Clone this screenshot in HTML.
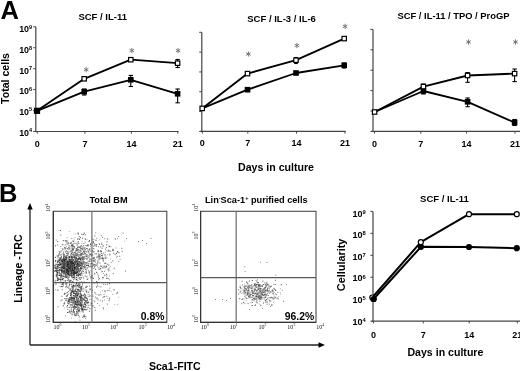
<!DOCTYPE html>
<html><head><meta charset="utf-8"><style>
html,body{margin:0;padding:0;background:#fff;}
svg{display:block;filter:blur(0.3px);}
text{font-family:"Liberation Sans",sans-serif;}
text.sf{font-family:"Liberation Serif",serif;}
</style></head><body>
<svg width="520" height="371" viewBox="0 0 520 371">
<rect width="520" height="371" fill="#fff"/>
<text x="0.4" y="18.8" font-size="25.5" font-weight="bold" text-anchor="start" fill="#000">A</text>
<text x="102.7" y="19.6" font-size="9.5" font-weight="bold" text-anchor="middle" fill="#000">SCF / IL-11</text>
<text x="281.6" y="21.7" font-size="9.5" font-weight="bold" text-anchor="middle" fill="#000">SCF / IL-3 / IL-6</text>
<text x="453.5" y="19.0" font-size="9.4" font-weight="bold" text-anchor="middle" fill="#000">SCF / IL-11 / TPO / ProGP</text>
<line x1="35.8" y1="26.8" x2="35.8" y2="131.5" stroke="#444" stroke-width="1.2"/>
<line x1="34.3" y1="131.5" x2="178.6" y2="131.5" stroke="#444" stroke-width="1.2"/>
<line x1="33.199999999999996" y1="26.8" x2="35.8" y2="26.8" stroke="#444" stroke-width="1.0"/>
<line x1="33.199999999999996" y1="47.74" x2="35.8" y2="47.74" stroke="#444" stroke-width="1.0"/>
<line x1="33.199999999999996" y1="68.68" x2="35.8" y2="68.68" stroke="#444" stroke-width="1.0"/>
<line x1="33.199999999999996" y1="89.62" x2="35.8" y2="89.62" stroke="#444" stroke-width="1.0"/>
<line x1="33.199999999999996" y1="110.56" x2="35.8" y2="110.56" stroke="#444" stroke-width="1.0"/>
<line x1="33.199999999999996" y1="131.5" x2="35.8" y2="131.5" stroke="#444" stroke-width="1.0"/>
<line x1="37.2" y1="131.5" x2="37.2" y2="133.7" stroke="#444" stroke-width="1.0"/>
<text x="37.2" y="146.5" font-size="9.0" font-weight="bold" text-anchor="middle" fill="#000">0</text>
<line x1="84.9" y1="131.5" x2="84.9" y2="133.7" stroke="#444" stroke-width="1.0"/>
<text x="84.9" y="146.5" font-size="9.0" font-weight="bold" text-anchor="middle" fill="#000">7</text>
<line x1="131.4" y1="131.5" x2="131.4" y2="133.7" stroke="#444" stroke-width="1.0"/>
<text x="131.4" y="146.5" font-size="9.0" font-weight="bold" text-anchor="middle" fill="#000">14</text>
<line x1="177.8" y1="131.5" x2="177.8" y2="133.7" stroke="#444" stroke-width="1.0"/>
<text x="177.8" y="146.5" font-size="9.0" font-weight="bold" text-anchor="middle" fill="#000">21</text>
<text x="29.0" y="32.4" font-size="8.9" font-weight="bold" text-anchor="end" fill="#000">10</text>
<text x="29.0" y="29.0" font-size="5.5" font-weight="bold" text-anchor="start" fill="#000">9</text>
<text x="29.0" y="53.02" font-size="8.9" font-weight="bold" text-anchor="end" fill="#000">10</text>
<text x="29.0" y="49.62" font-size="5.5" font-weight="bold" text-anchor="start" fill="#000">8</text>
<text x="29.0" y="73.64" font-size="8.9" font-weight="bold" text-anchor="end" fill="#000">10</text>
<text x="29.0" y="70.24" font-size="5.5" font-weight="bold" text-anchor="start" fill="#000">7</text>
<text x="29.0" y="94.26" font-size="8.9" font-weight="bold" text-anchor="end" fill="#000">10</text>
<text x="29.0" y="90.86" font-size="5.5" font-weight="bold" text-anchor="start" fill="#000">6</text>
<text x="29.0" y="114.88" font-size="8.9" font-weight="bold" text-anchor="end" fill="#000">10</text>
<text x="29.0" y="111.48" font-size="5.5" font-weight="bold" text-anchor="start" fill="#000">5</text>
<text x="29.0" y="135.5" font-size="8.9" font-weight="bold" text-anchor="end" fill="#000">10</text>
<text x="29.0" y="132.1" font-size="5.5" font-weight="bold" text-anchor="start" fill="#000">4</text>
<line x1="201.8" y1="32.3" x2="201.8" y2="131.4" stroke="#444" stroke-width="1.2"/>
<line x1="200.3" y1="131.4" x2="345.6" y2="131.4" stroke="#444" stroke-width="1.2"/>
<line x1="199.20000000000002" y1="32.3" x2="201.8" y2="32.3" stroke="#444" stroke-width="1.0"/>
<line x1="199.20000000000002" y1="52.12" x2="201.8" y2="52.12" stroke="#444" stroke-width="1.0"/>
<line x1="199.20000000000002" y1="71.94" x2="201.8" y2="71.94" stroke="#444" stroke-width="1.0"/>
<line x1="199.20000000000002" y1="91.75999999999999" x2="201.8" y2="91.75999999999999" stroke="#444" stroke-width="1.0"/>
<line x1="199.20000000000002" y1="111.58" x2="201.8" y2="111.58" stroke="#444" stroke-width="1.0"/>
<line x1="199.20000000000002" y1="131.39999999999998" x2="201.8" y2="131.39999999999998" stroke="#444" stroke-width="1.0"/>
<line x1="202.3" y1="131.4" x2="202.3" y2="133.6" stroke="#444" stroke-width="1.0"/>
<text x="202.3" y="145.7" font-size="9.0" font-weight="bold" text-anchor="middle" fill="#000">0</text>
<line x1="247.8" y1="131.4" x2="247.8" y2="133.6" stroke="#444" stroke-width="1.0"/>
<text x="247.8" y="145.7" font-size="9.0" font-weight="bold" text-anchor="middle" fill="#000">7</text>
<line x1="296.5" y1="131.4" x2="296.5" y2="133.6" stroke="#444" stroke-width="1.0"/>
<text x="296.5" y="145.7" font-size="9.0" font-weight="bold" text-anchor="middle" fill="#000">14</text>
<line x1="345.0" y1="131.4" x2="345.0" y2="133.6" stroke="#444" stroke-width="1.0"/>
<text x="345.0" y="145.7" font-size="9.0" font-weight="bold" text-anchor="middle" fill="#000">21</text>
<line x1="373.0" y1="29.4" x2="373.0" y2="131.4" stroke="#444" stroke-width="1.2"/>
<line x1="371.5" y1="131.4" x2="520" y2="131.4" stroke="#444" stroke-width="1.2"/>
<line x1="370.4" y1="29.4" x2="373.0" y2="29.4" stroke="#444" stroke-width="1.0"/>
<line x1="370.4" y1="49.8" x2="373.0" y2="49.8" stroke="#444" stroke-width="1.0"/>
<line x1="370.4" y1="70.19999999999999" x2="373.0" y2="70.19999999999999" stroke="#444" stroke-width="1.0"/>
<line x1="370.4" y1="90.6" x2="373.0" y2="90.6" stroke="#444" stroke-width="1.0"/>
<line x1="370.4" y1="111.0" x2="373.0" y2="111.0" stroke="#444" stroke-width="1.0"/>
<line x1="370.4" y1="131.4" x2="373.0" y2="131.4" stroke="#444" stroke-width="1.0"/>
<line x1="374.5" y1="131.4" x2="374.5" y2="133.6" stroke="#444" stroke-width="1.0"/>
<text x="374.5" y="147.0" font-size="9.0" font-weight="bold" text-anchor="middle" fill="#000">0</text>
<line x1="420.8" y1="131.4" x2="420.8" y2="133.6" stroke="#444" stroke-width="1.0"/>
<text x="420.8" y="147.0" font-size="9.0" font-weight="bold" text-anchor="middle" fill="#000">7</text>
<line x1="466.5" y1="131.4" x2="466.5" y2="133.6" stroke="#444" stroke-width="1.0"/>
<text x="466.5" y="147.0" font-size="9.0" font-weight="bold" text-anchor="middle" fill="#000">14</text>
<line x1="515.0" y1="131.4" x2="515.0" y2="133.6" stroke="#444" stroke-width="1.0"/>
<text x="515.0" y="147.0" font-size="9.0" font-weight="bold" text-anchor="middle" fill="#000">21</text>
<text x="276" y="170.5" font-size="10.6" font-weight="bold" text-anchor="middle" fill="#000">Days in culture</text>
<text transform="translate(9.3,78.5) rotate(-90)" font-size="10.6" font-weight="bold" text-anchor="middle" >Total cells</text>
<polyline points="37.0,110.8 84.2,78.8 130.8,59.7 177.6,63.2" fill="none" stroke="#000" stroke-width="1.85" stroke-linejoin="round"/>
<polyline points="37.0,110.8 84.2,91.7 130.8,79.8 177.6,93.8" fill="none" stroke="#000" stroke-width="1.85" stroke-linejoin="round"/>
<line x1="84.2" y1="89" x2="84.2" y2="95" stroke="#000" stroke-width="1.1"/>
<line x1="82.0" y1="89" x2="86.4" y2="89" stroke="#000" stroke-width="1.1"/>
<line x1="82.0" y1="95" x2="86.4" y2="95" stroke="#000" stroke-width="1.1"/>
<line x1="130.8" y1="75.4" x2="130.8" y2="86.5" stroke="#000" stroke-width="1.1"/>
<line x1="128.60000000000002" y1="75.4" x2="133.0" y2="75.4" stroke="#000" stroke-width="1.1"/>
<line x1="128.60000000000002" y1="86.5" x2="133.0" y2="86.5" stroke="#000" stroke-width="1.1"/>
<line x1="177.6" y1="89" x2="177.6" y2="102.8" stroke="#000" stroke-width="1.1"/>
<line x1="175.4" y1="89" x2="179.79999999999998" y2="89" stroke="#000" stroke-width="1.1"/>
<line x1="175.4" y1="102.8" x2="179.79999999999998" y2="102.8" stroke="#000" stroke-width="1.1"/>
<line x1="177.6" y1="59.5" x2="177.6" y2="67.5" stroke="#000" stroke-width="1.1"/>
<line x1="175.4" y1="59.5" x2="179.79999999999998" y2="59.5" stroke="#000" stroke-width="1.1"/>
<line x1="175.4" y1="67.5" x2="179.79999999999998" y2="67.5" stroke="#000" stroke-width="1.1"/>
<rect x="34.2" y="108.0" width="5.6" height="5.6" fill="#000"/>
<rect x="81.4" y="88.9" width="5.6" height="5.6" fill="#000"/>
<rect x="128.0" y="77.0" width="5.6" height="5.6" fill="#000"/>
<rect x="174.79999999999998" y="91.0" width="5.6" height="5.6" fill="#000"/>
<rect x="82.0" y="76.6" width="4.3999999999999995" height="4.3999999999999995" fill="#fff" stroke="#000" stroke-width="1.2"/>
<rect x="128.6" y="57.50000000000001" width="4.3999999999999995" height="4.3999999999999995" fill="#fff" stroke="#000" stroke-width="1.2"/>
<rect x="175.39999999999998" y="61.00000000000001" width="4.3999999999999995" height="4.3999999999999995" fill="#fff" stroke="#000" stroke-width="1.2"/>
<rect x="33.9" y="107.7" width="6.2" height="6.2" fill="#000"/>
<line x1="86.2" y1="67.1" x2="86.2" y2="72.3" stroke="#777" stroke-width="1.0"/>
<line x1="83.95" y1="68.4" x2="88.45" y2="71.0" stroke="#777" stroke-width="1.0"/>
<line x1="88.45" y1="68.4" x2="83.95" y2="71.0" stroke="#777" stroke-width="1.0"/>
<line x1="131.8" y1="47.9" x2="131.8" y2="53.1" stroke="#777" stroke-width="1.0"/>
<line x1="129.55" y1="49.2" x2="134.05" y2="51.8" stroke="#777" stroke-width="1.0"/>
<line x1="134.05" y1="49.2" x2="129.55" y2="51.8" stroke="#777" stroke-width="1.0"/>
<line x1="178.1" y1="48.0" x2="178.1" y2="53.2" stroke="#777" stroke-width="1.0"/>
<line x1="175.85" y1="49.3" x2="180.35" y2="51.9" stroke="#777" stroke-width="1.0"/>
<line x1="180.35" y1="49.3" x2="175.85" y2="51.9" stroke="#777" stroke-width="1.0"/>
<polyline points="202.2,108.4 247.5,73.6 296.0,60.2 344.2,38.6" fill="none" stroke="#000" stroke-width="1.85" stroke-linejoin="round"/>
<polyline points="202.2,108.4 247.5,89.7 296.0,73.0 344.2,65.3" fill="none" stroke="#000" stroke-width="1.85" stroke-linejoin="round"/>
<line x1="296.0" y1="57.5" x2="296.0" y2="63.5" stroke="#000" stroke-width="1.1"/>
<line x1="294.2" y1="57.5" x2="297.8" y2="57.5" stroke="#000" stroke-width="1.1"/>
<line x1="294.2" y1="63.5" x2="297.8" y2="63.5" stroke="#000" stroke-width="1.1"/>
<line x1="344.2" y1="63" x2="344.2" y2="68" stroke="#000" stroke-width="1.1"/>
<line x1="342.4" y1="63" x2="346.0" y2="63" stroke="#000" stroke-width="1.1"/>
<line x1="342.4" y1="68" x2="346.0" y2="68" stroke="#000" stroke-width="1.1"/>
<rect x="244.7" y="86.9" width="5.6" height="5.6" fill="#000"/>
<rect x="293.2" y="70.2" width="5.6" height="5.6" fill="#000"/>
<rect x="341.4" y="62.5" width="5.6" height="5.6" fill="#000"/>
<rect x="199.99999999999997" y="106.2" width="4.3999999999999995" height="4.3999999999999995" fill="#fff" stroke="#000" stroke-width="1.2"/>
<rect x="245.29999999999998" y="71.39999999999999" width="4.3999999999999995" height="4.3999999999999995" fill="#fff" stroke="#000" stroke-width="1.2"/>
<rect x="293.8" y="58.00000000000001" width="4.3999999999999995" height="4.3999999999999995" fill="#fff" stroke="#000" stroke-width="1.2"/>
<rect x="342.0" y="36.400000000000006" width="4.3999999999999995" height="4.3999999999999995" fill="#fff" stroke="#000" stroke-width="1.2"/>
<line x1="248.4" y1="51.4" x2="248.4" y2="56.6" stroke="#777" stroke-width="1.0"/>
<line x1="246.15" y1="52.7" x2="250.65" y2="55.3" stroke="#777" stroke-width="1.0"/>
<line x1="250.65" y1="52.7" x2="246.15" y2="55.3" stroke="#777" stroke-width="1.0"/>
<line x1="296.9" y1="42.9" x2="296.9" y2="48.1" stroke="#777" stroke-width="1.0"/>
<line x1="294.65" y1="44.2" x2="299.15" y2="46.8" stroke="#777" stroke-width="1.0"/>
<line x1="299.15" y1="44.2" x2="294.65" y2="46.8" stroke="#777" stroke-width="1.0"/>
<line x1="345.1" y1="23.8" x2="345.1" y2="29.0" stroke="#777" stroke-width="1.0"/>
<line x1="342.85" y1="25.1" x2="347.35" y2="27.7" stroke="#777" stroke-width="1.0"/>
<line x1="347.35" y1="25.1" x2="342.85" y2="27.7" stroke="#777" stroke-width="1.0"/>
<polyline points="374.6,112 423.4,86.6 467.6,75.5 514.6,73.6" fill="none" stroke="#000" stroke-width="1.85" stroke-linejoin="round"/>
<polyline points="374.6,112 423.4,91 467.6,101.8 514.6,122.5" fill="none" stroke="#000" stroke-width="1.85" stroke-linejoin="round"/>
<line x1="423.4" y1="84" x2="423.4" y2="94" stroke="#000" stroke-width="1.1"/>
<line x1="421.2" y1="84" x2="425.59999999999997" y2="84" stroke="#000" stroke-width="1.1"/>
<line x1="421.2" y1="94" x2="425.59999999999997" y2="94" stroke="#000" stroke-width="1.1"/>
<line x1="467.6" y1="72.6" x2="467.6" y2="82.3" stroke="#000" stroke-width="1.1"/>
<line x1="465.40000000000003" y1="72.6" x2="469.8" y2="72.6" stroke="#000" stroke-width="1.1"/>
<line x1="465.40000000000003" y1="82.3" x2="469.8" y2="82.3" stroke="#000" stroke-width="1.1"/>
<line x1="514.6" y1="69" x2="514.6" y2="81.6" stroke="#000" stroke-width="1.1"/>
<line x1="512.4" y1="69" x2="516.8000000000001" y2="69" stroke="#000" stroke-width="1.1"/>
<line x1="512.4" y1="81.6" x2="516.8000000000001" y2="81.6" stroke="#000" stroke-width="1.1"/>
<line x1="467.6" y1="98" x2="467.6" y2="106.7" stroke="#000" stroke-width="1.1"/>
<line x1="465.40000000000003" y1="98" x2="469.8" y2="98" stroke="#000" stroke-width="1.1"/>
<line x1="465.40000000000003" y1="106.7" x2="469.8" y2="106.7" stroke="#000" stroke-width="1.1"/>
<line x1="514.6" y1="119.5" x2="514.6" y2="125.5" stroke="#000" stroke-width="1.1"/>
<line x1="512.4" y1="119.5" x2="516.8000000000001" y2="119.5" stroke="#000" stroke-width="1.1"/>
<line x1="512.4" y1="125.5" x2="516.8000000000001" y2="125.5" stroke="#000" stroke-width="1.1"/>
<rect x="420.59999999999997" y="88.2" width="5.6" height="5.6" fill="#000"/>
<rect x="464.8" y="99.0" width="5.6" height="5.6" fill="#000"/>
<rect x="511.8" y="119.7" width="5.6" height="5.6" fill="#000"/>
<rect x="372.40000000000003" y="109.8" width="4.3999999999999995" height="4.3999999999999995" fill="#fff" stroke="#000" stroke-width="1.2"/>
<rect x="421.2" y="84.39999999999999" width="4.3999999999999995" height="4.3999999999999995" fill="#fff" stroke="#000" stroke-width="1.2"/>
<rect x="465.40000000000003" y="73.3" width="4.3999999999999995" height="4.3999999999999995" fill="#fff" stroke="#000" stroke-width="1.2"/>
<rect x="512.4" y="71.39999999999999" width="4.3999999999999995" height="4.3999999999999995" fill="#fff" stroke="#000" stroke-width="1.2"/>
<line x1="468.5" y1="39.4" x2="468.5" y2="44.6" stroke="#777" stroke-width="1.0"/>
<line x1="466.25" y1="40.7" x2="470.75" y2="43.3" stroke="#777" stroke-width="1.0"/>
<line x1="470.75" y1="40.7" x2="466.25" y2="43.3" stroke="#777" stroke-width="1.0"/>
<line x1="515.5" y1="39.4" x2="515.5" y2="44.6" stroke="#777" stroke-width="1.0"/>
<line x1="513.25" y1="40.7" x2="517.75" y2="43.3" stroke="#777" stroke-width="1.0"/>
<line x1="517.75" y1="40.7" x2="513.25" y2="43.3" stroke="#777" stroke-width="1.0"/>
<text x="-1.1" y="202.2" font-size="25.5" font-weight="bold" text-anchor="start" fill="#000">B</text>
<line x1="30" y1="345" x2="30" y2="207" stroke="#222" stroke-width="1.3"/>
<polygon points="30,203 27.3,209.5 32.7,209.5" fill="#000"/>
<line x1="30" y1="345" x2="319" y2="345" stroke="#222" stroke-width="1.3"/>
<polygon points="325,345 318.5,342.3 318.5,347.7" fill="#000"/>
<text transform="translate(22.3,268.6) rotate(-90)" font-size="10.6" font-weight="bold" text-anchor="middle" >Lineage -TRC</text>
<text x="174.8" y="370" font-size="10.6" font-weight="bold" text-anchor="middle" fill="#000">Sca1-FITC</text>
<text x="108.5" y="202.5" font-size="9.2" font-weight="bold" text-anchor="middle" fill="#000">Total BM</text>
<text x="256.3" y="202.5" font-size="9.2" font-weight="bold" text-anchor="middle" >Lin<tspan font-size="5.5" dy="-3">-</tspan><tspan dy="3">Sca-1</tspan><tspan font-size="5.5" dy="-3">+</tspan><tspan dy="3"> purified cells</tspan></text>
<text x="164.5" y="320" font-size="10.4" font-weight="bold" text-anchor="end" fill="#000">0.8%</text>
<text x="314.2" y="319.5" font-size="10.4" font-weight="bold" text-anchor="end" fill="#000">96.2%</text>
<rect x="53.3" y="211.3" width="113.50000000000001" height="111.09999999999997" fill="none" stroke="#4a4a4a" stroke-width="1.1"/>
<line x1="53.3" y1="211.3" x2="53.3" y2="322.4" stroke="#333" stroke-width="1.1"/>
<line x1="53.3" y1="322.4" x2="166.8" y2="322.4" stroke="#333" stroke-width="1.1"/>
<line x1="91.9" y1="211.3" x2="91.9" y2="322.4" stroke="#777" stroke-width="1.3"/>
<line x1="53.3" y1="282.7" x2="166.8" y2="282.7" stroke="#5a5a5a" stroke-width="1.2"/>
<text class="sf" x="53.5" y="328.8" font-size="6.0" font-weight="normal" text-anchor="start" fill="#111">10</text>
<text class="sf" x="59.6" y="326.3" font-size="3.8" font-weight="normal" text-anchor="start" fill="#111">0</text>
<text class="sf" transform="translate(50.20,322.80) rotate(-90)" font-size="6" fill="#111">10</text>
<text class="sf" transform="translate(47.70,316.70) rotate(-90)" font-size="3.8" fill="#111">0</text>
<text class="sf" x="81.88" y="328.8" font-size="6.0" font-weight="normal" text-anchor="start" fill="#111">10</text>
<text class="sf" x="87.97" y="326.3" font-size="3.8" font-weight="normal" text-anchor="start" fill="#111">1</text>
<text class="sf" transform="translate(50.20,295.02) rotate(-90)" font-size="6" fill="#111">10</text>
<text class="sf" transform="translate(47.70,288.93) rotate(-90)" font-size="3.8" fill="#111">1</text>
<text class="sf" x="110.25" y="328.8" font-size="6.0" font-weight="normal" text-anchor="start" fill="#111">10</text>
<text class="sf" x="116.35" y="326.3" font-size="3.8" font-weight="normal" text-anchor="start" fill="#111">2</text>
<text class="sf" transform="translate(50.20,267.25) rotate(-90)" font-size="6" fill="#111">10</text>
<text class="sf" transform="translate(47.70,261.15) rotate(-90)" font-size="3.8" fill="#111">2</text>
<text class="sf" x="138.62" y="328.8" font-size="6.0" font-weight="normal" text-anchor="start" fill="#111">10</text>
<text class="sf" x="144.73" y="326.3" font-size="3.8" font-weight="normal" text-anchor="start" fill="#111">3</text>
<text class="sf" transform="translate(50.20,239.47) rotate(-90)" font-size="6" fill="#111">10</text>
<text class="sf" transform="translate(47.70,233.38) rotate(-90)" font-size="3.8" fill="#111">3</text>
<text class="sf" x="167.0" y="328.8" font-size="6.0" font-weight="normal" text-anchor="start" fill="#111">10</text>
<text class="sf" x="173.1" y="326.3" font-size="3.8" font-weight="normal" text-anchor="start" fill="#111">4</text>
<text class="sf" transform="translate(50.20,211.70) rotate(-90)" font-size="6" fill="#111">10</text>
<text class="sf" transform="translate(47.70,205.60) rotate(-90)" font-size="3.8" fill="#111">4</text>
<rect x="200.6" y="211.3" width="115.4" height="111.09999999999997" fill="none" stroke="#4a4a4a" stroke-width="1.1"/>
<line x1="200.6" y1="211.3" x2="200.6" y2="322.4" stroke="#333" stroke-width="1.1"/>
<line x1="200.6" y1="322.4" x2="316.0" y2="322.4" stroke="#333" stroke-width="1.1"/>
<line x1="236.2" y1="211.3" x2="236.2" y2="322.4" stroke="#777" stroke-width="1.3"/>
<line x1="200.6" y1="277.6" x2="316.0" y2="277.6" stroke="#5a5a5a" stroke-width="1.2"/>
<text class="sf" x="200.8" y="328.8" font-size="6.0" font-weight="normal" text-anchor="start" fill="#111">10</text>
<text class="sf" x="206.9" y="326.3" font-size="3.8" font-weight="normal" text-anchor="start" fill="#111">0</text>
<text class="sf" transform="translate(197.50,322.80) rotate(-90)" font-size="6" fill="#111">10</text>
<text class="sf" transform="translate(195.00,316.70) rotate(-90)" font-size="3.8" fill="#111">0</text>
<text class="sf" x="229.65" y="328.8" font-size="6.0" font-weight="normal" text-anchor="start" fill="#111">10</text>
<text class="sf" x="235.75" y="326.3" font-size="3.8" font-weight="normal" text-anchor="start" fill="#111">1</text>
<text class="sf" transform="translate(197.50,295.02) rotate(-90)" font-size="6" fill="#111">10</text>
<text class="sf" transform="translate(195.00,288.93) rotate(-90)" font-size="3.8" fill="#111">1</text>
<text class="sf" x="258.5" y="328.8" font-size="6.0" font-weight="normal" text-anchor="start" fill="#111">10</text>
<text class="sf" x="264.6" y="326.3" font-size="3.8" font-weight="normal" text-anchor="start" fill="#111">2</text>
<text class="sf" transform="translate(197.50,267.25) rotate(-90)" font-size="6" fill="#111">10</text>
<text class="sf" transform="translate(195.00,261.15) rotate(-90)" font-size="3.8" fill="#111">2</text>
<text class="sf" x="287.35" y="328.8" font-size="6.0" font-weight="normal" text-anchor="start" fill="#111">10</text>
<text class="sf" x="293.45" y="326.3" font-size="3.8" font-weight="normal" text-anchor="start" fill="#111">3</text>
<text class="sf" transform="translate(197.50,239.47) rotate(-90)" font-size="6" fill="#111">10</text>
<text class="sf" transform="translate(195.00,233.38) rotate(-90)" font-size="3.8" fill="#111">3</text>
<text class="sf" x="316.2" y="328.8" font-size="6.0" font-weight="normal" text-anchor="start" fill="#111">10</text>
<text class="sf" x="322.3" y="326.3" font-size="3.8" font-weight="normal" text-anchor="start" fill="#111">4</text>
<text class="sf" transform="translate(197.50,211.70) rotate(-90)" font-size="6" fill="#111">10</text>
<text class="sf" transform="translate(195.00,205.60) rotate(-90)" font-size="3.8" fill="#111">4</text>
<rect x="66.6" y="270.7" width="1.0" height="1.0" fill="#333"/>
<rect x="79.6" y="268.6" width="1.0" height="1.0" fill="#777"/>
<rect x="69.9" y="269.3" width="1.0" height="1.0" fill="#999"/>
<rect x="72.8" y="266.9" width="1.0" height="1.0" fill="#999"/>
<rect x="80.4" y="267.9" width="1.0" height="1.0" fill="#555"/>
<rect x="60.4" y="259.5" width="1.0" height="1.0" fill="#333"/>
<rect x="60.5" y="263.6" width="1.0" height="1.0" fill="#555"/>
<rect x="87.0" y="267.5" width="1.0" height="1.0" fill="#777"/>
<rect x="58.6" y="272.9" width="1.0" height="1.0" fill="#777"/>
<rect x="55.6" y="263.7" width="1.0" height="1.0" fill="#333"/>
<rect x="57.2" y="262.3" width="1.0" height="1.0" fill="#777"/>
<rect x="81.3" y="271.4" width="1.0" height="1.0" fill="#333"/>
<rect x="60.8" y="260.8" width="1.0" height="1.0" fill="#999"/>
<rect x="70.8" y="256.5" width="1.0" height="1.0" fill="#999"/>
<rect x="64.4" y="271.6" width="1.0" height="1.0" fill="#555"/>
<rect x="66.8" y="260.5" width="1.0" height="1.0" fill="#777"/>
<rect x="68.0" y="259.4" width="1.0" height="1.0" fill="#333"/>
<rect x="76.3" y="270.6" width="1.0" height="1.0" fill="#777"/>
<rect x="75.4" y="272.7" width="1.0" height="1.0" fill="#333"/>
<rect x="72.7" y="264.5" width="1.0" height="1.0" fill="#777"/>
<rect x="64.3" y="273.4" width="1.0" height="1.0" fill="#999"/>
<rect x="59.8" y="263.2" width="1.0" height="1.0" fill="#333"/>
<rect x="79.1" y="261.0" width="1.0" height="1.0" fill="#333"/>
<rect x="82.7" y="268.4" width="1.0" height="1.0" fill="#999"/>
<rect x="67.0" y="274.4" width="1.0" height="1.0" fill="#777"/>
<rect x="79.5" y="265.4" width="1.0" height="1.0" fill="#555"/>
<rect x="60.5" y="261.3" width="1.0" height="1.0" fill="#555"/>
<rect x="69.6" y="261.5" width="1.0" height="1.0" fill="#555"/>
<rect x="63.3" y="267.1" width="1.0" height="1.0" fill="#999"/>
<rect x="77.0" y="249.5" width="1.0" height="1.0" fill="#777"/>
<rect x="61.5" y="243.8" width="1.0" height="1.0" fill="#999"/>
<rect x="74.2" y="263.8" width="1.0" height="1.0" fill="#555"/>
<rect x="77.1" y="274.5" width="1.0" height="1.0" fill="#333"/>
<rect x="56.4" y="269.3" width="1.0" height="1.0" fill="#777"/>
<rect x="67.9" y="270.8" width="1.0" height="1.0" fill="#777"/>
<rect x="62.6" y="262.5" width="1.0" height="1.0" fill="#555"/>
<rect x="64.8" y="257.4" width="1.0" height="1.0" fill="#333"/>
<rect x="82.7" y="259.8" width="1.0" height="1.0" fill="#999"/>
<rect x="61.4" y="272.3" width="1.0" height="1.0" fill="#999"/>
<rect x="66.7" y="264.2" width="1.0" height="1.0" fill="#333"/>
<rect x="79.2" y="263.3" width="1.0" height="1.0" fill="#333"/>
<rect x="67.3" y="268.6" width="1.0" height="1.0" fill="#333"/>
<rect x="58.2" y="263.7" width="1.0" height="1.0" fill="#777"/>
<rect x="66.3" y="264.4" width="1.0" height="1.0" fill="#555"/>
<rect x="64.9" y="263.6" width="1.0" height="1.0" fill="#777"/>
<rect x="81.4" y="260.7" width="1.0" height="1.0" fill="#999"/>
<rect x="82.2" y="274.9" width="1.0" height="1.0" fill="#999"/>
<rect x="60.8" y="268.3" width="1.0" height="1.0" fill="#555"/>
<rect x="76.0" y="269.3" width="1.0" height="1.0" fill="#777"/>
<rect x="54.6" y="270.3" width="1.0" height="1.0" fill="#333"/>
<rect x="75.5" y="284.6" width="1.0" height="1.0" fill="#777"/>
<rect x="76.2" y="273.0" width="1.0" height="1.0" fill="#333"/>
<rect x="69.4" y="258.9" width="1.0" height="1.0" fill="#333"/>
<rect x="66.5" y="260.3" width="1.0" height="1.0" fill="#777"/>
<rect x="76.5" y="260.4" width="1.0" height="1.0" fill="#555"/>
<rect x="65.8" y="271.8" width="1.0" height="1.0" fill="#555"/>
<rect x="75.1" y="250.5" width="1.0" height="1.0" fill="#555"/>
<rect x="72.4" y="274.6" width="1.0" height="1.0" fill="#333"/>
<rect x="85.8" y="262.0" width="1.0" height="1.0" fill="#999"/>
<rect x="68.2" y="278.9" width="1.0" height="1.0" fill="#777"/>
<rect x="92.6" y="260.2" width="1.0" height="1.0" fill="#777"/>
<rect x="72.9" y="267.2" width="1.0" height="1.0" fill="#999"/>
<rect x="71.1" y="270.9" width="1.0" height="1.0" fill="#333"/>
<rect x="55.3" y="270.0" width="1.0" height="1.0" fill="#333"/>
<rect x="71.4" y="261.9" width="1.0" height="1.0" fill="#999"/>
<rect x="72.2" y="251.8" width="1.0" height="1.0" fill="#999"/>
<rect x="76.8" y="258.9" width="1.0" height="1.0" fill="#777"/>
<rect x="88.6" y="272.9" width="1.0" height="1.0" fill="#999"/>
<rect x="73.8" y="267.6" width="1.0" height="1.0" fill="#555"/>
<rect x="81.5" y="265.7" width="1.0" height="1.0" fill="#999"/>
<rect x="70.9" y="261.3" width="1.0" height="1.0" fill="#999"/>
<rect x="64.1" y="260.4" width="1.0" height="1.0" fill="#555"/>
<rect x="85.9" y="265.0" width="1.0" height="1.0" fill="#333"/>
<rect x="72.0" y="260.4" width="1.0" height="1.0" fill="#777"/>
<rect x="71.6" y="275.1" width="1.0" height="1.0" fill="#777"/>
<rect x="68.4" y="274.8" width="1.0" height="1.0" fill="#555"/>
<rect x="83.5" y="268.5" width="1.0" height="1.0" fill="#999"/>
<rect x="59.9" y="254.6" width="1.0" height="1.0" fill="#999"/>
<rect x="78.1" y="249.3" width="1.0" height="1.0" fill="#555"/>
<rect x="57.7" y="266.0" width="1.0" height="1.0" fill="#333"/>
<rect x="80.5" y="253.6" width="1.0" height="1.0" fill="#333"/>
<rect x="69.9" y="261.2" width="1.0" height="1.0" fill="#555"/>
<rect x="61.1" y="264.8" width="1.0" height="1.0" fill="#999"/>
<rect x="70.0" y="262.0" width="1.0" height="1.0" fill="#333"/>
<rect x="69.1" y="272.7" width="1.0" height="1.0" fill="#333"/>
<rect x="56.8" y="267.7" width="1.0" height="1.0" fill="#333"/>
<rect x="56.7" y="272.2" width="1.0" height="1.0" fill="#555"/>
<rect x="65.3" y="258.1" width="1.0" height="1.0" fill="#999"/>
<rect x="61.8" y="267.0" width="1.0" height="1.0" fill="#777"/>
<rect x="86.8" y="254.6" width="1.0" height="1.0" fill="#555"/>
<rect x="71.8" y="261.7" width="1.0" height="1.0" fill="#333"/>
<rect x="62.5" y="271.7" width="1.0" height="1.0" fill="#555"/>
<rect x="63.1" y="269.6" width="1.0" height="1.0" fill="#777"/>
<rect x="73.3" y="247.9" width="1.0" height="1.0" fill="#555"/>
<rect x="81.7" y="259.3" width="1.0" height="1.0" fill="#777"/>
<rect x="81.3" y="277.3" width="1.0" height="1.0" fill="#999"/>
<rect x="73.5" y="285.4" width="1.0" height="1.0" fill="#999"/>
<rect x="73.2" y="262.0" width="1.0" height="1.0" fill="#555"/>
<rect x="74.3" y="272.6" width="1.0" height="1.0" fill="#999"/>
<rect x="65.7" y="271.3" width="1.0" height="1.0" fill="#777"/>
<rect x="76.6" y="269.0" width="1.0" height="1.0" fill="#777"/>
<rect x="59.3" y="264.7" width="1.0" height="1.0" fill="#333"/>
<rect x="60.4" y="274.2" width="1.0" height="1.0" fill="#777"/>
<rect x="65.5" y="266.4" width="1.0" height="1.0" fill="#555"/>
<rect x="73.4" y="264.5" width="1.0" height="1.0" fill="#777"/>
<rect x="66.2" y="284.4" width="1.0" height="1.0" fill="#555"/>
<rect x="68.4" y="270.5" width="1.0" height="1.0" fill="#999"/>
<rect x="77.4" y="254.4" width="1.0" height="1.0" fill="#777"/>
<rect x="59.2" y="273.5" width="1.0" height="1.0" fill="#999"/>
<rect x="67.7" y="262.8" width="1.0" height="1.0" fill="#333"/>
<rect x="70.9" y="260.6" width="1.0" height="1.0" fill="#333"/>
<rect x="68.8" y="267.6" width="1.0" height="1.0" fill="#333"/>
<rect x="70.3" y="262.5" width="1.0" height="1.0" fill="#555"/>
<rect x="86.3" y="269.7" width="1.0" height="1.0" fill="#999"/>
<rect x="99.5" y="262.5" width="1.0" height="1.0" fill="#999"/>
<rect x="75.7" y="261.9" width="1.0" height="1.0" fill="#555"/>
<rect x="83.4" y="266.9" width="1.0" height="1.0" fill="#333"/>
<rect x="76.3" y="263.5" width="1.0" height="1.0" fill="#555"/>
<rect x="71.5" y="272.4" width="1.0" height="1.0" fill="#777"/>
<rect x="62.7" y="266.0" width="1.0" height="1.0" fill="#999"/>
<rect x="63.1" y="267.1" width="1.0" height="1.0" fill="#777"/>
<rect x="79.1" y="238.8" width="1.0" height="1.0" fill="#333"/>
<rect x="84.4" y="264.6" width="1.0" height="1.0" fill="#555"/>
<rect x="61.9" y="266.7" width="1.0" height="1.0" fill="#999"/>
<rect x="82.8" y="273.1" width="1.0" height="1.0" fill="#999"/>
<rect x="62.4" y="258.5" width="1.0" height="1.0" fill="#999"/>
<rect x="77.0" y="263.2" width="1.0" height="1.0" fill="#555"/>
<rect x="77.7" y="263.6" width="1.0" height="1.0" fill="#555"/>
<rect x="61.7" y="271.6" width="1.0" height="1.0" fill="#333"/>
<rect x="69.8" y="264.6" width="1.0" height="1.0" fill="#777"/>
<rect x="66.1" y="267.7" width="1.0" height="1.0" fill="#999"/>
<rect x="78.7" y="255.2" width="1.0" height="1.0" fill="#777"/>
<rect x="57.1" y="260.7" width="1.0" height="1.0" fill="#333"/>
<rect x="63.6" y="268.2" width="1.0" height="1.0" fill="#999"/>
<rect x="78.0" y="264.6" width="1.0" height="1.0" fill="#777"/>
<rect x="80.8" y="262.1" width="1.0" height="1.0" fill="#555"/>
<rect x="88.2" y="266.3" width="1.0" height="1.0" fill="#555"/>
<rect x="68.7" y="266.4" width="1.0" height="1.0" fill="#999"/>
<rect x="75.6" y="268.2" width="1.0" height="1.0" fill="#555"/>
<rect x="69.2" y="280.4" width="1.0" height="1.0" fill="#333"/>
<rect x="68.6" y="269.7" width="1.0" height="1.0" fill="#999"/>
<rect x="60.9" y="263.1" width="1.0" height="1.0" fill="#777"/>
<rect x="66.7" y="272.1" width="1.0" height="1.0" fill="#555"/>
<rect x="60.7" y="256.4" width="1.0" height="1.0" fill="#999"/>
<rect x="70.4" y="252.5" width="1.0" height="1.0" fill="#999"/>
<rect x="78.0" y="275.2" width="1.0" height="1.0" fill="#555"/>
<rect x="86.4" y="267.2" width="1.0" height="1.0" fill="#999"/>
<rect x="67.2" y="251.2" width="1.0" height="1.0" fill="#555"/>
<rect x="82.4" y="256.1" width="1.0" height="1.0" fill="#333"/>
<rect x="74.8" y="255.2" width="1.0" height="1.0" fill="#555"/>
<rect x="71.4" y="266.8" width="1.0" height="1.0" fill="#777"/>
<rect x="77.9" y="262.4" width="1.0" height="1.0" fill="#999"/>
<rect x="56.5" y="264.0" width="1.0" height="1.0" fill="#555"/>
<rect x="68.2" y="266.2" width="1.0" height="1.0" fill="#333"/>
<rect x="68.9" y="256.2" width="1.0" height="1.0" fill="#333"/>
<rect x="67.1" y="263.7" width="1.0" height="1.0" fill="#999"/>
<rect x="68.9" y="269.3" width="1.0" height="1.0" fill="#777"/>
<rect x="70.5" y="279.7" width="1.0" height="1.0" fill="#555"/>
<rect x="67.3" y="243.6" width="1.0" height="1.0" fill="#999"/>
<rect x="71.1" y="262.9" width="1.0" height="1.0" fill="#777"/>
<rect x="70.4" y="254.3" width="1.0" height="1.0" fill="#555"/>
<rect x="73.7" y="267.4" width="1.0" height="1.0" fill="#777"/>
<rect x="60.5" y="257.1" width="1.0" height="1.0" fill="#555"/>
<rect x="72.4" y="265.6" width="1.0" height="1.0" fill="#777"/>
<rect x="73.3" y="264.6" width="1.0" height="1.0" fill="#555"/>
<rect x="65.5" y="260.5" width="1.0" height="1.0" fill="#777"/>
<rect x="58.6" y="269.9" width="1.0" height="1.0" fill="#333"/>
<rect x="81.0" y="263.4" width="1.0" height="1.0" fill="#777"/>
<rect x="91.1" y="259.4" width="1.0" height="1.0" fill="#333"/>
<rect x="68.1" y="269.4" width="1.0" height="1.0" fill="#999"/>
<rect x="78.4" y="264.0" width="1.0" height="1.0" fill="#555"/>
<rect x="72.7" y="267.0" width="1.0" height="1.0" fill="#777"/>
<rect x="73.8" y="263.8" width="1.0" height="1.0" fill="#777"/>
<rect x="80.2" y="255.5" width="1.0" height="1.0" fill="#555"/>
<rect x="64.6" y="269.8" width="1.0" height="1.0" fill="#999"/>
<rect x="65.0" y="259.0" width="1.0" height="1.0" fill="#555"/>
<rect x="61.0" y="271.5" width="1.0" height="1.0" fill="#333"/>
<rect x="69.3" y="265.5" width="1.0" height="1.0" fill="#777"/>
<rect x="71.6" y="262.0" width="1.0" height="1.0" fill="#555"/>
<rect x="64.3" y="249.4" width="1.0" height="1.0" fill="#777"/>
<rect x="68.9" y="269.1" width="1.0" height="1.0" fill="#999"/>
<rect x="81.7" y="263.6" width="1.0" height="1.0" fill="#777"/>
<rect x="83.2" y="257.1" width="1.0" height="1.0" fill="#333"/>
<rect x="68.4" y="268.8" width="1.0" height="1.0" fill="#777"/>
<rect x="65.4" y="263.1" width="1.0" height="1.0" fill="#777"/>
<rect x="61.4" y="270.2" width="1.0" height="1.0" fill="#777"/>
<rect x="71.2" y="257.0" width="1.0" height="1.0" fill="#333"/>
<rect x="74.1" y="254.2" width="1.0" height="1.0" fill="#555"/>
<rect x="68.4" y="263.5" width="1.0" height="1.0" fill="#999"/>
<rect x="64.2" y="261.5" width="1.0" height="1.0" fill="#333"/>
<rect x="79.2" y="258.6" width="1.0" height="1.0" fill="#555"/>
<rect x="60.4" y="268.9" width="1.0" height="1.0" fill="#777"/>
<rect x="68.4" y="279.7" width="1.0" height="1.0" fill="#777"/>
<rect x="63.2" y="270.5" width="1.0" height="1.0" fill="#999"/>
<rect x="60.1" y="264.7" width="1.0" height="1.0" fill="#555"/>
<rect x="66.7" y="263.8" width="1.0" height="1.0" fill="#999"/>
<rect x="59.1" y="264.9" width="1.0" height="1.0" fill="#777"/>
<rect x="79.4" y="263.9" width="1.0" height="1.0" fill="#555"/>
<rect x="62.2" y="265.4" width="1.0" height="1.0" fill="#555"/>
<rect x="66.7" y="269.5" width="1.0" height="1.0" fill="#555"/>
<rect x="57.3" y="279.3" width="1.0" height="1.0" fill="#555"/>
<rect x="81.0" y="254.8" width="1.0" height="1.0" fill="#999"/>
<rect x="57.3" y="277.3" width="1.0" height="1.0" fill="#555"/>
<rect x="62.8" y="272.4" width="1.0" height="1.0" fill="#333"/>
<rect x="56.6" y="268.3" width="1.0" height="1.0" fill="#777"/>
<rect x="76.9" y="271.6" width="1.0" height="1.0" fill="#555"/>
<rect x="85.9" y="272.7" width="1.0" height="1.0" fill="#999"/>
<rect x="60.7" y="272.8" width="1.0" height="1.0" fill="#777"/>
<rect x="80.2" y="250.2" width="1.0" height="1.0" fill="#333"/>
<rect x="76.0" y="271.0" width="1.0" height="1.0" fill="#999"/>
<rect x="79.8" y="262.2" width="1.0" height="1.0" fill="#333"/>
<rect x="77.5" y="249.9" width="1.0" height="1.0" fill="#999"/>
<rect x="69.0" y="270.0" width="1.0" height="1.0" fill="#555"/>
<rect x="83.7" y="281.6" width="1.0" height="1.0" fill="#333"/>
<rect x="83.2" y="258.7" width="1.0" height="1.0" fill="#999"/>
<rect x="83.2" y="270.8" width="1.0" height="1.0" fill="#333"/>
<rect x="70.4" y="259.8" width="1.0" height="1.0" fill="#333"/>
<rect x="64.1" y="261.3" width="1.0" height="1.0" fill="#555"/>
<rect x="60.8" y="260.2" width="1.0" height="1.0" fill="#999"/>
<rect x="67.5" y="262.4" width="1.0" height="1.0" fill="#333"/>
<rect x="61.9" y="286.2" width="1.0" height="1.0" fill="#555"/>
<rect x="63.8" y="270.8" width="1.0" height="1.0" fill="#333"/>
<rect x="77.0" y="265.0" width="1.0" height="1.0" fill="#999"/>
<rect x="67.5" y="273.4" width="1.0" height="1.0" fill="#555"/>
<rect x="62.1" y="268.2" width="1.0" height="1.0" fill="#555"/>
<rect x="78.6" y="265.8" width="1.0" height="1.0" fill="#777"/>
<rect x="74.9" y="266.8" width="1.0" height="1.0" fill="#999"/>
<rect x="75.0" y="267.9" width="1.0" height="1.0" fill="#999"/>
<rect x="75.1" y="262.2" width="1.0" height="1.0" fill="#333"/>
<rect x="64.0" y="254.4" width="1.0" height="1.0" fill="#777"/>
<rect x="66.4" y="261.4" width="1.0" height="1.0" fill="#777"/>
<rect x="68.2" y="256.3" width="1.0" height="1.0" fill="#555"/>
<rect x="62.6" y="267.3" width="1.0" height="1.0" fill="#555"/>
<rect x="69.8" y="271.7" width="1.0" height="1.0" fill="#777"/>
<rect x="79.3" y="271.5" width="1.0" height="1.0" fill="#555"/>
<rect x="77.7" y="258.6" width="1.0" height="1.0" fill="#333"/>
<rect x="74.1" y="263.6" width="1.0" height="1.0" fill="#999"/>
<rect x="71.0" y="266.3" width="1.0" height="1.0" fill="#555"/>
<rect x="56.1" y="274.9" width="1.0" height="1.0" fill="#555"/>
<rect x="80.5" y="254.9" width="1.0" height="1.0" fill="#333"/>
<rect x="76.7" y="261.5" width="1.0" height="1.0" fill="#555"/>
<rect x="62.3" y="258.9" width="1.0" height="1.0" fill="#999"/>
<rect x="82.8" y="266.0" width="1.0" height="1.0" fill="#999"/>
<rect x="83.6" y="242.9" width="1.0" height="1.0" fill="#999"/>
<rect x="69.3" y="266.5" width="1.0" height="1.0" fill="#777"/>
<rect x="77.7" y="268.7" width="1.0" height="1.0" fill="#333"/>
<rect x="57.1" y="277.9" width="1.0" height="1.0" fill="#777"/>
<rect x="73.4" y="257.2" width="1.0" height="1.0" fill="#333"/>
<rect x="67.3" y="261.0" width="1.0" height="1.0" fill="#999"/>
<rect x="72.2" y="272.9" width="1.0" height="1.0" fill="#999"/>
<rect x="78.6" y="265.9" width="1.0" height="1.0" fill="#999"/>
<rect x="71.4" y="266.1" width="1.0" height="1.0" fill="#333"/>
<rect x="70.1" y="263.0" width="1.0" height="1.0" fill="#555"/>
<rect x="68.7" y="248.2" width="1.0" height="1.0" fill="#777"/>
<rect x="63.4" y="272.7" width="1.0" height="1.0" fill="#333"/>
<rect x="67.8" y="279.4" width="1.0" height="1.0" fill="#777"/>
<rect x="76.1" y="261.5" width="1.0" height="1.0" fill="#333"/>
<rect x="75.9" y="265.7" width="1.0" height="1.0" fill="#999"/>
<rect x="66.7" y="257.3" width="1.0" height="1.0" fill="#999"/>
<rect x="74.2" y="247.2" width="1.0" height="1.0" fill="#999"/>
<rect x="76.5" y="271.9" width="1.0" height="1.0" fill="#333"/>
<rect x="74.0" y="252.2" width="1.0" height="1.0" fill="#555"/>
<rect x="62.4" y="262.6" width="1.0" height="1.0" fill="#777"/>
<rect x="59.6" y="262.0" width="1.0" height="1.0" fill="#999"/>
<rect x="69.1" y="259.7" width="1.0" height="1.0" fill="#333"/>
<rect x="62.6" y="259.4" width="1.0" height="1.0" fill="#777"/>
<rect x="74.3" y="272.5" width="1.0" height="1.0" fill="#333"/>
<rect x="76.4" y="264.2" width="1.0" height="1.0" fill="#333"/>
<rect x="71.6" y="274.0" width="1.0" height="1.0" fill="#999"/>
<rect x="71.4" y="269.5" width="1.0" height="1.0" fill="#999"/>
<rect x="58.6" y="259.3" width="1.0" height="1.0" fill="#333"/>
<rect x="70.5" y="258.9" width="1.0" height="1.0" fill="#777"/>
<rect x="60.6" y="264.2" width="1.0" height="1.0" fill="#777"/>
<rect x="71.2" y="271.6" width="1.0" height="1.0" fill="#555"/>
<rect x="69.7" y="272.6" width="1.0" height="1.0" fill="#555"/>
<rect x="64.6" y="274.2" width="1.0" height="1.0" fill="#555"/>
<rect x="62.1" y="267.0" width="1.0" height="1.0" fill="#333"/>
<rect x="77.6" y="270.1" width="1.0" height="1.0" fill="#555"/>
<rect x="80.3" y="248.4" width="1.0" height="1.0" fill="#333"/>
<rect x="73.9" y="260.9" width="1.0" height="1.0" fill="#333"/>
<rect x="78.5" y="285.1" width="1.0" height="1.0" fill="#555"/>
<rect x="77.3" y="261.1" width="1.0" height="1.0" fill="#555"/>
<rect x="62.0" y="269.3" width="1.0" height="1.0" fill="#333"/>
<rect x="79.1" y="271.1" width="1.0" height="1.0" fill="#777"/>
<rect x="70.8" y="273.5" width="1.0" height="1.0" fill="#555"/>
<rect x="107.7" y="268.7" width="1.0" height="1.0" fill="#333"/>
<rect x="57.8" y="260.9" width="1.0" height="1.0" fill="#555"/>
<rect x="75.9" y="250.6" width="1.0" height="1.0" fill="#999"/>
<rect x="66.4" y="261.7" width="1.0" height="1.0" fill="#777"/>
<rect x="71.1" y="266.6" width="1.0" height="1.0" fill="#999"/>
<rect x="65.7" y="265.7" width="1.0" height="1.0" fill="#333"/>
<rect x="73.0" y="253.5" width="1.0" height="1.0" fill="#555"/>
<rect x="66.3" y="263.7" width="1.0" height="1.0" fill="#555"/>
<rect x="62.9" y="271.1" width="1.0" height="1.0" fill="#777"/>
<rect x="64.1" y="259.3" width="1.0" height="1.0" fill="#333"/>
<rect x="64.3" y="276.8" width="1.0" height="1.0" fill="#777"/>
<rect x="67.4" y="267.1" width="1.0" height="1.0" fill="#777"/>
<rect x="63.2" y="260.5" width="1.0" height="1.0" fill="#999"/>
<rect x="69.3" y="266.8" width="1.0" height="1.0" fill="#555"/>
<rect x="63.5" y="268.2" width="1.0" height="1.0" fill="#333"/>
<rect x="74.0" y="266.6" width="1.0" height="1.0" fill="#999"/>
<rect x="80.2" y="270.2" width="1.0" height="1.0" fill="#777"/>
<rect x="68.5" y="261.0" width="1.0" height="1.0" fill="#777"/>
<rect x="66.6" y="276.3" width="1.0" height="1.0" fill="#333"/>
<rect x="77.6" y="270.6" width="1.0" height="1.0" fill="#555"/>
<rect x="63.2" y="282.1" width="1.0" height="1.0" fill="#333"/>
<rect x="79.8" y="262.6" width="1.0" height="1.0" fill="#333"/>
<rect x="58.5" y="260.5" width="1.0" height="1.0" fill="#333"/>
<rect x="79.9" y="257.5" width="1.0" height="1.0" fill="#555"/>
<rect x="57.1" y="255.5" width="1.0" height="1.0" fill="#999"/>
<rect x="64.3" y="263.2" width="1.0" height="1.0" fill="#999"/>
<rect x="71.7" y="270.8" width="1.0" height="1.0" fill="#999"/>
<rect x="74.1" y="263.3" width="1.0" height="1.0" fill="#777"/>
<rect x="74.1" y="269.5" width="1.0" height="1.0" fill="#555"/>
<rect x="80.8" y="266.6" width="1.0" height="1.0" fill="#333"/>
<rect x="64.9" y="260.3" width="1.0" height="1.0" fill="#999"/>
<rect x="59.3" y="261.6" width="1.0" height="1.0" fill="#777"/>
<rect x="64.2" y="261.1" width="1.0" height="1.0" fill="#555"/>
<rect x="56.6" y="273.7" width="1.0" height="1.0" fill="#999"/>
<rect x="63.0" y="266.9" width="1.0" height="1.0" fill="#333"/>
<rect x="60.9" y="260.9" width="1.0" height="1.0" fill="#555"/>
<rect x="56.5" y="272.0" width="1.0" height="1.0" fill="#999"/>
<rect x="78.0" y="251.4" width="1.0" height="1.0" fill="#999"/>
<rect x="72.9" y="268.0" width="1.0" height="1.0" fill="#999"/>
<rect x="57.7" y="279.3" width="1.0" height="1.0" fill="#333"/>
<rect x="73.9" y="266.2" width="1.0" height="1.0" fill="#777"/>
<rect x="71.0" y="255.8" width="1.0" height="1.0" fill="#333"/>
<rect x="69.3" y="248.3" width="1.0" height="1.0" fill="#555"/>
<rect x="72.5" y="265.9" width="1.0" height="1.0" fill="#333"/>
<rect x="78.3" y="286.4" width="1.0" height="1.0" fill="#999"/>
<rect x="64.9" y="281.5" width="1.0" height="1.0" fill="#555"/>
<rect x="63.1" y="254.8" width="1.0" height="1.0" fill="#555"/>
<rect x="77.1" y="267.6" width="1.0" height="1.0" fill="#777"/>
<rect x="80.0" y="278.9" width="1.0" height="1.0" fill="#777"/>
<rect x="77.7" y="259.3" width="1.0" height="1.0" fill="#777"/>
<rect x="70.9" y="271.9" width="1.0" height="1.0" fill="#555"/>
<rect x="67.9" y="268.3" width="1.0" height="1.0" fill="#555"/>
<rect x="57.9" y="274.7" width="1.0" height="1.0" fill="#777"/>
<rect x="60.4" y="251.5" width="1.0" height="1.0" fill="#555"/>
<rect x="70.9" y="259.4" width="1.0" height="1.0" fill="#333"/>
<rect x="63.1" y="261.1" width="1.0" height="1.0" fill="#999"/>
<rect x="57.2" y="264.4" width="1.0" height="1.0" fill="#333"/>
<rect x="68.8" y="276.3" width="1.0" height="1.0" fill="#999"/>
<rect x="68.3" y="258.1" width="1.0" height="1.0" fill="#999"/>
<rect x="81.4" y="263.1" width="1.0" height="1.0" fill="#777"/>
<rect x="67.1" y="269.3" width="1.0" height="1.0" fill="#555"/>
<rect x="76.0" y="277.1" width="1.0" height="1.0" fill="#333"/>
<rect x="65.7" y="276.2" width="1.0" height="1.0" fill="#777"/>
<rect x="57.0" y="261.8" width="1.0" height="1.0" fill="#777"/>
<rect x="67.3" y="252.6" width="1.0" height="1.0" fill="#555"/>
<rect x="76.8" y="273.9" width="1.0" height="1.0" fill="#999"/>
<rect x="61.1" y="271.3" width="1.0" height="1.0" fill="#333"/>
<rect x="73.6" y="269.6" width="1.0" height="1.0" fill="#333"/>
<rect x="69.7" y="266.0" width="1.0" height="1.0" fill="#777"/>
<rect x="65.2" y="276.2" width="1.0" height="1.0" fill="#555"/>
<rect x="62.1" y="270.9" width="1.0" height="1.0" fill="#555"/>
<rect x="72.8" y="276.5" width="1.0" height="1.0" fill="#999"/>
<rect x="69.9" y="267.0" width="1.0" height="1.0" fill="#555"/>
<rect x="66.3" y="257.7" width="1.0" height="1.0" fill="#333"/>
<rect x="56.6" y="255.4" width="1.0" height="1.0" fill="#777"/>
<rect x="62.9" y="270.9" width="1.0" height="1.0" fill="#333"/>
<rect x="85.5" y="268.4" width="1.0" height="1.0" fill="#777"/>
<rect x="58.7" y="261.7" width="1.0" height="1.0" fill="#999"/>
<rect x="69.2" y="284.0" width="1.0" height="1.0" fill="#333"/>
<rect x="71.0" y="266.4" width="1.0" height="1.0" fill="#555"/>
<rect x="69.3" y="268.8" width="1.0" height="1.0" fill="#333"/>
<rect x="81.0" y="264.7" width="1.0" height="1.0" fill="#555"/>
<rect x="73.0" y="269.6" width="1.0" height="1.0" fill="#999"/>
<rect x="71.3" y="260.8" width="1.0" height="1.0" fill="#777"/>
<rect x="81.3" y="268.4" width="1.0" height="1.0" fill="#999"/>
<rect x="68.8" y="265.1" width="1.0" height="1.0" fill="#999"/>
<rect x="68.7" y="256.7" width="1.0" height="1.0" fill="#999"/>
<rect x="83.5" y="288.5" width="1.0" height="1.0" fill="#777"/>
<rect x="69.3" y="268.3" width="1.0" height="1.0" fill="#777"/>
<rect x="85.8" y="251.0" width="1.0" height="1.0" fill="#777"/>
<rect x="67.2" y="260.0" width="1.0" height="1.0" fill="#999"/>
<rect x="60.7" y="250.4" width="1.0" height="1.0" fill="#777"/>
<rect x="62.8" y="285.5" width="1.0" height="1.0" fill="#555"/>
<rect x="78.7" y="269.3" width="1.0" height="1.0" fill="#555"/>
<rect x="68.5" y="272.2" width="1.0" height="1.0" fill="#555"/>
<rect x="83.8" y="258.7" width="1.0" height="1.0" fill="#777"/>
<rect x="72.4" y="273.1" width="1.0" height="1.0" fill="#555"/>
<rect x="55.5" y="279.6" width="1.0" height="1.0" fill="#999"/>
<rect x="57.5" y="269.8" width="1.0" height="1.0" fill="#333"/>
<rect x="75.4" y="257.9" width="1.0" height="1.0" fill="#555"/>
<rect x="61.6" y="264.3" width="1.0" height="1.0" fill="#555"/>
<rect x="59.2" y="274.7" width="1.0" height="1.0" fill="#555"/>
<rect x="70.4" y="267.3" width="1.0" height="1.0" fill="#333"/>
<rect x="64.9" y="263.3" width="1.0" height="1.0" fill="#555"/>
<rect x="68.3" y="264.1" width="1.0" height="1.0" fill="#555"/>
<rect x="64.2" y="255.8" width="1.0" height="1.0" fill="#333"/>
<rect x="68.7" y="263.0" width="1.0" height="1.0" fill="#777"/>
<rect x="76.4" y="284.3" width="1.0" height="1.0" fill="#333"/>
<rect x="80.6" y="254.3" width="1.0" height="1.0" fill="#999"/>
<rect x="74.0" y="268.6" width="1.0" height="1.0" fill="#333"/>
<rect x="91.7" y="266.2" width="1.0" height="1.0" fill="#333"/>
<rect x="75.1" y="254.4" width="1.0" height="1.0" fill="#777"/>
<rect x="64.0" y="267.5" width="1.0" height="1.0" fill="#555"/>
<rect x="66.6" y="273.7" width="1.0" height="1.0" fill="#777"/>
<rect x="76.3" y="265.5" width="1.0" height="1.0" fill="#777"/>
<rect x="84.3" y="267.5" width="1.0" height="1.0" fill="#777"/>
<rect x="70.6" y="254.5" width="1.0" height="1.0" fill="#999"/>
<rect x="76.8" y="255.3" width="1.0" height="1.0" fill="#333"/>
<rect x="69.6" y="263.9" width="1.0" height="1.0" fill="#333"/>
<rect x="60.5" y="278.2" width="1.0" height="1.0" fill="#555"/>
<rect x="65.0" y="251.5" width="1.0" height="1.0" fill="#777"/>
<rect x="69.2" y="266.3" width="1.0" height="1.0" fill="#555"/>
<rect x="65.2" y="280.2" width="1.0" height="1.0" fill="#333"/>
<rect x="80.0" y="264.3" width="1.0" height="1.0" fill="#999"/>
<rect x="63.0" y="252.4" width="1.0" height="1.0" fill="#999"/>
<rect x="56.6" y="267.2" width="1.0" height="1.0" fill="#555"/>
<rect x="67.6" y="271.9" width="1.0" height="1.0" fill="#555"/>
<rect x="64.4" y="266.9" width="1.0" height="1.0" fill="#333"/>
<rect x="64.9" y="265.3" width="1.0" height="1.0" fill="#777"/>
<rect x="63.1" y="273.7" width="1.0" height="1.0" fill="#999"/>
<rect x="81.2" y="255.2" width="1.0" height="1.0" fill="#999"/>
<rect x="70.6" y="264.5" width="1.0" height="1.0" fill="#555"/>
<rect x="65.7" y="274.9" width="1.0" height="1.0" fill="#555"/>
<rect x="54.7" y="280.4" width="1.0" height="1.0" fill="#555"/>
<rect x="73.6" y="263.7" width="1.0" height="1.0" fill="#333"/>
<rect x="64.1" y="272.9" width="1.0" height="1.0" fill="#555"/>
<rect x="76.0" y="258.0" width="1.0" height="1.0" fill="#777"/>
<rect x="73.9" y="272.9" width="1.0" height="1.0" fill="#777"/>
<rect x="64.7" y="264.7" width="1.0" height="1.0" fill="#999"/>
<rect x="59.8" y="257.6" width="1.0" height="1.0" fill="#555"/>
<rect x="67.3" y="280.2" width="1.0" height="1.0" fill="#555"/>
<rect x="64.7" y="244.5" width="1.0" height="1.0" fill="#777"/>
<rect x="62.0" y="262.6" width="1.0" height="1.0" fill="#555"/>
<rect x="66.1" y="271.3" width="1.0" height="1.0" fill="#333"/>
<rect x="76.1" y="275.2" width="1.0" height="1.0" fill="#555"/>
<rect x="73.3" y="252.2" width="1.0" height="1.0" fill="#999"/>
<rect x="68.3" y="270.1" width="1.0" height="1.0" fill="#333"/>
<rect x="65.2" y="283.7" width="1.0" height="1.0" fill="#999"/>
<rect x="78.4" y="266.1" width="1.0" height="1.0" fill="#999"/>
<rect x="65.1" y="257.5" width="1.0" height="1.0" fill="#777"/>
<rect x="63.9" y="268.0" width="1.0" height="1.0" fill="#999"/>
<rect x="76.1" y="264.9" width="1.0" height="1.0" fill="#999"/>
<rect x="65.2" y="256.1" width="1.0" height="1.0" fill="#999"/>
<rect x="77.0" y="254.4" width="1.0" height="1.0" fill="#555"/>
<rect x="63.2" y="256.3" width="1.0" height="1.0" fill="#999"/>
<rect x="62.3" y="269.9" width="1.0" height="1.0" fill="#333"/>
<rect x="74.6" y="261.2" width="1.0" height="1.0" fill="#999"/>
<rect x="65.9" y="255.1" width="1.0" height="1.0" fill="#777"/>
<rect x="75.4" y="257.1" width="1.0" height="1.0" fill="#333"/>
<rect x="62.0" y="261.3" width="1.0" height="1.0" fill="#555"/>
<rect x="75.7" y="260.2" width="1.0" height="1.0" fill="#333"/>
<rect x="60.6" y="273.7" width="1.0" height="1.0" fill="#333"/>
<rect x="80.6" y="266.4" width="1.0" height="1.0" fill="#555"/>
<rect x="64.1" y="246.9" width="1.0" height="1.0" fill="#555"/>
<rect x="64.6" y="266.3" width="1.0" height="1.0" fill="#999"/>
<rect x="54.4" y="265.2" width="1.0" height="1.0" fill="#333"/>
<rect x="57.6" y="256.0" width="1.0" height="1.0" fill="#777"/>
<rect x="72.6" y="277.6" width="1.0" height="1.0" fill="#999"/>
<rect x="67.3" y="254.9" width="1.0" height="1.0" fill="#333"/>
<rect x="68.9" y="274.2" width="1.0" height="1.0" fill="#333"/>
<rect x="78.9" y="265.0" width="1.0" height="1.0" fill="#999"/>
<rect x="59.2" y="258.7" width="1.0" height="1.0" fill="#777"/>
<rect x="75.2" y="269.4" width="1.0" height="1.0" fill="#999"/>
<rect x="79.8" y="260.3" width="1.0" height="1.0" fill="#555"/>
<rect x="93.2" y="260.9" width="1.0" height="1.0" fill="#999"/>
<rect x="70.2" y="270.0" width="1.0" height="1.0" fill="#333"/>
<rect x="73.9" y="254.1" width="1.0" height="1.0" fill="#999"/>
<rect x="59.5" y="257.3" width="1.0" height="1.0" fill="#555"/>
<rect x="60.8" y="276.9" width="1.0" height="1.0" fill="#999"/>
<rect x="61.2" y="268.8" width="1.0" height="1.0" fill="#555"/>
<rect x="71.0" y="256.4" width="1.0" height="1.0" fill="#555"/>
<rect x="68.0" y="274.2" width="1.0" height="1.0" fill="#777"/>
<rect x="83.2" y="262.1" width="1.0" height="1.0" fill="#999"/>
<rect x="84.2" y="263.5" width="1.0" height="1.0" fill="#777"/>
<rect x="60.3" y="277.0" width="1.0" height="1.0" fill="#777"/>
<rect x="59.0" y="268.9" width="1.0" height="1.0" fill="#333"/>
<rect x="64.1" y="260.2" width="1.0" height="1.0" fill="#777"/>
<rect x="71.0" y="263.4" width="1.0" height="1.0" fill="#777"/>
<rect x="70.1" y="261.3" width="1.0" height="1.0" fill="#777"/>
<rect x="67.9" y="265.1" width="1.0" height="1.0" fill="#333"/>
<rect x="69.9" y="269.0" width="1.0" height="1.0" fill="#777"/>
<rect x="69.0" y="269.9" width="1.0" height="1.0" fill="#555"/>
<rect x="72.7" y="261.1" width="1.0" height="1.0" fill="#999"/>
<rect x="65.9" y="270.5" width="1.0" height="1.0" fill="#999"/>
<rect x="70.5" y="260.9" width="1.0" height="1.0" fill="#333"/>
<rect x="59.1" y="252.4" width="1.0" height="1.0" fill="#777"/>
<rect x="73.7" y="277.3" width="1.0" height="1.0" fill="#333"/>
<rect x="68.5" y="257.2" width="1.0" height="1.0" fill="#333"/>
<rect x="62.0" y="265.0" width="1.0" height="1.0" fill="#555"/>
<rect x="74.0" y="256.8" width="1.0" height="1.0" fill="#333"/>
<rect x="66.8" y="260.4" width="1.0" height="1.0" fill="#555"/>
<rect x="87.2" y="263.4" width="1.0" height="1.0" fill="#999"/>
<rect x="65.3" y="257.5" width="1.0" height="1.0" fill="#777"/>
<rect x="74.0" y="258.3" width="1.0" height="1.0" fill="#999"/>
<rect x="83.3" y="263.4" width="1.0" height="1.0" fill="#555"/>
<rect x="60.2" y="258.6" width="1.0" height="1.0" fill="#333"/>
<rect x="71.9" y="265.8" width="1.0" height="1.0" fill="#777"/>
<rect x="70.5" y="262.3" width="1.0" height="1.0" fill="#999"/>
<rect x="83.8" y="266.2" width="1.0" height="1.0" fill="#555"/>
<rect x="59.0" y="281.9" width="1.0" height="1.0" fill="#777"/>
<rect x="60.0" y="279.7" width="1.0" height="1.0" fill="#555"/>
<rect x="67.1" y="273.8" width="1.0" height="1.0" fill="#777"/>
<rect x="64.3" y="281.9" width="1.0" height="1.0" fill="#999"/>
<rect x="55.3" y="289.2" width="1.0" height="1.0" fill="#777"/>
<rect x="82.7" y="261.7" width="1.0" height="1.0" fill="#333"/>
<rect x="65.0" y="273.1" width="1.0" height="1.0" fill="#777"/>
<rect x="86.7" y="278.9" width="1.0" height="1.0" fill="#333"/>
<rect x="69.6" y="263.6" width="1.0" height="1.0" fill="#999"/>
<rect x="66.1" y="265.8" width="1.0" height="1.0" fill="#777"/>
<rect x="71.3" y="267.2" width="1.0" height="1.0" fill="#999"/>
<rect x="58.2" y="260.2" width="1.0" height="1.0" fill="#999"/>
<rect x="59.1" y="259.9" width="1.0" height="1.0" fill="#333"/>
<rect x="72.3" y="277.4" width="1.0" height="1.0" fill="#999"/>
<rect x="64.9" y="263.1" width="1.0" height="1.0" fill="#555"/>
<rect x="75.8" y="258.4" width="1.0" height="1.0" fill="#333"/>
<rect x="80.9" y="257.6" width="1.0" height="1.0" fill="#777"/>
<rect x="72.6" y="262.1" width="1.0" height="1.0" fill="#777"/>
<rect x="62.2" y="264.8" width="1.0" height="1.0" fill="#777"/>
<rect x="70.0" y="267.8" width="1.0" height="1.0" fill="#333"/>
<rect x="56.7" y="273.2" width="1.0" height="1.0" fill="#333"/>
<rect x="57.5" y="268.2" width="1.0" height="1.0" fill="#333"/>
<rect x="70.5" y="257.1" width="1.0" height="1.0" fill="#999"/>
<rect x="67.5" y="266.7" width="1.0" height="1.0" fill="#999"/>
<rect x="66.0" y="262.5" width="1.0" height="1.0" fill="#999"/>
<rect x="65.2" y="265.6" width="1.0" height="1.0" fill="#999"/>
<rect x="70.3" y="270.4" width="1.0" height="1.0" fill="#333"/>
<rect x="67.8" y="266.7" width="1.0" height="1.0" fill="#333"/>
<rect x="87.7" y="261.3" width="1.0" height="1.0" fill="#555"/>
<rect x="72.4" y="262.2" width="1.0" height="1.0" fill="#333"/>
<rect x="67.0" y="277.0" width="1.0" height="1.0" fill="#999"/>
<rect x="68.4" y="260.8" width="1.0" height="1.0" fill="#333"/>
<rect x="58.5" y="278.2" width="1.0" height="1.0" fill="#555"/>
<rect x="68.5" y="262.6" width="1.0" height="1.0" fill="#999"/>
<rect x="68.4" y="287.6" width="1.0" height="1.0" fill="#333"/>
<rect x="70.6" y="265.8" width="1.0" height="1.0" fill="#333"/>
<rect x="62.7" y="271.8" width="1.0" height="1.0" fill="#555"/>
<rect x="86.4" y="258.7" width="1.0" height="1.0" fill="#333"/>
<rect x="59.6" y="286.2" width="1.0" height="1.0" fill="#999"/>
<rect x="63.4" y="268.0" width="1.0" height="1.0" fill="#333"/>
<rect x="60.1" y="276.7" width="1.0" height="1.0" fill="#999"/>
<rect x="61.8" y="269.2" width="1.0" height="1.0" fill="#777"/>
<rect x="68.1" y="269.0" width="1.0" height="1.0" fill="#777"/>
<rect x="79.4" y="254.3" width="1.0" height="1.0" fill="#333"/>
<rect x="75.3" y="255.0" width="1.0" height="1.0" fill="#777"/>
<rect x="69.2" y="274.2" width="1.0" height="1.0" fill="#999"/>
<rect x="71.7" y="259.2" width="1.0" height="1.0" fill="#333"/>
<rect x="65.7" y="272.5" width="1.0" height="1.0" fill="#555"/>
<rect x="71.1" y="264.0" width="1.0" height="1.0" fill="#555"/>
<rect x="76.2" y="249.2" width="1.0" height="1.0" fill="#555"/>
<rect x="66.2" y="282.6" width="1.0" height="1.0" fill="#999"/>
<rect x="66.7" y="269.3" width="1.0" height="1.0" fill="#999"/>
<rect x="70.9" y="260.3" width="1.0" height="1.0" fill="#555"/>
<rect x="67.8" y="268.9" width="1.0" height="1.0" fill="#999"/>
<rect x="62.7" y="268.4" width="1.0" height="1.0" fill="#777"/>
<rect x="67.9" y="265.6" width="1.0" height="1.0" fill="#999"/>
<rect x="65.1" y="267.6" width="1.0" height="1.0" fill="#777"/>
<rect x="70.0" y="259.8" width="1.0" height="1.0" fill="#777"/>
<rect x="77.7" y="257.8" width="1.0" height="1.0" fill="#999"/>
<rect x="62.6" y="266.9" width="1.0" height="1.0" fill="#555"/>
<rect x="71.1" y="270.5" width="1.0" height="1.0" fill="#777"/>
<rect x="61.0" y="275.6" width="1.0" height="1.0" fill="#999"/>
<rect x="72.5" y="249.2" width="1.0" height="1.0" fill="#555"/>
<rect x="100.2" y="268.3" width="1.0" height="1.0" fill="#777"/>
<rect x="75.1" y="258.9" width="1.0" height="1.0" fill="#999"/>
<rect x="70.3" y="261.0" width="1.0" height="1.0" fill="#333"/>
<rect x="62.5" y="275.5" width="1.0" height="1.0" fill="#333"/>
<rect x="74.3" y="268.2" width="1.0" height="1.0" fill="#999"/>
<rect x="63.4" y="264.0" width="1.0" height="1.0" fill="#777"/>
<rect x="70.9" y="250.4" width="1.0" height="1.0" fill="#555"/>
<rect x="68.9" y="268.3" width="1.0" height="1.0" fill="#555"/>
<rect x="78.3" y="264.1" width="1.0" height="1.0" fill="#333"/>
<rect x="80.5" y="267.3" width="1.0" height="1.0" fill="#999"/>
<rect x="84.0" y="253.1" width="1.0" height="1.0" fill="#999"/>
<rect x="82.1" y="257.5" width="1.0" height="1.0" fill="#333"/>
<rect x="68.4" y="276.8" width="1.0" height="1.0" fill="#333"/>
<rect x="82.6" y="260.2" width="1.0" height="1.0" fill="#999"/>
<rect x="76.6" y="279.4" width="1.0" height="1.0" fill="#777"/>
<rect x="97.7" y="255.4" width="1.0" height="1.0" fill="#555"/>
<rect x="79.6" y="281.6" width="1.0" height="1.0" fill="#777"/>
<rect x="80.2" y="267.8" width="1.0" height="1.0" fill="#333"/>
<rect x="70.5" y="263.5" width="1.0" height="1.0" fill="#999"/>
<rect x="74.0" y="266.7" width="1.0" height="1.0" fill="#333"/>
<rect x="82.3" y="259.0" width="1.0" height="1.0" fill="#777"/>
<rect x="60.3" y="262.7" width="1.0" height="1.0" fill="#333"/>
<rect x="60.0" y="269.1" width="1.0" height="1.0" fill="#999"/>
<rect x="76.7" y="271.3" width="1.0" height="1.0" fill="#555"/>
<rect x="86.2" y="253.9" width="1.0" height="1.0" fill="#999"/>
<rect x="67.7" y="260.9" width="1.0" height="1.0" fill="#333"/>
<rect x="78.9" y="277.4" width="1.0" height="1.0" fill="#333"/>
<rect x="86.5" y="256.1" width="1.0" height="1.0" fill="#555"/>
<rect x="73.2" y="244.6" width="1.0" height="1.0" fill="#999"/>
<rect x="76.3" y="254.9" width="1.0" height="1.0" fill="#999"/>
<rect x="77.3" y="263.3" width="1.0" height="1.0" fill="#555"/>
<rect x="55.8" y="270.0" width="1.0" height="1.0" fill="#555"/>
<rect x="61.4" y="279.2" width="1.0" height="1.0" fill="#555"/>
<rect x="66.3" y="256.2" width="1.0" height="1.0" fill="#555"/>
<rect x="64.0" y="268.7" width="1.0" height="1.0" fill="#999"/>
<rect x="64.3" y="269.4" width="1.0" height="1.0" fill="#777"/>
<rect x="61.8" y="264.3" width="1.0" height="1.0" fill="#555"/>
<rect x="68.7" y="270.1" width="1.0" height="1.0" fill="#999"/>
<rect x="72.8" y="263.0" width="1.0" height="1.0" fill="#333"/>
<rect x="57.6" y="257.3" width="1.0" height="1.0" fill="#555"/>
<rect x="80.7" y="273.4" width="1.0" height="1.0" fill="#777"/>
<rect x="62.3" y="269.9" width="1.0" height="1.0" fill="#555"/>
<rect x="72.8" y="263.6" width="1.0" height="1.0" fill="#777"/>
<rect x="64.1" y="269.4" width="1.0" height="1.0" fill="#777"/>
<rect x="77.4" y="273.9" width="1.0" height="1.0" fill="#999"/>
<rect x="72.0" y="258.3" width="1.0" height="1.0" fill="#555"/>
<rect x="76.3" y="262.3" width="1.0" height="1.0" fill="#777"/>
<rect x="71.4" y="276.2" width="1.0" height="1.0" fill="#555"/>
<rect x="75.4" y="256.4" width="1.0" height="1.0" fill="#555"/>
<rect x="67.5" y="260.9" width="1.0" height="1.0" fill="#333"/>
<rect x="78.5" y="248.9" width="1.0" height="1.0" fill="#999"/>
<rect x="69.4" y="260.8" width="1.0" height="1.0" fill="#555"/>
<rect x="57.7" y="259.5" width="1.0" height="1.0" fill="#555"/>
<rect x="63.5" y="264.2" width="1.0" height="1.0" fill="#333"/>
<rect x="64.9" y="257.3" width="1.0" height="1.0" fill="#333"/>
<rect x="60.3" y="266.7" width="1.0" height="1.0" fill="#777"/>
<rect x="79.4" y="250.2" width="1.0" height="1.0" fill="#999"/>
<rect x="77.2" y="269.1" width="1.0" height="1.0" fill="#999"/>
<rect x="78.4" y="273.5" width="1.0" height="1.0" fill="#555"/>
<rect x="76.0" y="279.2" width="1.0" height="1.0" fill="#777"/>
<rect x="83.4" y="266.4" width="1.0" height="1.0" fill="#333"/>
<rect x="55.4" y="283.6" width="1.0" height="1.0" fill="#333"/>
<rect x="79.9" y="273.1" width="1.0" height="1.0" fill="#777"/>
<rect x="72.5" y="248.9" width="1.0" height="1.0" fill="#333"/>
<rect x="67.8" y="270.1" width="1.0" height="1.0" fill="#999"/>
<rect x="67.0" y="267.0" width="1.0" height="1.0" fill="#555"/>
<rect x="93.7" y="264.4" width="1.0" height="1.0" fill="#555"/>
<rect x="64.8" y="263.3" width="1.0" height="1.0" fill="#777"/>
<rect x="68.9" y="281.4" width="1.0" height="1.0" fill="#333"/>
<rect x="90.5" y="264.5" width="1.0" height="1.0" fill="#555"/>
<rect x="67.7" y="282.1" width="1.0" height="1.0" fill="#999"/>
<rect x="54.4" y="266.8" width="1.0" height="1.0" fill="#333"/>
<rect x="66.5" y="269.4" width="1.0" height="1.0" fill="#555"/>
<rect x="73.7" y="266.4" width="1.0" height="1.0" fill="#999"/>
<rect x="55.2" y="261.2" width="1.0" height="1.0" fill="#333"/>
<rect x="76.0" y="270.6" width="1.0" height="1.0" fill="#555"/>
<rect x="62.4" y="265.6" width="1.0" height="1.0" fill="#555"/>
<rect x="76.5" y="273.3" width="1.0" height="1.0" fill="#999"/>
<rect x="78.1" y="277.7" width="1.0" height="1.0" fill="#999"/>
<rect x="64.6" y="256.3" width="1.0" height="1.0" fill="#333"/>
<rect x="70.5" y="258.3" width="1.0" height="1.0" fill="#555"/>
<rect x="77.0" y="253.4" width="1.0" height="1.0" fill="#777"/>
<rect x="76.3" y="249.9" width="1.0" height="1.0" fill="#333"/>
<rect x="66.6" y="270.6" width="1.0" height="1.0" fill="#777"/>
<rect x="69.0" y="274.7" width="1.0" height="1.0" fill="#333"/>
<rect x="61.3" y="275.1" width="1.0" height="1.0" fill="#333"/>
<rect x="66.1" y="271.5" width="1.0" height="1.0" fill="#333"/>
<rect x="70.5" y="274.3" width="1.0" height="1.0" fill="#999"/>
<rect x="72.7" y="246.0" width="1.0" height="1.0" fill="#333"/>
<rect x="76.2" y="248.6" width="1.0" height="1.0" fill="#333"/>
<rect x="82.3" y="266.2" width="1.0" height="1.0" fill="#777"/>
<rect x="80.6" y="258.2" width="1.0" height="1.0" fill="#333"/>
<rect x="63.8" y="262.6" width="1.0" height="1.0" fill="#333"/>
<rect x="67.1" y="273.3" width="1.0" height="1.0" fill="#555"/>
<rect x="78.3" y="272.0" width="1.0" height="1.0" fill="#777"/>
<rect x="79.9" y="269.7" width="1.0" height="1.0" fill="#555"/>
<rect x="58.4" y="271.6" width="1.0" height="1.0" fill="#777"/>
<rect x="79.8" y="258.5" width="1.0" height="1.0" fill="#777"/>
<rect x="69.2" y="269.5" width="1.0" height="1.0" fill="#777"/>
<rect x="76.0" y="255.1" width="1.0" height="1.0" fill="#555"/>
<rect x="65.3" y="262.1" width="1.0" height="1.0" fill="#777"/>
<rect x="57.4" y="270.6" width="1.0" height="1.0" fill="#999"/>
<rect x="61.0" y="268.8" width="1.0" height="1.0" fill="#555"/>
<rect x="65.9" y="271.2" width="1.0" height="1.0" fill="#999"/>
<rect x="78.4" y="262.7" width="1.0" height="1.0" fill="#777"/>
<rect x="81.3" y="281.3" width="1.0" height="1.0" fill="#777"/>
<rect x="58.6" y="264.5" width="1.0" height="1.0" fill="#777"/>
<rect x="73.8" y="261.1" width="1.0" height="1.0" fill="#333"/>
<rect x="69.8" y="261.0" width="1.0" height="1.0" fill="#333"/>
<rect x="62.1" y="262.5" width="1.0" height="1.0" fill="#333"/>
<rect x="59.2" y="279.0" width="1.0" height="1.0" fill="#555"/>
<rect x="83.3" y="262.6" width="1.0" height="1.0" fill="#555"/>
<rect x="56.8" y="274.4" width="1.0" height="1.0" fill="#555"/>
<rect x="63.1" y="256.8" width="1.0" height="1.0" fill="#777"/>
<rect x="74.0" y="256.0" width="1.0" height="1.0" fill="#999"/>
<rect x="67.4" y="278.0" width="1.0" height="1.0" fill="#555"/>
<rect x="65.2" y="268.7" width="1.0" height="1.0" fill="#999"/>
<rect x="70.2" y="254.8" width="1.0" height="1.0" fill="#999"/>
<rect x="79.9" y="277.1" width="1.0" height="1.0" fill="#777"/>
<rect x="78.1" y="256.2" width="1.0" height="1.0" fill="#999"/>
<rect x="77.7" y="254.2" width="1.0" height="1.0" fill="#777"/>
<rect x="67.7" y="259.4" width="1.0" height="1.0" fill="#999"/>
<rect x="56.4" y="266.4" width="1.0" height="1.0" fill="#777"/>
<rect x="84.7" y="263.8" width="1.0" height="1.0" fill="#999"/>
<rect x="63.1" y="271.8" width="1.0" height="1.0" fill="#777"/>
<rect x="72.3" y="257.0" width="1.0" height="1.0" fill="#999"/>
<rect x="65.4" y="264.9" width="1.0" height="1.0" fill="#777"/>
<rect x="60.8" y="281.8" width="1.0" height="1.0" fill="#555"/>
<rect x="75.2" y="263.4" width="1.0" height="1.0" fill="#999"/>
<rect x="87.4" y="249.6" width="1.0" height="1.0" fill="#333"/>
<rect x="80.7" y="267.1" width="1.0" height="1.0" fill="#999"/>
<rect x="65.4" y="276.5" width="1.0" height="1.0" fill="#777"/>
<rect x="57.6" y="266.9" width="1.0" height="1.0" fill="#999"/>
<rect x="62.1" y="272.2" width="1.0" height="1.0" fill="#777"/>
<rect x="67.7" y="266.6" width="1.0" height="1.0" fill="#333"/>
<rect x="64.7" y="266.2" width="1.0" height="1.0" fill="#777"/>
<rect x="55.3" y="268.4" width="1.0" height="1.0" fill="#555"/>
<rect x="86.9" y="248.1" width="1.0" height="1.0" fill="#999"/>
<rect x="55.8" y="276.6" width="1.0" height="1.0" fill="#777"/>
<rect x="63.4" y="254.1" width="1.0" height="1.0" fill="#333"/>
<rect x="73.0" y="271.7" width="1.0" height="1.0" fill="#333"/>
<rect x="74.2" y="256.2" width="1.0" height="1.0" fill="#333"/>
<rect x="64.6" y="261.0" width="1.0" height="1.0" fill="#777"/>
<rect x="81.4" y="240.9" width="1.0" height="1.0" fill="#999"/>
<rect x="61.1" y="260.0" width="1.0" height="1.0" fill="#555"/>
<rect x="62.9" y="266.9" width="1.0" height="1.0" fill="#555"/>
<rect x="80.4" y="267.9" width="1.0" height="1.0" fill="#333"/>
<rect x="67.2" y="264.5" width="1.0" height="1.0" fill="#999"/>
<rect x="69.7" y="265.9" width="1.0" height="1.0" fill="#333"/>
<rect x="77.3" y="260.3" width="1.0" height="1.0" fill="#333"/>
<rect x="56.9" y="261.8" width="1.0" height="1.0" fill="#555"/>
<rect x="76.4" y="277.4" width="1.0" height="1.0" fill="#777"/>
<rect x="82.9" y="250.7" width="1.0" height="1.0" fill="#555"/>
<rect x="60.3" y="263.7" width="1.0" height="1.0" fill="#333"/>
<rect x="76.0" y="272.7" width="1.0" height="1.0" fill="#333"/>
<rect x="72.7" y="265.9" width="1.0" height="1.0" fill="#999"/>
<rect x="74.8" y="254.7" width="1.0" height="1.0" fill="#333"/>
<rect x="60.5" y="257.3" width="1.0" height="1.0" fill="#777"/>
<rect x="73.3" y="270.1" width="1.0" height="1.0" fill="#777"/>
<rect x="72.6" y="271.1" width="1.0" height="1.0" fill="#333"/>
<rect x="83.6" y="247.7" width="1.0" height="1.0" fill="#333"/>
<rect x="63.0" y="274.5" width="1.0" height="1.0" fill="#999"/>
<rect x="75.6" y="265.5" width="1.0" height="1.0" fill="#999"/>
<rect x="56.7" y="272.5" width="1.0" height="1.0" fill="#555"/>
<rect x="69.9" y="270.7" width="1.0" height="1.0" fill="#555"/>
<rect x="60.9" y="283.8" width="1.0" height="1.0" fill="#999"/>
<rect x="64.7" y="277.4" width="1.0" height="1.0" fill="#999"/>
<rect x="72.5" y="265.0" width="1.0" height="1.0" fill="#999"/>
<rect x="63.3" y="257.2" width="1.0" height="1.0" fill="#999"/>
<rect x="62.0" y="283.1" width="1.0" height="1.0" fill="#999"/>
<rect x="87.9" y="265.0" width="1.0" height="1.0" fill="#333"/>
<rect x="73.1" y="272.2" width="1.0" height="1.0" fill="#555"/>
<rect x="88.6" y="263.3" width="1.0" height="1.0" fill="#999"/>
<rect x="64.7" y="265.2" width="1.0" height="1.0" fill="#999"/>
<rect x="61.9" y="277.6" width="1.0" height="1.0" fill="#333"/>
<rect x="60.1" y="264.9" width="1.0" height="1.0" fill="#999"/>
<rect x="67.5" y="272.3" width="1.0" height="1.0" fill="#333"/>
<rect x="68.6" y="267.9" width="1.0" height="1.0" fill="#555"/>
<rect x="69.3" y="270.3" width="1.0" height="1.0" fill="#555"/>
<rect x="66.8" y="282.1" width="1.0" height="1.0" fill="#555"/>
<rect x="59.0" y="264.6" width="1.0" height="1.0" fill="#555"/>
<rect x="73.8" y="271.7" width="1.0" height="1.0" fill="#999"/>
<rect x="75.1" y="284.7" width="1.0" height="1.0" fill="#555"/>
<rect x="70.5" y="274.8" width="1.0" height="1.0" fill="#555"/>
<rect x="100.2" y="250.0" width="1.0" height="1.0" fill="#999"/>
<rect x="61.2" y="263.2" width="1.0" height="1.0" fill="#555"/>
<rect x="59.6" y="273.3" width="1.0" height="1.0" fill="#555"/>
<rect x="72.4" y="262.3" width="1.0" height="1.0" fill="#333"/>
<rect x="61.7" y="265.6" width="1.0" height="1.0" fill="#999"/>
<rect x="83.9" y="265.7" width="1.0" height="1.0" fill="#555"/>
<rect x="65.5" y="274.3" width="1.0" height="1.0" fill="#333"/>
<rect x="63.4" y="253.5" width="1.0" height="1.0" fill="#555"/>
<rect x="63.0" y="278.2" width="1.0" height="1.0" fill="#333"/>
<rect x="88.1" y="270.2" width="1.0" height="1.0" fill="#777"/>
<rect x="74.3" y="277.5" width="1.0" height="1.0" fill="#333"/>
<rect x="69.7" y="270.1" width="1.0" height="1.0" fill="#999"/>
<rect x="67.1" y="274.6" width="1.0" height="1.0" fill="#999"/>
<rect x="72.1" y="248.4" width="1.0" height="1.0" fill="#555"/>
<rect x="74.5" y="263.0" width="1.0" height="1.0" fill="#777"/>
<rect x="63.0" y="256.0" width="1.0" height="1.0" fill="#777"/>
<rect x="70.7" y="264.6" width="1.0" height="1.0" fill="#999"/>
<rect x="69.2" y="282.1" width="1.0" height="1.0" fill="#777"/>
<rect x="72.6" y="263.3" width="1.0" height="1.0" fill="#777"/>
<rect x="84.7" y="275.4" width="1.0" height="1.0" fill="#555"/>
<rect x="68.4" y="263.8" width="1.0" height="1.0" fill="#333"/>
<rect x="61.2" y="261.8" width="1.0" height="1.0" fill="#777"/>
<rect x="77.6" y="275.8" width="1.0" height="1.0" fill="#777"/>
<rect x="62.7" y="264.8" width="1.0" height="1.0" fill="#999"/>
<rect x="67.5" y="260.0" width="1.0" height="1.0" fill="#999"/>
<rect x="63.0" y="257.5" width="1.0" height="1.0" fill="#333"/>
<rect x="81.3" y="272.9" width="1.0" height="1.0" fill="#777"/>
<rect x="84.8" y="253.3" width="1.0" height="1.0" fill="#333"/>
<rect x="83.2" y="261.4" width="1.0" height="1.0" fill="#333"/>
<rect x="70.7" y="260.2" width="1.0" height="1.0" fill="#777"/>
<rect x="69.0" y="262.5" width="1.0" height="1.0" fill="#999"/>
<rect x="82.1" y="263.5" width="1.0" height="1.0" fill="#555"/>
<rect x="68.2" y="269.7" width="1.0" height="1.0" fill="#999"/>
<rect x="60.9" y="270.1" width="1.0" height="1.0" fill="#999"/>
<rect x="54.7" y="267.9" width="1.0" height="1.0" fill="#555"/>
<rect x="58.8" y="272.2" width="1.0" height="1.0" fill="#555"/>
<rect x="62.9" y="267.5" width="1.0" height="1.0" fill="#777"/>
<rect x="71.6" y="270.0" width="1.0" height="1.0" fill="#555"/>
<rect x="62.1" y="265.5" width="1.0" height="1.0" fill="#333"/>
<rect x="73.3" y="271.9" width="1.0" height="1.0" fill="#333"/>
<rect x="71.5" y="272.4" width="1.0" height="1.0" fill="#555"/>
<rect x="64.7" y="257.9" width="1.0" height="1.0" fill="#999"/>
<rect x="69.5" y="272.1" width="1.0" height="1.0" fill="#999"/>
<rect x="78.1" y="273.2" width="1.0" height="1.0" fill="#777"/>
<rect x="79.0" y="273.9" width="1.0" height="1.0" fill="#555"/>
<rect x="60.2" y="280.8" width="1.0" height="1.0" fill="#999"/>
<rect x="69.4" y="260.9" width="1.0" height="1.0" fill="#555"/>
<rect x="60.4" y="262.2" width="1.0" height="1.0" fill="#999"/>
<rect x="71.3" y="262.0" width="1.0" height="1.0" fill="#777"/>
<rect x="79.9" y="264.8" width="1.0" height="1.0" fill="#333"/>
<rect x="76.2" y="267.2" width="1.0" height="1.0" fill="#555"/>
<rect x="75.3" y="269.5" width="1.0" height="1.0" fill="#333"/>
<rect x="74.5" y="272.7" width="1.0" height="1.0" fill="#777"/>
<rect x="66.0" y="276.8" width="1.0" height="1.0" fill="#333"/>
<rect x="98.5" y="262.5" width="1.0" height="1.0" fill="#999"/>
<rect x="82.0" y="270.3" width="1.0" height="1.0" fill="#777"/>
<rect x="77.5" y="270.6" width="1.0" height="1.0" fill="#999"/>
<rect x="65.1" y="273.8" width="1.0" height="1.0" fill="#333"/>
<rect x="60.8" y="258.2" width="1.0" height="1.0" fill="#777"/>
<rect x="66.8" y="263.6" width="1.0" height="1.0" fill="#333"/>
<rect x="78.4" y="265.6" width="1.0" height="1.0" fill="#555"/>
<rect x="67.3" y="271.4" width="1.0" height="1.0" fill="#555"/>
<rect x="81.1" y="271.8" width="1.0" height="1.0" fill="#777"/>
<rect x="68.6" y="258.7" width="1.0" height="1.0" fill="#555"/>
<rect x="63.6" y="260.7" width="1.0" height="1.0" fill="#555"/>
<rect x="60.9" y="275.2" width="1.0" height="1.0" fill="#777"/>
<rect x="72.8" y="259.9" width="1.0" height="1.0" fill="#333"/>
<rect x="80.9" y="266.6" width="1.0" height="1.0" fill="#999"/>
<rect x="87.9" y="251.4" width="1.0" height="1.0" fill="#999"/>
<rect x="55.4" y="274.7" width="1.0" height="1.0" fill="#777"/>
<rect x="58.3" y="260.9" width="1.0" height="1.0" fill="#555"/>
<rect x="66.8" y="261.8" width="1.0" height="1.0" fill="#999"/>
<rect x="62.7" y="260.7" width="1.0" height="1.0" fill="#333"/>
<rect x="75.4" y="257.2" width="1.0" height="1.0" fill="#555"/>
<rect x="68.9" y="265.4" width="1.0" height="1.0" fill="#999"/>
<rect x="71.3" y="268.1" width="1.0" height="1.0" fill="#333"/>
<rect x="59.1" y="267.0" width="1.0" height="1.0" fill="#777"/>
<rect x="70.2" y="266.2" width="1.0" height="1.0" fill="#555"/>
<rect x="73.7" y="262.3" width="1.0" height="1.0" fill="#777"/>
<rect x="86.1" y="263.3" width="1.0" height="1.0" fill="#777"/>
<rect x="59.3" y="263.9" width="1.0" height="1.0" fill="#777"/>
<rect x="59.0" y="266.9" width="1.0" height="1.0" fill="#555"/>
<rect x="93.0" y="258.3" width="1.0" height="1.0" fill="#333"/>
<rect x="70.3" y="263.1" width="1.0" height="1.0" fill="#777"/>
<rect x="62.8" y="262.7" width="1.0" height="1.0" fill="#999"/>
<rect x="79.4" y="261.4" width="1.0" height="1.0" fill="#555"/>
<rect x="66.3" y="273.8" width="1.0" height="1.0" fill="#333"/>
<rect x="72.9" y="260.5" width="1.0" height="1.0" fill="#999"/>
<rect x="67.1" y="262.0" width="1.0" height="1.0" fill="#777"/>
<rect x="64.5" y="271.6" width="1.0" height="1.0" fill="#999"/>
<rect x="65.3" y="269.2" width="1.0" height="1.0" fill="#555"/>
<rect x="75.3" y="263.8" width="1.0" height="1.0" fill="#333"/>
<rect x="72.3" y="281.0" width="1.0" height="1.0" fill="#333"/>
<rect x="74.4" y="276.5" width="1.0" height="1.0" fill="#999"/>
<rect x="70.5" y="274.9" width="1.0" height="1.0" fill="#333"/>
<rect x="67.1" y="248.2" width="1.0" height="1.0" fill="#333"/>
<rect x="77.5" y="254.4" width="1.0" height="1.0" fill="#999"/>
<rect x="76.5" y="272.0" width="1.0" height="1.0" fill="#333"/>
<rect x="58.5" y="267.0" width="1.0" height="1.0" fill="#999"/>
<rect x="72.9" y="274.1" width="1.0" height="1.0" fill="#333"/>
<rect x="79.7" y="275.0" width="1.0" height="1.0" fill="#333"/>
<rect x="66.6" y="267.9" width="1.0" height="1.0" fill="#333"/>
<rect x="81.7" y="264.8" width="1.0" height="1.0" fill="#555"/>
<rect x="64.3" y="267.9" width="1.0" height="1.0" fill="#555"/>
<rect x="55.1" y="256.8" width="1.0" height="1.0" fill="#333"/>
<rect x="85.7" y="254.7" width="1.0" height="1.0" fill="#555"/>
<rect x="56.8" y="280.0" width="1.0" height="1.0" fill="#333"/>
<rect x="71.2" y="261.8" width="1.0" height="1.0" fill="#777"/>
<rect x="57.5" y="267.2" width="1.0" height="1.0" fill="#777"/>
<rect x="68.5" y="263.6" width="1.0" height="1.0" fill="#777"/>
<rect x="78.7" y="270.4" width="1.0" height="1.0" fill="#333"/>
<rect x="89.4" y="266.2" width="1.0" height="1.0" fill="#555"/>
<rect x="68.8" y="271.5" width="1.0" height="1.0" fill="#999"/>
<rect x="97.2" y="264.3" width="1.0" height="1.0" fill="#999"/>
<rect x="70.5" y="266.9" width="1.0" height="1.0" fill="#333"/>
<rect x="75.6" y="267.7" width="1.0" height="1.0" fill="#555"/>
<rect x="61.6" y="265.0" width="1.0" height="1.0" fill="#999"/>
<rect x="75.5" y="255.3" width="1.0" height="1.0" fill="#777"/>
<rect x="54.9" y="265.5" width="1.0" height="1.0" fill="#777"/>
<rect x="70.5" y="265.3" width="1.0" height="1.0" fill="#777"/>
<rect x="80.0" y="263.7" width="1.0" height="1.0" fill="#999"/>
<rect x="80.9" y="253.2" width="1.0" height="1.0" fill="#333"/>
<rect x="80.8" y="269.1" width="1.0" height="1.0" fill="#999"/>
<rect x="82.7" y="245.4" width="1.0" height="1.0" fill="#999"/>
<rect x="66.1" y="264.4" width="1.0" height="1.0" fill="#777"/>
<rect x="60.9" y="266.2" width="1.0" height="1.0" fill="#555"/>
<rect x="66.6" y="265.1" width="1.0" height="1.0" fill="#555"/>
<rect x="75.4" y="252.7" width="1.0" height="1.0" fill="#777"/>
<rect x="60.7" y="263.7" width="1.0" height="1.0" fill="#777"/>
<rect x="65.6" y="273.5" width="1.0" height="1.0" fill="#999"/>
<rect x="68.0" y="267.6" width="1.0" height="1.0" fill="#999"/>
<rect x="78.3" y="256.3" width="1.0" height="1.0" fill="#555"/>
<rect x="68.2" y="261.5" width="1.0" height="1.0" fill="#999"/>
<rect x="67.4" y="276.0" width="1.0" height="1.0" fill="#777"/>
<rect x="61.3" y="275.9" width="1.0" height="1.0" fill="#555"/>
<rect x="71.5" y="265.4" width="1.0" height="1.0" fill="#333"/>
<rect x="80.4" y="253.6" width="1.0" height="1.0" fill="#333"/>
<rect x="64.0" y="272.0" width="1.0" height="1.0" fill="#555"/>
<rect x="84.7" y="249.1" width="1.0" height="1.0" fill="#333"/>
<rect x="63.6" y="280.3" width="1.0" height="1.0" fill="#777"/>
<rect x="55.5" y="267.7" width="1.0" height="1.0" fill="#777"/>
<rect x="79.5" y="254.7" width="1.0" height="1.0" fill="#777"/>
<rect x="77.0" y="267.4" width="1.0" height="1.0" fill="#777"/>
<rect x="81.4" y="254.1" width="1.0" height="1.0" fill="#777"/>
<rect x="82.6" y="254.2" width="1.0" height="1.0" fill="#777"/>
<rect x="72.8" y="269.9" width="1.0" height="1.0" fill="#999"/>
<rect x="61.1" y="272.1" width="1.0" height="1.0" fill="#777"/>
<rect x="80.4" y="259.2" width="1.0" height="1.0" fill="#555"/>
<rect x="66.4" y="273.2" width="1.0" height="1.0" fill="#777"/>
<rect x="74.5" y="267.4" width="1.0" height="1.0" fill="#333"/>
<rect x="64.2" y="264.7" width="1.0" height="1.0" fill="#333"/>
<rect x="75.1" y="265.7" width="1.0" height="1.0" fill="#555"/>
<rect x="57.2" y="271.8" width="1.0" height="1.0" fill="#111"/>
<rect x="72.0" y="262.6" width="1.0" height="1.0" fill="#111"/>
<rect x="68.2" y="270.4" width="1.0" height="1.0" fill="#111"/>
<rect x="69.5" y="259.5" width="1.0" height="1.0" fill="#111"/>
<rect x="67.7" y="263.2" width="1.0" height="1.0" fill="#333"/>
<rect x="56.0" y="270.9" width="1.0" height="1.0" fill="#333"/>
<rect x="75.2" y="260.6" width="1.0" height="1.0" fill="#111"/>
<rect x="69.1" y="268.2" width="1.0" height="1.0" fill="#111"/>
<rect x="66.9" y="265.5" width="1.0" height="1.0" fill="#555"/>
<rect x="67.1" y="268.9" width="1.0" height="1.0" fill="#111"/>
<rect x="67.8" y="273.7" width="1.0" height="1.0" fill="#111"/>
<rect x="59.6" y="258.5" width="1.0" height="1.0" fill="#111"/>
<rect x="63.3" y="275.9" width="1.0" height="1.0" fill="#111"/>
<rect x="65.1" y="262.7" width="1.0" height="1.0" fill="#555"/>
<rect x="70.3" y="263.5" width="1.0" height="1.0" fill="#333"/>
<rect x="69.8" y="264.4" width="1.0" height="1.0" fill="#555"/>
<rect x="65.2" y="271.8" width="1.0" height="1.0" fill="#555"/>
<rect x="56.5" y="274.4" width="1.0" height="1.0" fill="#111"/>
<rect x="74.6" y="266.8" width="1.0" height="1.0" fill="#555"/>
<rect x="71.2" y="266.2" width="1.0" height="1.0" fill="#555"/>
<rect x="65.9" y="257.6" width="1.0" height="1.0" fill="#111"/>
<rect x="72.2" y="267.9" width="1.0" height="1.0" fill="#111"/>
<rect x="56.8" y="265.7" width="1.0" height="1.0" fill="#333"/>
<rect x="71.7" y="261.5" width="1.0" height="1.0" fill="#555"/>
<rect x="63.5" y="257.9" width="1.0" height="1.0" fill="#111"/>
<rect x="64.2" y="261.2" width="1.0" height="1.0" fill="#333"/>
<rect x="70.1" y="273.3" width="1.0" height="1.0" fill="#555"/>
<rect x="67.4" y="266.8" width="1.0" height="1.0" fill="#555"/>
<rect x="64.9" y="274.8" width="1.0" height="1.0" fill="#555"/>
<rect x="64.0" y="268.1" width="1.0" height="1.0" fill="#555"/>
<rect x="63.9" y="266.2" width="1.0" height="1.0" fill="#333"/>
<rect x="76.4" y="266.3" width="1.0" height="1.0" fill="#555"/>
<rect x="75.5" y="253.3" width="1.0" height="1.0" fill="#111"/>
<rect x="73.7" y="265.9" width="1.0" height="1.0" fill="#111"/>
<rect x="77.4" y="263.2" width="1.0" height="1.0" fill="#111"/>
<rect x="76.1" y="268.1" width="1.0" height="1.0" fill="#555"/>
<rect x="69.9" y="262.6" width="1.0" height="1.0" fill="#555"/>
<rect x="66.5" y="268.8" width="1.0" height="1.0" fill="#111"/>
<rect x="77.8" y="258.7" width="1.0" height="1.0" fill="#111"/>
<rect x="63.1" y="266.1" width="1.0" height="1.0" fill="#555"/>
<rect x="69.9" y="280.6" width="1.0" height="1.0" fill="#333"/>
<rect x="72.3" y="276.9" width="1.0" height="1.0" fill="#333"/>
<rect x="63.4" y="268.0" width="1.0" height="1.0" fill="#111"/>
<rect x="77.2" y="270.9" width="1.0" height="1.0" fill="#111"/>
<rect x="74.0" y="255.8" width="1.0" height="1.0" fill="#555"/>
<rect x="70.5" y="265.1" width="1.0" height="1.0" fill="#555"/>
<rect x="58.9" y="274.9" width="1.0" height="1.0" fill="#333"/>
<rect x="77.6" y="263.5" width="1.0" height="1.0" fill="#111"/>
<rect x="70.3" y="266.6" width="1.0" height="1.0" fill="#555"/>
<rect x="64.7" y="268.3" width="1.0" height="1.0" fill="#111"/>
<rect x="65.9" y="271.4" width="1.0" height="1.0" fill="#333"/>
<rect x="62.7" y="282.2" width="1.0" height="1.0" fill="#111"/>
<rect x="80.4" y="264.6" width="1.0" height="1.0" fill="#333"/>
<rect x="77.6" y="258.2" width="1.0" height="1.0" fill="#333"/>
<rect x="72.4" y="265.5" width="1.0" height="1.0" fill="#333"/>
<rect x="67.8" y="271.0" width="1.0" height="1.0" fill="#333"/>
<rect x="72.4" y="263.5" width="1.0" height="1.0" fill="#333"/>
<rect x="65.4" y="260.7" width="1.0" height="1.0" fill="#333"/>
<rect x="69.5" y="268.0" width="1.0" height="1.0" fill="#111"/>
<rect x="75.3" y="259.5" width="1.0" height="1.0" fill="#111"/>
<rect x="71.4" y="256.6" width="1.0" height="1.0" fill="#111"/>
<rect x="65.7" y="267.8" width="1.0" height="1.0" fill="#333"/>
<rect x="64.3" y="258.6" width="1.0" height="1.0" fill="#111"/>
<rect x="69.9" y="266.3" width="1.0" height="1.0" fill="#333"/>
<rect x="75.2" y="272.6" width="1.0" height="1.0" fill="#111"/>
<rect x="69.1" y="260.9" width="1.0" height="1.0" fill="#333"/>
<rect x="74.0" y="268.5" width="1.0" height="1.0" fill="#555"/>
<rect x="66.2" y="256.7" width="1.0" height="1.0" fill="#111"/>
<rect x="65.3" y="265.1" width="1.0" height="1.0" fill="#555"/>
<rect x="68.3" y="265.3" width="1.0" height="1.0" fill="#555"/>
<rect x="62.0" y="263.4" width="1.0" height="1.0" fill="#555"/>
<rect x="70.0" y="267.0" width="1.0" height="1.0" fill="#333"/>
<rect x="71.9" y="267.2" width="1.0" height="1.0" fill="#333"/>
<rect x="76.8" y="264.8" width="1.0" height="1.0" fill="#111"/>
<rect x="73.3" y="273.0" width="1.0" height="1.0" fill="#111"/>
<rect x="63.5" y="262.3" width="1.0" height="1.0" fill="#111"/>
<rect x="56.8" y="265.7" width="1.0" height="1.0" fill="#111"/>
<rect x="66.4" y="269.5" width="1.0" height="1.0" fill="#111"/>
<rect x="68.4" y="262.6" width="1.0" height="1.0" fill="#111"/>
<rect x="74.1" y="266.5" width="1.0" height="1.0" fill="#111"/>
<rect x="69.7" y="267.9" width="1.0" height="1.0" fill="#555"/>
<rect x="73.9" y="265.0" width="1.0" height="1.0" fill="#333"/>
<rect x="65.4" y="260.1" width="1.0" height="1.0" fill="#555"/>
<rect x="67.8" y="271.0" width="1.0" height="1.0" fill="#333"/>
<rect x="82.2" y="264.4" width="1.0" height="1.0" fill="#555"/>
<rect x="68.2" y="271.7" width="1.0" height="1.0" fill="#555"/>
<rect x="64.1" y="270.1" width="1.0" height="1.0" fill="#333"/>
<rect x="73.6" y="256.1" width="1.0" height="1.0" fill="#555"/>
<rect x="77.9" y="266.0" width="1.0" height="1.0" fill="#333"/>
<rect x="65.4" y="259.2" width="1.0" height="1.0" fill="#111"/>
<rect x="73.4" y="259.6" width="1.0" height="1.0" fill="#111"/>
<rect x="75.3" y="258.8" width="1.0" height="1.0" fill="#555"/>
<rect x="78.5" y="268.1" width="1.0" height="1.0" fill="#333"/>
<rect x="66.2" y="261.8" width="1.0" height="1.0" fill="#555"/>
<rect x="62.0" y="279.2" width="1.0" height="1.0" fill="#111"/>
<rect x="59.7" y="268.4" width="1.0" height="1.0" fill="#333"/>
<rect x="60.3" y="266.7" width="1.0" height="1.0" fill="#333"/>
<rect x="69.9" y="273.4" width="1.0" height="1.0" fill="#555"/>
<rect x="73.2" y="262.8" width="1.0" height="1.0" fill="#111"/>
<rect x="62.8" y="270.8" width="1.0" height="1.0" fill="#555"/>
<rect x="62.5" y="259.2" width="1.0" height="1.0" fill="#111"/>
<rect x="63.4" y="262.4" width="1.0" height="1.0" fill="#111"/>
<rect x="78.8" y="261.8" width="1.0" height="1.0" fill="#333"/>
<rect x="75.2" y="263.0" width="1.0" height="1.0" fill="#555"/>
<rect x="64.0" y="272.3" width="1.0" height="1.0" fill="#555"/>
<rect x="69.6" y="269.2" width="1.0" height="1.0" fill="#555"/>
<rect x="66.1" y="269.3" width="1.0" height="1.0" fill="#111"/>
<rect x="70.9" y="263.0" width="1.0" height="1.0" fill="#111"/>
<rect x="74.5" y="272.1" width="1.0" height="1.0" fill="#111"/>
<rect x="61.3" y="259.9" width="1.0" height="1.0" fill="#555"/>
<rect x="70.3" y="265.3" width="1.0" height="1.0" fill="#333"/>
<rect x="60.6" y="274.7" width="1.0" height="1.0" fill="#333"/>
<rect x="71.7" y="268.3" width="1.0" height="1.0" fill="#333"/>
<rect x="64.6" y="270.2" width="1.0" height="1.0" fill="#555"/>
<rect x="71.6" y="260.6" width="1.0" height="1.0" fill="#333"/>
<rect x="66.3" y="263.3" width="1.0" height="1.0" fill="#333"/>
<rect x="79.0" y="265.6" width="1.0" height="1.0" fill="#333"/>
<rect x="62.0" y="261.0" width="1.0" height="1.0" fill="#111"/>
<rect x="69.2" y="263.7" width="1.0" height="1.0" fill="#555"/>
<rect x="74.1" y="270.3" width="1.0" height="1.0" fill="#555"/>
<rect x="69.5" y="271.2" width="1.0" height="1.0" fill="#333"/>
<rect x="70.6" y="262.8" width="1.0" height="1.0" fill="#555"/>
<rect x="71.6" y="272.5" width="1.0" height="1.0" fill="#111"/>
<rect x="64.3" y="264.6" width="1.0" height="1.0" fill="#555"/>
<rect x="68.1" y="270.9" width="1.0" height="1.0" fill="#111"/>
<rect x="68.3" y="271.9" width="1.0" height="1.0" fill="#555"/>
<rect x="60.6" y="259.7" width="1.0" height="1.0" fill="#111"/>
<rect x="80.3" y="274.7" width="1.0" height="1.0" fill="#333"/>
<rect x="64.4" y="263.6" width="1.0" height="1.0" fill="#111"/>
<rect x="67.7" y="261.9" width="1.0" height="1.0" fill="#111"/>
<rect x="67.7" y="262.6" width="1.0" height="1.0" fill="#333"/>
<rect x="60.9" y="270.0" width="1.0" height="1.0" fill="#333"/>
<rect x="65.2" y="270.7" width="1.0" height="1.0" fill="#555"/>
<rect x="75.2" y="271.0" width="1.0" height="1.0" fill="#555"/>
<rect x="66.9" y="265.8" width="1.0" height="1.0" fill="#111"/>
<rect x="67.8" y="268.3" width="1.0" height="1.0" fill="#333"/>
<rect x="63.2" y="271.1" width="1.0" height="1.0" fill="#333"/>
<rect x="77.6" y="263.0" width="1.0" height="1.0" fill="#111"/>
<rect x="75.5" y="270.0" width="1.0" height="1.0" fill="#333"/>
<rect x="66.9" y="261.6" width="1.0" height="1.0" fill="#333"/>
<rect x="70.1" y="268.1" width="1.0" height="1.0" fill="#333"/>
<rect x="61.2" y="267.4" width="1.0" height="1.0" fill="#111"/>
<rect x="63.9" y="259.7" width="1.0" height="1.0" fill="#333"/>
<rect x="54.7" y="264.7" width="1.0" height="1.0" fill="#333"/>
<rect x="58.5" y="264.5" width="1.0" height="1.0" fill="#333"/>
<rect x="72.4" y="268.6" width="1.0" height="1.0" fill="#111"/>
<rect x="68.0" y="266.2" width="1.0" height="1.0" fill="#333"/>
<rect x="78.2" y="270.2" width="1.0" height="1.0" fill="#555"/>
<rect x="57.4" y="270.0" width="1.0" height="1.0" fill="#111"/>
<rect x="67.2" y="261.1" width="1.0" height="1.0" fill="#111"/>
<rect x="58.7" y="264.7" width="1.0" height="1.0" fill="#555"/>
<rect x="73.2" y="270.1" width="1.0" height="1.0" fill="#111"/>
<rect x="71.5" y="264.3" width="1.0" height="1.0" fill="#333"/>
<rect x="75.8" y="279.1" width="1.0" height="1.0" fill="#111"/>
<rect x="74.2" y="265.8" width="1.0" height="1.0" fill="#333"/>
<rect x="74.5" y="268.6" width="1.0" height="1.0" fill="#555"/>
<rect x="74.2" y="261.2" width="1.0" height="1.0" fill="#555"/>
<rect x="76.4" y="261.0" width="1.0" height="1.0" fill="#333"/>
<rect x="64.6" y="276.2" width="1.0" height="1.0" fill="#333"/>
<rect x="72.1" y="263.3" width="1.0" height="1.0" fill="#111"/>
<rect x="72.0" y="268.8" width="1.0" height="1.0" fill="#555"/>
<rect x="63.9" y="270.9" width="1.0" height="1.0" fill="#333"/>
<rect x="68.1" y="263.9" width="1.0" height="1.0" fill="#333"/>
<rect x="73.5" y="276.8" width="1.0" height="1.0" fill="#555"/>
<rect x="63.6" y="260.0" width="1.0" height="1.0" fill="#111"/>
<rect x="62.5" y="265.9" width="1.0" height="1.0" fill="#555"/>
<rect x="69.8" y="265.2" width="1.0" height="1.0" fill="#111"/>
<rect x="70.5" y="262.4" width="1.0" height="1.0" fill="#555"/>
<rect x="73.4" y="279.1" width="1.0" height="1.0" fill="#555"/>
<rect x="54.4" y="270.9" width="1.0" height="1.0" fill="#333"/>
<rect x="70.3" y="269.6" width="1.0" height="1.0" fill="#111"/>
<rect x="60.5" y="270.0" width="1.0" height="1.0" fill="#111"/>
<rect x="77.7" y="273.6" width="1.0" height="1.0" fill="#555"/>
<rect x="67.9" y="266.6" width="1.0" height="1.0" fill="#555"/>
<rect x="58.2" y="264.0" width="1.0" height="1.0" fill="#333"/>
<rect x="70.9" y="274.2" width="1.0" height="1.0" fill="#555"/>
<rect x="67.8" y="269.9" width="1.0" height="1.0" fill="#111"/>
<rect x="77.9" y="274.6" width="1.0" height="1.0" fill="#111"/>
<rect x="61.8" y="266.5" width="1.0" height="1.0" fill="#111"/>
<rect x="72.4" y="254.3" width="1.0" height="1.0" fill="#333"/>
<rect x="71.0" y="275.6" width="1.0" height="1.0" fill="#555"/>
<rect x="77.2" y="261.6" width="1.0" height="1.0" fill="#111"/>
<rect x="79.0" y="257.4" width="1.0" height="1.0" fill="#111"/>
<rect x="80.9" y="268.0" width="1.0" height="1.0" fill="#333"/>
<rect x="69.7" y="256.3" width="1.0" height="1.0" fill="#333"/>
<rect x="66.2" y="259.1" width="1.0" height="1.0" fill="#333"/>
<rect x="73.9" y="263.8" width="1.0" height="1.0" fill="#111"/>
<rect x="75.7" y="273.3" width="1.0" height="1.0" fill="#111"/>
<rect x="67.7" y="267.4" width="1.0" height="1.0" fill="#333"/>
<rect x="72.0" y="269.7" width="1.0" height="1.0" fill="#555"/>
<rect x="66.2" y="266.1" width="1.0" height="1.0" fill="#333"/>
<rect x="71.5" y="268.9" width="1.0" height="1.0" fill="#333"/>
<rect x="67.6" y="264.4" width="1.0" height="1.0" fill="#333"/>
<rect x="79.6" y="273.5" width="1.0" height="1.0" fill="#555"/>
<rect x="76.4" y="263.7" width="1.0" height="1.0" fill="#333"/>
<rect x="67.8" y="266.7" width="1.0" height="1.0" fill="#333"/>
<rect x="80.0" y="258.6" width="1.0" height="1.0" fill="#111"/>
<rect x="56.1" y="268.4" width="1.0" height="1.0" fill="#555"/>
<rect x="59.6" y="263.0" width="1.0" height="1.0" fill="#111"/>
<rect x="72.3" y="269.3" width="1.0" height="1.0" fill="#111"/>
<rect x="64.2" y="264.9" width="1.0" height="1.0" fill="#555"/>
<rect x="55.2" y="260.0" width="1.0" height="1.0" fill="#333"/>
<rect x="70.3" y="269.1" width="1.0" height="1.0" fill="#333"/>
<rect x="74.6" y="267.5" width="1.0" height="1.0" fill="#333"/>
<rect x="63.2" y="267.5" width="1.0" height="1.0" fill="#333"/>
<rect x="73.9" y="274.0" width="1.0" height="1.0" fill="#333"/>
<rect x="72.8" y="258.8" width="1.0" height="1.0" fill="#333"/>
<rect x="75.8" y="269.5" width="1.0" height="1.0" fill="#111"/>
<rect x="63.0" y="263.8" width="1.0" height="1.0" fill="#111"/>
<rect x="77.3" y="267.5" width="1.0" height="1.0" fill="#333"/>
<rect x="66.9" y="264.6" width="1.0" height="1.0" fill="#555"/>
<rect x="70.3" y="264.7" width="1.0" height="1.0" fill="#555"/>
<rect x="67.0" y="264.1" width="1.0" height="1.0" fill="#111"/>
<rect x="67.5" y="264.8" width="1.0" height="1.0" fill="#111"/>
<rect x="76.2" y="257.5" width="1.0" height="1.0" fill="#333"/>
<rect x="67.3" y="270.3" width="1.0" height="1.0" fill="#111"/>
<rect x="71.4" y="264.6" width="1.0" height="1.0" fill="#333"/>
<rect x="68.0" y="272.7" width="1.0" height="1.0" fill="#333"/>
<rect x="65.2" y="267.4" width="1.0" height="1.0" fill="#555"/>
<rect x="73.8" y="267.1" width="1.0" height="1.0" fill="#111"/>
<rect x="67.3" y="272.8" width="1.0" height="1.0" fill="#111"/>
<rect x="77.8" y="261.5" width="1.0" height="1.0" fill="#555"/>
<rect x="55.3" y="267.4" width="1.0" height="1.0" fill="#111"/>
<rect x="70.7" y="267.4" width="1.0" height="1.0" fill="#555"/>
<rect x="60.0" y="263.9" width="1.0" height="1.0" fill="#111"/>
<rect x="72.4" y="267.8" width="1.0" height="1.0" fill="#333"/>
<rect x="75.8" y="265.9" width="1.0" height="1.0" fill="#555"/>
<rect x="63.6" y="266.4" width="1.0" height="1.0" fill="#111"/>
<rect x="76.4" y="269.2" width="1.0" height="1.0" fill="#111"/>
<rect x="69.5" y="275.1" width="1.0" height="1.0" fill="#555"/>
<rect x="68.4" y="264.8" width="1.0" height="1.0" fill="#111"/>
<rect x="74.3" y="268.1" width="1.0" height="1.0" fill="#111"/>
<rect x="77.7" y="267.6" width="1.0" height="1.0" fill="#555"/>
<rect x="71.5" y="270.1" width="1.0" height="1.0" fill="#111"/>
<rect x="71.7" y="261.2" width="1.0" height="1.0" fill="#111"/>
<rect x="84.4" y="266.1" width="1.0" height="1.0" fill="#333"/>
<rect x="69.4" y="265.2" width="1.0" height="1.0" fill="#111"/>
<rect x="73.6" y="270.9" width="1.0" height="1.0" fill="#111"/>
<rect x="72.5" y="270.0" width="1.0" height="1.0" fill="#111"/>
<rect x="73.2" y="277.0" width="1.0" height="1.0" fill="#555"/>
<rect x="60.3" y="279.0" width="1.0" height="1.0" fill="#111"/>
<rect x="70.9" y="260.9" width="1.0" height="1.0" fill="#333"/>
<rect x="63.3" y="266.2" width="1.0" height="1.0" fill="#111"/>
<rect x="69.1" y="259.4" width="1.0" height="1.0" fill="#111"/>
<rect x="70.4" y="265.2" width="1.0" height="1.0" fill="#333"/>
<rect x="69.7" y="264.3" width="1.0" height="1.0" fill="#555"/>
<rect x="77.5" y="264.7" width="1.0" height="1.0" fill="#333"/>
<rect x="64.0" y="259.6" width="1.0" height="1.0" fill="#111"/>
<rect x="68.4" y="274.2" width="1.0" height="1.0" fill="#333"/>
<rect x="77.9" y="261.2" width="1.0" height="1.0" fill="#555"/>
<rect x="63.1" y="264.1" width="1.0" height="1.0" fill="#555"/>
<rect x="71.8" y="256.5" width="1.0" height="1.0" fill="#333"/>
<rect x="68.9" y="259.8" width="1.0" height="1.0" fill="#555"/>
<rect x="72.0" y="265.4" width="1.0" height="1.0" fill="#333"/>
<rect x="69.1" y="256.8" width="1.0" height="1.0" fill="#111"/>
<rect x="71.3" y="271.5" width="1.0" height="1.0" fill="#111"/>
<rect x="75.1" y="261.5" width="1.0" height="1.0" fill="#555"/>
<rect x="70.6" y="265.4" width="1.0" height="1.0" fill="#555"/>
<rect x="71.4" y="257.7" width="1.0" height="1.0" fill="#555"/>
<rect x="69.9" y="261.9" width="1.0" height="1.0" fill="#333"/>
<rect x="66.7" y="267.9" width="1.0" height="1.0" fill="#555"/>
<rect x="63.6" y="259.1" width="1.0" height="1.0" fill="#555"/>
<rect x="58.8" y="262.0" width="1.0" height="1.0" fill="#333"/>
<rect x="76.5" y="266.1" width="1.0" height="1.0" fill="#111"/>
<rect x="81.7" y="262.4" width="1.0" height="1.0" fill="#333"/>
<rect x="61.3" y="270.4" width="1.0" height="1.0" fill="#333"/>
<rect x="74.0" y="271.1" width="1.0" height="1.0" fill="#111"/>
<rect x="61.4" y="274.7" width="1.0" height="1.0" fill="#555"/>
<rect x="74.8" y="267.0" width="1.0" height="1.0" fill="#333"/>
<rect x="74.2" y="275.7" width="1.0" height="1.0" fill="#333"/>
<rect x="62.7" y="259.3" width="1.0" height="1.0" fill="#111"/>
<rect x="70.9" y="273.2" width="1.0" height="1.0" fill="#333"/>
<rect x="70.8" y="263.5" width="1.0" height="1.0" fill="#333"/>
<rect x="67.2" y="269.1" width="1.0" height="1.0" fill="#111"/>
<rect x="71.2" y="276.6" width="1.0" height="1.0" fill="#555"/>
<rect x="81.2" y="257.0" width="1.0" height="1.0" fill="#333"/>
<rect x="73.5" y="274.9" width="1.0" height="1.0" fill="#111"/>
<rect x="68.3" y="267.0" width="1.0" height="1.0" fill="#111"/>
<rect x="72.9" y="268.5" width="1.0" height="1.0" fill="#555"/>
<rect x="70.8" y="262.8" width="1.0" height="1.0" fill="#333"/>
<rect x="60.6" y="254.3" width="1.0" height="1.0" fill="#555"/>
<rect x="74.1" y="261.6" width="1.0" height="1.0" fill="#333"/>
<rect x="76.2" y="272.2" width="1.0" height="1.0" fill="#333"/>
<rect x="67.7" y="264.9" width="1.0" height="1.0" fill="#555"/>
<rect x="66.5" y="270.1" width="1.0" height="1.0" fill="#333"/>
<rect x="62.8" y="272.6" width="1.0" height="1.0" fill="#555"/>
<rect x="63.0" y="256.2" width="1.0" height="1.0" fill="#555"/>
<rect x="77.8" y="268.5" width="1.0" height="1.0" fill="#333"/>
<rect x="57.4" y="277.7" width="1.0" height="1.0" fill="#111"/>
<rect x="78.6" y="258.4" width="1.0" height="1.0" fill="#111"/>
<rect x="62.4" y="265.1" width="1.0" height="1.0" fill="#555"/>
<rect x="77.1" y="260.8" width="1.0" height="1.0" fill="#555"/>
<rect x="68.2" y="266.6" width="1.0" height="1.0" fill="#333"/>
<rect x="74.3" y="271.3" width="1.0" height="1.0" fill="#555"/>
<rect x="73.0" y="272.1" width="1.0" height="1.0" fill="#333"/>
<rect x="65.6" y="264.1" width="1.0" height="1.0" fill="#555"/>
<rect x="77.1" y="266.9" width="1.0" height="1.0" fill="#333"/>
<rect x="62.0" y="259.8" width="1.0" height="1.0" fill="#555"/>
<rect x="64.2" y="262.4" width="1.0" height="1.0" fill="#555"/>
<rect x="60.0" y="275.5" width="1.0" height="1.0" fill="#333"/>
<rect x="73.5" y="271.7" width="1.0" height="1.0" fill="#111"/>
<rect x="70.6" y="262.0" width="1.0" height="1.0" fill="#111"/>
<rect x="72.6" y="274.8" width="1.0" height="1.0" fill="#111"/>
<rect x="74.6" y="273.0" width="1.0" height="1.0" fill="#111"/>
<rect x="63.1" y="257.1" width="1.0" height="1.0" fill="#555"/>
<rect x="67.1" y="271.3" width="1.0" height="1.0" fill="#333"/>
<rect x="73.1" y="265.4" width="1.0" height="1.0" fill="#333"/>
<rect x="74.7" y="262.5" width="1.0" height="1.0" fill="#555"/>
<rect x="66.0" y="271.6" width="1.0" height="1.0" fill="#111"/>
<rect x="66.4" y="262.4" width="1.0" height="1.0" fill="#333"/>
<rect x="56.4" y="275.9" width="1.0" height="1.0" fill="#333"/>
<rect x="80.3" y="273.0" width="1.0" height="1.0" fill="#555"/>
<rect x="57.2" y="270.3" width="1.0" height="1.0" fill="#555"/>
<rect x="76.4" y="274.8" width="1.0" height="1.0" fill="#111"/>
<rect x="75.3" y="272.8" width="1.0" height="1.0" fill="#333"/>
<rect x="62.3" y="258.8" width="1.0" height="1.0" fill="#333"/>
<rect x="69.1" y="262.5" width="1.0" height="1.0" fill="#333"/>
<rect x="67.7" y="261.7" width="1.0" height="1.0" fill="#333"/>
<rect x="71.0" y="264.3" width="1.0" height="1.0" fill="#333"/>
<rect x="69.3" y="265.0" width="1.0" height="1.0" fill="#555"/>
<rect x="63.4" y="265.0" width="1.0" height="1.0" fill="#333"/>
<rect x="68.5" y="270.2" width="1.0" height="1.0" fill="#111"/>
<rect x="71.1" y="264.8" width="1.0" height="1.0" fill="#555"/>
<rect x="70.6" y="242.0" width="1.0" height="1.0" fill="#444"/>
<rect x="82.5" y="246.5" width="1.0" height="1.0" fill="#666"/>
<rect x="92.7" y="245.6" width="1.0" height="1.0" fill="#444"/>
<rect x="77.9" y="241.0" width="1.0" height="1.0" fill="#888"/>
<rect x="64.6" y="255.3" width="1.0" height="1.0" fill="#888"/>
<rect x="71.5" y="253.4" width="1.0" height="1.0" fill="#666"/>
<rect x="61.7" y="248.0" width="1.0" height="1.0" fill="#888"/>
<rect x="83.3" y="253.9" width="1.0" height="1.0" fill="#444"/>
<rect x="80.0" y="247.4" width="1.0" height="1.0" fill="#444"/>
<rect x="86.6" y="238.8" width="1.0" height="1.0" fill="#aaa"/>
<rect x="63.1" y="255.8" width="1.0" height="1.0" fill="#888"/>
<rect x="80.0" y="237.0" width="1.0" height="1.0" fill="#666"/>
<rect x="86.4" y="258.0" width="1.0" height="1.0" fill="#666"/>
<rect x="91.9" y="240.1" width="1.0" height="1.0" fill="#aaa"/>
<rect x="80.6" y="245.8" width="1.0" height="1.0" fill="#aaa"/>
<rect x="68.7" y="245.3" width="1.0" height="1.0" fill="#444"/>
<rect x="78.2" y="238.1" width="1.0" height="1.0" fill="#888"/>
<rect x="55.7" y="239.6" width="1.0" height="1.0" fill="#888"/>
<rect x="91.0" y="254.6" width="1.0" height="1.0" fill="#444"/>
<rect x="64.2" y="259.3" width="1.0" height="1.0" fill="#444"/>
<rect x="97.5" y="261.3" width="1.0" height="1.0" fill="#666"/>
<rect x="92.9" y="248.1" width="1.0" height="1.0" fill="#666"/>
<rect x="62.6" y="253.0" width="1.0" height="1.0" fill="#aaa"/>
<rect x="62.4" y="244.2" width="1.0" height="1.0" fill="#444"/>
<rect x="97.8" y="251.2" width="1.0" height="1.0" fill="#444"/>
<rect x="66.0" y="250.3" width="1.0" height="1.0" fill="#888"/>
<rect x="90.4" y="245.9" width="1.0" height="1.0" fill="#666"/>
<rect x="80.3" y="262.6" width="1.0" height="1.0" fill="#666"/>
<rect x="69.6" y="270.5" width="1.0" height="1.0" fill="#444"/>
<rect x="77.2" y="253.8" width="1.0" height="1.0" fill="#888"/>
<rect x="72.2" y="250.6" width="1.0" height="1.0" fill="#888"/>
<rect x="73.5" y="238.7" width="1.0" height="1.0" fill="#aaa"/>
<rect x="61.0" y="256.4" width="1.0" height="1.0" fill="#444"/>
<rect x="59.2" y="270.6" width="1.0" height="1.0" fill="#444"/>
<rect x="66.1" y="241.6" width="1.0" height="1.0" fill="#aaa"/>
<rect x="58.6" y="253.6" width="1.0" height="1.0" fill="#aaa"/>
<rect x="82.0" y="258.9" width="1.0" height="1.0" fill="#444"/>
<rect x="68.0" y="253.3" width="1.0" height="1.0" fill="#666"/>
<rect x="98.7" y="255.3" width="1.0" height="1.0" fill="#444"/>
<rect x="68.6" y="251.5" width="1.0" height="1.0" fill="#666"/>
<rect x="77.2" y="243.6" width="1.0" height="1.0" fill="#888"/>
<rect x="92.8" y="241.7" width="1.0" height="1.0" fill="#444"/>
<rect x="83.5" y="250.6" width="1.0" height="1.0" fill="#444"/>
<rect x="84.8" y="238.6" width="1.0" height="1.0" fill="#888"/>
<rect x="60.2" y="246.1" width="1.0" height="1.0" fill="#888"/>
<rect x="86.2" y="248.0" width="1.0" height="1.0" fill="#444"/>
<rect x="74.8" y="236.9" width="1.0" height="1.0" fill="#aaa"/>
<rect x="93.5" y="239.3" width="1.0" height="1.0" fill="#aaa"/>
<rect x="77.6" y="241.7" width="1.0" height="1.0" fill="#666"/>
<rect x="59.7" y="262.6" width="1.0" height="1.0" fill="#aaa"/>
<rect x="102.4" y="246.2" width="1.0" height="1.0" fill="#888"/>
<rect x="80.0" y="251.5" width="1.0" height="1.0" fill="#888"/>
<rect x="67.8" y="249.3" width="1.0" height="1.0" fill="#888"/>
<rect x="60.3" y="234.5" width="1.0" height="1.0" fill="#666"/>
<rect x="68.8" y="230.9" width="1.0" height="1.0" fill="#aaa"/>
<rect x="78.9" y="236.2" width="1.0" height="1.0" fill="#666"/>
<rect x="84.7" y="234.3" width="1.0" height="1.0" fill="#666"/>
<rect x="79.8" y="251.7" width="1.0" height="1.0" fill="#aaa"/>
<rect x="97.7" y="250.1" width="1.0" height="1.0" fill="#444"/>
<rect x="72.5" y="249.8" width="1.0" height="1.0" fill="#444"/>
<rect x="82.9" y="242.9" width="1.0" height="1.0" fill="#aaa"/>
<rect x="58.9" y="251.2" width="1.0" height="1.0" fill="#666"/>
<rect x="84.1" y="248.7" width="1.0" height="1.0" fill="#888"/>
<rect x="71.8" y="251.8" width="1.0" height="1.0" fill="#666"/>
<rect x="88.2" y="245.3" width="1.0" height="1.0" fill="#aaa"/>
<rect x="77.1" y="238.6" width="1.0" height="1.0" fill="#444"/>
<rect x="80.7" y="245.0" width="1.0" height="1.0" fill="#666"/>
<rect x="73.2" y="240.4" width="1.0" height="1.0" fill="#aaa"/>
<rect x="71.3" y="246.8" width="1.0" height="1.0" fill="#aaa"/>
<rect x="72.5" y="247.6" width="1.0" height="1.0" fill="#666"/>
<rect x="83.8" y="232.6" width="1.0" height="1.0" fill="#444"/>
<rect x="59.5" y="258.9" width="1.0" height="1.0" fill="#666"/>
<rect x="62.8" y="240.1" width="1.0" height="1.0" fill="#444"/>
<rect x="77.2" y="266.3" width="1.0" height="1.0" fill="#666"/>
<rect x="77.1" y="246.8" width="1.0" height="1.0" fill="#444"/>
<rect x="96.1" y="244.2" width="1.0" height="1.0" fill="#444"/>
<rect x="91.5" y="243.2" width="1.0" height="1.0" fill="#aaa"/>
<rect x="75.4" y="253.6" width="1.0" height="1.0" fill="#444"/>
<rect x="77.5" y="232.5" width="1.0" height="1.0" fill="#444"/>
<rect x="84.4" y="261.8" width="1.0" height="1.0" fill="#666"/>
<rect x="68.1" y="244.8" width="1.0" height="1.0" fill="#aaa"/>
<rect x="76.7" y="248.7" width="1.0" height="1.0" fill="#444"/>
<rect x="55.1" y="245.3" width="1.0" height="1.0" fill="#444"/>
<rect x="71.2" y="238.1" width="1.0" height="1.0" fill="#888"/>
<rect x="58.8" y="253.3" width="1.0" height="1.0" fill="#666"/>
<rect x="98.3" y="249.8" width="1.0" height="1.0" fill="#aaa"/>
<rect x="80.8" y="260.8" width="1.0" height="1.0" fill="#666"/>
<rect x="59.8" y="230.0" width="1.0" height="1.0" fill="#444"/>
<rect x="65.3" y="247.6" width="1.0" height="1.0" fill="#444"/>
<rect x="83.6" y="251.6" width="1.0" height="1.0" fill="#444"/>
<rect x="84.1" y="251.9" width="1.0" height="1.0" fill="#888"/>
<rect x="76.5" y="244.5" width="1.0" height="1.0" fill="#888"/>
<rect x="76.2" y="248.1" width="1.0" height="1.0" fill="#444"/>
<rect x="93.5" y="251.1" width="1.0" height="1.0" fill="#666"/>
<rect x="62.9" y="248.8" width="1.0" height="1.0" fill="#aaa"/>
<rect x="89.9" y="243.3" width="1.0" height="1.0" fill="#666"/>
<rect x="92.9" y="241.4" width="1.0" height="1.0" fill="#444"/>
<rect x="95.5" y="239.8" width="1.0" height="1.0" fill="#444"/>
<rect x="72.9" y="245.4" width="1.0" height="1.0" fill="#aaa"/>
<rect x="77.3" y="246.4" width="1.0" height="1.0" fill="#888"/>
<rect x="58.5" y="254.6" width="1.0" height="1.0" fill="#888"/>
<rect x="81.4" y="233.7" width="1.0" height="1.0" fill="#444"/>
<rect x="73.6" y="252.3" width="1.0" height="1.0" fill="#aaa"/>
<rect x="91.1" y="264.5" width="1.0" height="1.0" fill="#aaa"/>
<rect x="77.8" y="233.8" width="1.0" height="1.0" fill="#888"/>
<rect x="74.6" y="255.1" width="1.0" height="1.0" fill="#aaa"/>
<rect x="65.4" y="248.0" width="1.0" height="1.0" fill="#888"/>
<rect x="85.4" y="245.0" width="1.0" height="1.0" fill="#666"/>
<rect x="92.4" y="238.9" width="1.0" height="1.0" fill="#666"/>
<rect x="93.7" y="256.9" width="1.0" height="1.0" fill="#888"/>
<rect x="66.3" y="252.9" width="1.0" height="1.0" fill="#444"/>
<rect x="83.8" y="256.8" width="1.0" height="1.0" fill="#666"/>
<rect x="87.4" y="245.1" width="1.0" height="1.0" fill="#444"/>
<rect x="71.0" y="244.9" width="1.0" height="1.0" fill="#444"/>
<rect x="73.2" y="240.9" width="1.0" height="1.0" fill="#444"/>
<rect x="83.5" y="248.2" width="1.0" height="1.0" fill="#aaa"/>
<rect x="70.5" y="246.2" width="1.0" height="1.0" fill="#888"/>
<rect x="76.2" y="243.0" width="1.0" height="1.0" fill="#888"/>
<rect x="81.1" y="247.8" width="1.0" height="1.0" fill="#666"/>
<rect x="65.5" y="241.1" width="1.0" height="1.0" fill="#666"/>
<rect x="67.0" y="240.7" width="1.0" height="1.0" fill="#aaa"/>
<rect x="74.6" y="251.8" width="1.0" height="1.0" fill="#444"/>
<rect x="71.4" y="248.6" width="1.0" height="1.0" fill="#444"/>
<rect x="79.7" y="251.8" width="1.0" height="1.0" fill="#aaa"/>
<rect x="67.5" y="241.9" width="1.0" height="1.0" fill="#888"/>
<rect x="87.5" y="244.1" width="1.0" height="1.0" fill="#444"/>
<rect x="75.6" y="257.0" width="1.0" height="1.0" fill="#666"/>
<rect x="57.8" y="254.6" width="1.0" height="1.0" fill="#444"/>
<rect x="84.6" y="241.7" width="1.0" height="1.0" fill="#888"/>
<rect x="77.5" y="247.2" width="1.0" height="1.0" fill="#666"/>
<rect x="82.4" y="252.0" width="1.0" height="1.0" fill="#888"/>
<rect x="71.4" y="243.7" width="1.0" height="1.0" fill="#444"/>
<rect x="78.6" y="246.3" width="1.0" height="1.0" fill="#444"/>
<rect x="85.6" y="258.1" width="1.0" height="1.0" fill="#888"/>
<rect x="72.0" y="245.0" width="1.0" height="1.0" fill="#666"/>
<rect x="84.6" y="250.6" width="1.0" height="1.0" fill="#444"/>
<rect x="68.3" y="247.1" width="1.0" height="1.0" fill="#444"/>
<rect x="73.3" y="255.2" width="1.0" height="1.0" fill="#666"/>
<rect x="86.3" y="245.4" width="1.0" height="1.0" fill="#666"/>
<rect x="89.6" y="258.8" width="1.0" height="1.0" fill="#888"/>
<rect x="71.0" y="252.8" width="1.0" height="1.0" fill="#444"/>
<rect x="94.3" y="235.3" width="1.0" height="1.0" fill="#666"/>
<rect x="73.4" y="256.8" width="1.0" height="1.0" fill="#444"/>
<rect x="77.3" y="254.1" width="1.0" height="1.0" fill="#666"/>
<rect x="77.9" y="233.3" width="1.0" height="1.0" fill="#666"/>
<rect x="67.5" y="242.6" width="1.0" height="1.0" fill="#444"/>
<rect x="92.8" y="251.5" width="1.0" height="1.0" fill="#888"/>
<rect x="76.3" y="250.9" width="1.0" height="1.0" fill="#aaa"/>
<rect x="70.2" y="249.7" width="1.0" height="1.0" fill="#aaa"/>
<rect x="81.0" y="250.9" width="1.0" height="1.0" fill="#aaa"/>
<rect x="99.3" y="239.3" width="1.0" height="1.0" fill="#aaa"/>
<rect x="70.4" y="250.8" width="1.0" height="1.0" fill="#444"/>
<rect x="74.7" y="257.7" width="1.0" height="1.0" fill="#666"/>
<rect x="90.1" y="244.1" width="1.0" height="1.0" fill="#444"/>
<rect x="62.2" y="249.4" width="1.0" height="1.0" fill="#666"/>
<rect x="99.1" y="243.8" width="1.0" height="1.0" fill="#444"/>
<rect x="87.9" y="251.3" width="1.0" height="1.0" fill="#444"/>
<rect x="76.5" y="253.8" width="1.0" height="1.0" fill="#888"/>
<rect x="77.2" y="252.1" width="1.0" height="1.0" fill="#888"/>
<rect x="77.4" y="244.8" width="1.0" height="1.0" fill="#aaa"/>
<rect x="72.3" y="246.6" width="1.0" height="1.0" fill="#888"/>
<rect x="70.1" y="243.0" width="1.0" height="1.0" fill="#444"/>
<rect x="72.1" y="240.6" width="1.0" height="1.0" fill="#888"/>
<rect x="76.8" y="250.0" width="1.0" height="1.0" fill="#444"/>
<rect x="64.7" y="240.2" width="1.0" height="1.0" fill="#444"/>
<rect x="67.5" y="248.2" width="1.0" height="1.0" fill="#aaa"/>
<rect x="72.6" y="245.5" width="1.0" height="1.0" fill="#888"/>
<rect x="89.3" y="259.5" width="1.0" height="1.0" fill="#888"/>
<rect x="74.6" y="233.4" width="1.0" height="1.0" fill="#888"/>
<rect x="66.3" y="240.0" width="1.0" height="1.0" fill="#666"/>
<rect x="89.2" y="249.0" width="1.0" height="1.0" fill="#444"/>
<rect x="68.8" y="270.6" width="1.0" height="1.0" fill="#666"/>
<rect x="72.5" y="255.7" width="1.0" height="1.0" fill="#666"/>
<rect x="87.3" y="245.2" width="1.0" height="1.0" fill="#666"/>
<rect x="105.1" y="248.6" width="1.0" height="1.0" fill="#666"/>
<rect x="86.6" y="251.4" width="1.0" height="1.0" fill="#aaa"/>
<rect x="72.1" y="244.4" width="1.0" height="1.0" fill="#666"/>
<rect x="80.8" y="257.1" width="1.0" height="1.0" fill="#888"/>
<rect x="89.3" y="248.1" width="1.0" height="1.0" fill="#666"/>
<rect x="95.9" y="245.6" width="1.0" height="1.0" fill="#444"/>
<rect x="66.8" y="253.6" width="1.0" height="1.0" fill="#444"/>
<rect x="57.3" y="244.5" width="1.0" height="1.0" fill="#666"/>
<rect x="76.1" y="248.9" width="1.0" height="1.0" fill="#888"/>
<rect x="65.3" y="244.1" width="1.0" height="1.0" fill="#aaa"/>
<rect x="81.8" y="253.1" width="1.0" height="1.0" fill="#444"/>
<rect x="74.1" y="257.3" width="1.0" height="1.0" fill="#666"/>
<rect x="82.5" y="248.5" width="1.0" height="1.0" fill="#888"/>
<rect x="79.1" y="247.0" width="1.0" height="1.0" fill="#666"/>
<rect x="71.7" y="250.8" width="1.0" height="1.0" fill="#aaa"/>
<rect x="78.3" y="243.0" width="1.0" height="1.0" fill="#666"/>
<rect x="95.2" y="232.4" width="1.0" height="1.0" fill="#888"/>
<rect x="94.5" y="245.2" width="1.0" height="1.0" fill="#444"/>
<rect x="101.2" y="252.9" width="1.0" height="1.0" fill="#444"/>
<rect x="101.4" y="243.8" width="1.0" height="1.0" fill="#444"/>
<rect x="68.4" y="269.7" width="1.0" height="1.0" fill="#666"/>
<rect x="63.1" y="254.6" width="1.0" height="1.0" fill="#888"/>
<rect x="82.1" y="237.7" width="1.0" height="1.0" fill="#444"/>
<rect x="62.7" y="253.0" width="1.0" height="1.0" fill="#888"/>
<rect x="100.7" y="235.2" width="1.0" height="1.0" fill="#666"/>
<rect x="61.2" y="254.2" width="1.0" height="1.0" fill="#888"/>
<rect x="69.1" y="247.3" width="1.0" height="1.0" fill="#888"/>
<rect x="68.3" y="243.1" width="1.0" height="1.0" fill="#888"/>
<rect x="73.9" y="246.3" width="1.0" height="1.0" fill="#444"/>
<rect x="66.4" y="243.3" width="1.0" height="1.0" fill="#888"/>
<rect x="76.5" y="247.9" width="1.0" height="1.0" fill="#aaa"/>
<rect x="65.1" y="261.1" width="1.0" height="1.0" fill="#666"/>
<rect x="65.6" y="251.2" width="1.0" height="1.0" fill="#666"/>
<rect x="81.1" y="248.2" width="1.0" height="1.0" fill="#666"/>
<rect x="64.3" y="247.7" width="1.0" height="1.0" fill="#666"/>
<rect x="83.1" y="245.1" width="1.0" height="1.0" fill="#888"/>
<rect x="65.8" y="256.0" width="1.0" height="1.0" fill="#888"/>
<rect x="81.9" y="252.7" width="1.0" height="1.0" fill="#666"/>
<rect x="80.3" y="246.0" width="1.0" height="1.0" fill="#666"/>
<rect x="88.4" y="240.9" width="1.0" height="1.0" fill="#444"/>
<rect x="63.0" y="251.5" width="1.0" height="1.0" fill="#888"/>
<rect x="66.0" y="246.2" width="1.0" height="1.0" fill="#aaa"/>
<rect x="67.4" y="262.9" width="1.0" height="1.0" fill="#444"/>
<rect x="66.7" y="237.2" width="1.0" height="1.0" fill="#aaa"/>
<rect x="55.0" y="265.3" width="1.0" height="1.0" fill="#888"/>
<rect x="84.8" y="238.6" width="1.0" height="1.0" fill="#666"/>
<rect x="82.8" y="261.4" width="1.0" height="1.0" fill="#888"/>
<rect x="71.7" y="245.5" width="1.0" height="1.0" fill="#444"/>
<rect x="57.2" y="241.1" width="1.0" height="1.0" fill="#444"/>
<rect x="76.7" y="250.3" width="1.0" height="1.0" fill="#aaa"/>
<rect x="74.5" y="242.8" width="1.0" height="1.0" fill="#444"/>
<rect x="82.8" y="234.1" width="1.0" height="1.0" fill="#444"/>
<rect x="75.6" y="248.4" width="1.0" height="1.0" fill="#666"/>
<rect x="87.8" y="263.4" width="1.0" height="1.0" fill="#666"/>
<rect x="81.9" y="249.1" width="1.0" height="1.0" fill="#444"/>
<rect x="82.7" y="247.7" width="1.0" height="1.0" fill="#888"/>
<rect x="86.0" y="251.6" width="1.0" height="1.0" fill="#888"/>
<rect x="64.1" y="254.3" width="1.0" height="1.0" fill="#888"/>
<rect x="62.3" y="265.7" width="1.0" height="1.0" fill="#888"/>
<rect x="78.7" y="251.8" width="1.0" height="1.0" fill="#444"/>
<rect x="72.9" y="243.3" width="1.0" height="1.0" fill="#888"/>
<rect x="68.4" y="257.3" width="1.0" height="1.0" fill="#666"/>
<rect x="80.2" y="286.2" width="1.0" height="1.0" fill="#999"/>
<rect x="68.7" y="306.9" width="1.0" height="1.0" fill="#555"/>
<rect x="75.6" y="301.9" width="1.0" height="1.0" fill="#999"/>
<rect x="83.7" y="306.2" width="1.0" height="1.0" fill="#555"/>
<rect x="78.4" y="290.3" width="1.0" height="1.0" fill="#999"/>
<rect x="77.7" y="293.2" width="1.0" height="1.0" fill="#333"/>
<rect x="79.8" y="290.9" width="1.0" height="1.0" fill="#999"/>
<rect x="79.2" y="303.6" width="1.0" height="1.0" fill="#555"/>
<rect x="83.7" y="307.5" width="1.0" height="1.0" fill="#555"/>
<rect x="76.5" y="289.0" width="1.0" height="1.0" fill="#777"/>
<rect x="76.2" y="296.9" width="1.0" height="1.0" fill="#333"/>
<rect x="77.5" y="306.0" width="1.0" height="1.0" fill="#999"/>
<rect x="66.0" y="285.6" width="1.0" height="1.0" fill="#555"/>
<rect x="97.7" y="299.4" width="1.0" height="1.0" fill="#777"/>
<rect x="78.1" y="301.4" width="1.0" height="1.0" fill="#999"/>
<rect x="78.1" y="283.5" width="1.0" height="1.0" fill="#777"/>
<rect x="70.2" y="304.4" width="1.0" height="1.0" fill="#777"/>
<rect x="84.9" y="304.1" width="1.0" height="1.0" fill="#333"/>
<rect x="74.9" y="306.0" width="1.0" height="1.0" fill="#555"/>
<rect x="85.3" y="316.1" width="1.0" height="1.0" fill="#555"/>
<rect x="72.3" y="299.8" width="1.0" height="1.0" fill="#333"/>
<rect x="78.8" y="286.2" width="1.0" height="1.0" fill="#777"/>
<rect x="73.6" y="289.8" width="1.0" height="1.0" fill="#777"/>
<rect x="77.0" y="295.1" width="1.0" height="1.0" fill="#333"/>
<rect x="71.5" y="292.0" width="1.0" height="1.0" fill="#333"/>
<rect x="76.3" y="311.5" width="1.0" height="1.0" fill="#555"/>
<rect x="64.4" y="302.6" width="1.0" height="1.0" fill="#999"/>
<rect x="77.3" y="291.0" width="1.0" height="1.0" fill="#999"/>
<rect x="78.4" y="285.9" width="1.0" height="1.0" fill="#777"/>
<rect x="74.3" y="296.0" width="1.0" height="1.0" fill="#999"/>
<rect x="89.0" y="310.7" width="1.0" height="1.0" fill="#555"/>
<rect x="94.3" y="306.9" width="1.0" height="1.0" fill="#555"/>
<rect x="85.6" y="305.2" width="1.0" height="1.0" fill="#333"/>
<rect x="75.7" y="301.9" width="1.0" height="1.0" fill="#777"/>
<rect x="74.0" y="300.0" width="1.0" height="1.0" fill="#999"/>
<rect x="73.2" y="285.9" width="1.0" height="1.0" fill="#333"/>
<rect x="90.5" y="304.5" width="1.0" height="1.0" fill="#555"/>
<rect x="66.6" y="295.2" width="1.0" height="1.0" fill="#777"/>
<rect x="80.6" y="308.5" width="1.0" height="1.0" fill="#999"/>
<rect x="78.5" y="303.8" width="1.0" height="1.0" fill="#999"/>
<rect x="74.9" y="291.0" width="1.0" height="1.0" fill="#555"/>
<rect x="68.5" y="300.8" width="1.0" height="1.0" fill="#333"/>
<rect x="75.9" y="312.8" width="1.0" height="1.0" fill="#999"/>
<rect x="60.5" y="300.5" width="1.0" height="1.0" fill="#777"/>
<rect x="76.9" y="290.6" width="1.0" height="1.0" fill="#555"/>
<rect x="76.2" y="294.5" width="1.0" height="1.0" fill="#555"/>
<rect x="83.0" y="294.9" width="1.0" height="1.0" fill="#777"/>
<rect x="77.0" y="297.2" width="1.0" height="1.0" fill="#999"/>
<rect x="80.4" y="287.5" width="1.0" height="1.0" fill="#777"/>
<rect x="72.4" y="311.1" width="1.0" height="1.0" fill="#777"/>
<rect x="72.6" y="287.2" width="1.0" height="1.0" fill="#333"/>
<rect x="82.1" y="284.6" width="1.0" height="1.0" fill="#777"/>
<rect x="87.5" y="301.4" width="1.0" height="1.0" fill="#333"/>
<rect x="89.4" y="288.4" width="1.0" height="1.0" fill="#777"/>
<rect x="77.3" y="306.4" width="1.0" height="1.0" fill="#777"/>
<rect x="81.7" y="297.5" width="1.0" height="1.0" fill="#777"/>
<rect x="72.3" y="302.7" width="1.0" height="1.0" fill="#555"/>
<rect x="86.2" y="301.3" width="1.0" height="1.0" fill="#555"/>
<rect x="80.3" y="288.4" width="1.0" height="1.0" fill="#333"/>
<rect x="87.0" y="299.6" width="1.0" height="1.0" fill="#555"/>
<rect x="78.4" y="293.3" width="1.0" height="1.0" fill="#777"/>
<rect x="67.4" y="308.8" width="1.0" height="1.0" fill="#555"/>
<rect x="77.2" y="312.4" width="1.0" height="1.0" fill="#333"/>
<rect x="69.4" y="311.5" width="1.0" height="1.0" fill="#777"/>
<rect x="79.1" y="296.1" width="1.0" height="1.0" fill="#333"/>
<rect x="79.9" y="283.8" width="1.0" height="1.0" fill="#999"/>
<rect x="83.4" y="296.7" width="1.0" height="1.0" fill="#999"/>
<rect x="79.1" y="282.6" width="1.0" height="1.0" fill="#555"/>
<rect x="75.7" y="291.0" width="1.0" height="1.0" fill="#333"/>
<rect x="81.2" y="304.1" width="1.0" height="1.0" fill="#333"/>
<rect x="77.7" y="298.1" width="1.0" height="1.0" fill="#777"/>
<rect x="78.7" y="300.6" width="1.0" height="1.0" fill="#333"/>
<rect x="78.8" y="308.2" width="1.0" height="1.0" fill="#999"/>
<rect x="73.7" y="307.6" width="1.0" height="1.0" fill="#999"/>
<rect x="73.1" y="309.7" width="1.0" height="1.0" fill="#999"/>
<rect x="74.0" y="305.7" width="1.0" height="1.0" fill="#777"/>
<rect x="76.1" y="291.1" width="1.0" height="1.0" fill="#333"/>
<rect x="58.1" y="279.2" width="1.0" height="1.0" fill="#333"/>
<rect x="69.8" y="299.0" width="1.0" height="1.0" fill="#555"/>
<rect x="78.1" y="307.0" width="1.0" height="1.0" fill="#777"/>
<rect x="85.1" y="294.7" width="1.0" height="1.0" fill="#333"/>
<rect x="71.8" y="289.3" width="1.0" height="1.0" fill="#999"/>
<rect x="70.7" y="293.4" width="1.0" height="1.0" fill="#555"/>
<rect x="73.9" y="300.3" width="1.0" height="1.0" fill="#777"/>
<rect x="81.4" y="286.2" width="1.0" height="1.0" fill="#777"/>
<rect x="85.8" y="309.2" width="1.0" height="1.0" fill="#333"/>
<rect x="79.1" y="316.5" width="1.0" height="1.0" fill="#999"/>
<rect x="81.6" y="309.7" width="1.0" height="1.0" fill="#333"/>
<rect x="80.4" y="297.1" width="1.0" height="1.0" fill="#777"/>
<rect x="84.3" y="299.5" width="1.0" height="1.0" fill="#555"/>
<rect x="65.7" y="298.4" width="1.0" height="1.0" fill="#333"/>
<rect x="74.7" y="294.7" width="1.0" height="1.0" fill="#999"/>
<rect x="84.8" y="300.1" width="1.0" height="1.0" fill="#555"/>
<rect x="82.3" y="316.7" width="1.0" height="1.0" fill="#333"/>
<rect x="80.7" y="293.7" width="1.0" height="1.0" fill="#333"/>
<rect x="76.9" y="300.8" width="1.0" height="1.0" fill="#555"/>
<rect x="61.4" y="295.7" width="1.0" height="1.0" fill="#555"/>
<rect x="82.2" y="309.1" width="1.0" height="1.0" fill="#333"/>
<rect x="68.7" y="303.3" width="1.0" height="1.0" fill="#777"/>
<rect x="72.7" y="294.8" width="1.0" height="1.0" fill="#555"/>
<rect x="69.2" y="297.3" width="1.0" height="1.0" fill="#333"/>
<rect x="78.2" y="284.2" width="1.0" height="1.0" fill="#555"/>
<rect x="76.5" y="292.8" width="1.0" height="1.0" fill="#777"/>
<rect x="77.9" y="314.8" width="1.0" height="1.0" fill="#555"/>
<rect x="65.3" y="286.5" width="1.0" height="1.0" fill="#555"/>
<rect x="86.8" y="298.3" width="1.0" height="1.0" fill="#333"/>
<rect x="76.4" y="285.6" width="1.0" height="1.0" fill="#555"/>
<rect x="74.7" y="314.8" width="1.0" height="1.0" fill="#333"/>
<rect x="76.1" y="299.0" width="1.0" height="1.0" fill="#333"/>
<rect x="85.9" y="287.0" width="1.0" height="1.0" fill="#999"/>
<rect x="81.0" y="306.9" width="1.0" height="1.0" fill="#555"/>
<rect x="82.4" y="299.7" width="1.0" height="1.0" fill="#555"/>
<rect x="81.2" y="299.5" width="1.0" height="1.0" fill="#999"/>
<rect x="72.2" y="305.5" width="1.0" height="1.0" fill="#777"/>
<rect x="78.9" y="304.4" width="1.0" height="1.0" fill="#333"/>
<rect x="81.9" y="308.5" width="1.0" height="1.0" fill="#333"/>
<rect x="72.4" y="298.3" width="1.0" height="1.0" fill="#999"/>
<rect x="82.5" y="287.6" width="1.0" height="1.0" fill="#999"/>
<rect x="71.3" y="299.5" width="1.0" height="1.0" fill="#555"/>
<rect x="68.9" y="299.8" width="1.0" height="1.0" fill="#555"/>
<rect x="77.1" y="306.9" width="1.0" height="1.0" fill="#999"/>
<rect x="83.0" y="298.1" width="1.0" height="1.0" fill="#777"/>
<rect x="75.9" y="291.3" width="1.0" height="1.0" fill="#999"/>
<rect x="72.1" y="290.9" width="1.0" height="1.0" fill="#333"/>
<rect x="87.5" y="304.3" width="1.0" height="1.0" fill="#999"/>
<rect x="70.9" y="307.7" width="1.0" height="1.0" fill="#999"/>
<rect x="85.1" y="296.6" width="1.0" height="1.0" fill="#555"/>
<rect x="67.5" y="293.7" width="1.0" height="1.0" fill="#333"/>
<rect x="80.0" y="298.0" width="1.0" height="1.0" fill="#777"/>
<rect x="73.6" y="291.0" width="1.0" height="1.0" fill="#777"/>
<rect x="68.2" y="291.1" width="1.0" height="1.0" fill="#777"/>
<rect x="77.7" y="294.5" width="1.0" height="1.0" fill="#999"/>
<rect x="73.4" y="293.0" width="1.0" height="1.0" fill="#555"/>
<rect x="85.8" y="291.1" width="1.0" height="1.0" fill="#333"/>
<rect x="67.7" y="287.6" width="1.0" height="1.0" fill="#999"/>
<rect x="70.3" y="298.4" width="1.0" height="1.0" fill="#333"/>
<rect x="71.8" y="306.8" width="1.0" height="1.0" fill="#777"/>
<rect x="71.8" y="291.0" width="1.0" height="1.0" fill="#777"/>
<rect x="76.2" y="310.6" width="1.0" height="1.0" fill="#777"/>
<rect x="88.1" y="302.1" width="1.0" height="1.0" fill="#333"/>
<rect x="67.1" y="312.0" width="1.0" height="1.0" fill="#333"/>
<rect x="75.6" y="306.4" width="1.0" height="1.0" fill="#999"/>
<rect x="81.8" y="310.6" width="1.0" height="1.0" fill="#333"/>
<rect x="80.5" y="302.2" width="1.0" height="1.0" fill="#555"/>
<rect x="79.3" y="304.2" width="1.0" height="1.0" fill="#333"/>
<rect x="73.4" y="300.3" width="1.0" height="1.0" fill="#333"/>
<rect x="84.3" y="296.5" width="1.0" height="1.0" fill="#333"/>
<rect x="77.0" y="294.3" width="1.0" height="1.0" fill="#555"/>
<rect x="83.9" y="302.4" width="1.0" height="1.0" fill="#999"/>
<rect x="68.4" y="303.5" width="1.0" height="1.0" fill="#555"/>
<rect x="61.9" y="283.8" width="1.0" height="1.0" fill="#333"/>
<rect x="79.8" y="302.0" width="1.0" height="1.0" fill="#333"/>
<rect x="86.6" y="302.1" width="1.0" height="1.0" fill="#555"/>
<rect x="79.4" y="302.6" width="1.0" height="1.0" fill="#555"/>
<rect x="78.5" y="306.8" width="1.0" height="1.0" fill="#555"/>
<rect x="64.9" y="315.5" width="1.0" height="1.0" fill="#999"/>
<rect x="73.5" y="306.3" width="1.0" height="1.0" fill="#999"/>
<rect x="86.7" y="299.9" width="1.0" height="1.0" fill="#555"/>
<rect x="83.5" y="315.3" width="1.0" height="1.0" fill="#777"/>
<rect x="69.8" y="289.3" width="1.0" height="1.0" fill="#999"/>
<rect x="66.9" y="295.3" width="1.0" height="1.0" fill="#333"/>
<rect x="78.2" y="288.8" width="1.0" height="1.0" fill="#333"/>
<rect x="63.7" y="302.6" width="1.0" height="1.0" fill="#777"/>
<rect x="72.3" y="289.9" width="1.0" height="1.0" fill="#555"/>
<rect x="85.7" y="285.7" width="1.0" height="1.0" fill="#555"/>
<rect x="66.6" y="298.0" width="1.0" height="1.0" fill="#555"/>
<rect x="76.3" y="298.2" width="1.0" height="1.0" fill="#333"/>
<rect x="79.9" y="292.8" width="1.0" height="1.0" fill="#555"/>
<rect x="67.0" y="292.0" width="1.0" height="1.0" fill="#999"/>
<rect x="72.8" y="306.9" width="1.0" height="1.0" fill="#555"/>
<rect x="73.9" y="306.2" width="1.0" height="1.0" fill="#777"/>
<rect x="81.0" y="299.3" width="1.0" height="1.0" fill="#333"/>
<rect x="86.4" y="299.5" width="1.0" height="1.0" fill="#777"/>
<rect x="71.3" y="289.9" width="1.0" height="1.0" fill="#777"/>
<rect x="83.5" y="313.9" width="1.0" height="1.0" fill="#999"/>
<rect x="88.8" y="295.6" width="1.0" height="1.0" fill="#333"/>
<rect x="64.3" y="298.2" width="1.0" height="1.0" fill="#333"/>
<rect x="83.0" y="311.4" width="1.0" height="1.0" fill="#999"/>
<rect x="83.7" y="293.8" width="1.0" height="1.0" fill="#999"/>
<rect x="76.3" y="298.2" width="1.0" height="1.0" fill="#555"/>
<rect x="80.7" y="303.6" width="1.0" height="1.0" fill="#333"/>
<rect x="71.0" y="292.7" width="1.0" height="1.0" fill="#777"/>
<rect x="82.7" y="304.3" width="1.0" height="1.0" fill="#777"/>
<rect x="82.7" y="305.5" width="1.0" height="1.0" fill="#777"/>
<rect x="78.6" y="311.3" width="1.0" height="1.0" fill="#777"/>
<rect x="77.4" y="293.5" width="1.0" height="1.0" fill="#999"/>
<rect x="77.7" y="286.3" width="1.0" height="1.0" fill="#777"/>
<rect x="64.0" y="302.0" width="1.0" height="1.0" fill="#999"/>
<rect x="72.4" y="286.5" width="1.0" height="1.0" fill="#333"/>
<rect x="88.3" y="305.2" width="1.0" height="1.0" fill="#777"/>
<rect x="94.8" y="309.7" width="1.0" height="1.0" fill="#555"/>
<rect x="68.9" y="311.3" width="1.0" height="1.0" fill="#555"/>
<rect x="76.0" y="309.0" width="1.0" height="1.0" fill="#999"/>
<rect x="73.8" y="299.1" width="1.0" height="1.0" fill="#333"/>
<rect x="78.4" y="310.4" width="1.0" height="1.0" fill="#333"/>
<rect x="75.7" y="291.2" width="1.0" height="1.0" fill="#555"/>
<rect x="85.5" y="296.9" width="1.0" height="1.0" fill="#333"/>
<rect x="68.9" y="285.2" width="1.0" height="1.0" fill="#777"/>
<rect x="74.5" y="303.1" width="1.0" height="1.0" fill="#555"/>
<rect x="65.2" y="300.0" width="1.0" height="1.0" fill="#777"/>
<rect x="76.4" y="302.0" width="1.0" height="1.0" fill="#555"/>
<rect x="84.0" y="293.5" width="1.0" height="1.0" fill="#333"/>
<rect x="71.0" y="290.6" width="1.0" height="1.0" fill="#999"/>
<rect x="78.1" y="307.7" width="1.0" height="1.0" fill="#999"/>
<rect x="79.9" y="287.4" width="1.0" height="1.0" fill="#999"/>
<rect x="77.3" y="308.5" width="1.0" height="1.0" fill="#555"/>
<rect x="79.9" y="297.1" width="1.0" height="1.0" fill="#333"/>
<rect x="70.3" y="295.3" width="1.0" height="1.0" fill="#555"/>
<rect x="88.5" y="291.3" width="1.0" height="1.0" fill="#999"/>
<rect x="71.4" y="298.6" width="1.0" height="1.0" fill="#777"/>
<rect x="82.7" y="305.6" width="1.0" height="1.0" fill="#777"/>
<rect x="83.6" y="314.9" width="1.0" height="1.0" fill="#777"/>
<rect x="74.2" y="301.5" width="1.0" height="1.0" fill="#555"/>
<rect x="71.2" y="298.4" width="1.0" height="1.0" fill="#777"/>
<rect x="70.4" y="305.2" width="1.0" height="1.0" fill="#777"/>
<rect x="77.2" y="291.8" width="1.0" height="1.0" fill="#999"/>
<rect x="80.3" y="304.4" width="1.0" height="1.0" fill="#777"/>
<rect x="61.9" y="289.2" width="1.0" height="1.0" fill="#777"/>
<rect x="61.6" y="299.4" width="1.0" height="1.0" fill="#555"/>
<rect x="64.0" y="292.8" width="1.0" height="1.0" fill="#555"/>
<rect x="70.8" y="307.1" width="1.0" height="1.0" fill="#777"/>
<rect x="73.8" y="311.5" width="1.0" height="1.0" fill="#333"/>
<rect x="72.6" y="301.3" width="1.0" height="1.0" fill="#333"/>
<rect x="78.6" y="309.0" width="1.0" height="1.0" fill="#333"/>
<rect x="76.6" y="292.8" width="1.0" height="1.0" fill="#333"/>
<rect x="70.5" y="280.5" width="1.0" height="1.0" fill="#555"/>
<rect x="72.0" y="286.4" width="1.0" height="1.0" fill="#333"/>
<rect x="74.7" y="321.6" width="1.0" height="1.0" fill="#333"/>
<rect x="82.0" y="298.3" width="1.0" height="1.0" fill="#333"/>
<rect x="70.5" y="297.5" width="1.0" height="1.0" fill="#555"/>
<rect x="80.9" y="300.0" width="1.0" height="1.0" fill="#555"/>
<rect x="80.3" y="296.2" width="1.0" height="1.0" fill="#555"/>
<rect x="81.2" y="296.8" width="1.0" height="1.0" fill="#777"/>
<rect x="73.6" y="291.2" width="1.0" height="1.0" fill="#333"/>
<rect x="87.7" y="307.0" width="1.0" height="1.0" fill="#999"/>
<rect x="84.8" y="309.0" width="1.0" height="1.0" fill="#777"/>
<rect x="69.7" y="297.3" width="1.0" height="1.0" fill="#333"/>
<rect x="96.4" y="293.8" width="1.0" height="1.0" fill="#999"/>
<rect x="69.7" y="289.5" width="1.0" height="1.0" fill="#555"/>
<rect x="72.2" y="304.3" width="1.0" height="1.0" fill="#555"/>
<rect x="67.7" y="311.9" width="1.0" height="1.0" fill="#777"/>
<rect x="72.8" y="297.2" width="1.0" height="1.0" fill="#555"/>
<rect x="81.6" y="308.8" width="1.0" height="1.0" fill="#333"/>
<rect x="80.6" y="308.0" width="1.0" height="1.0" fill="#333"/>
<rect x="70.3" y="294.9" width="1.0" height="1.0" fill="#333"/>
<rect x="75.8" y="292.8" width="1.0" height="1.0" fill="#555"/>
<rect x="77.4" y="313.3" width="1.0" height="1.0" fill="#555"/>
<rect x="81.3" y="294.8" width="1.0" height="1.0" fill="#333"/>
<rect x="80.9" y="289.9" width="1.0" height="1.0" fill="#999"/>
<rect x="70.8" y="310.6" width="1.0" height="1.0" fill="#555"/>
<rect x="96.6" y="297.6" width="1.0" height="1.0" fill="#333"/>
<rect x="69.2" y="301.0" width="1.0" height="1.0" fill="#333"/>
<rect x="73.2" y="295.3" width="1.0" height="1.0" fill="#333"/>
<rect x="75.8" y="313.5" width="1.0" height="1.0" fill="#333"/>
<rect x="75.1" y="301.7" width="1.0" height="1.0" fill="#777"/>
<rect x="86.6" y="306.9" width="1.0" height="1.0" fill="#999"/>
<rect x="76.6" y="303.9" width="1.0" height="1.0" fill="#777"/>
<rect x="62.8" y="305.3" width="1.0" height="1.0" fill="#333"/>
<rect x="74.6" y="290.1" width="1.0" height="1.0" fill="#555"/>
<rect x="70.0" y="293.0" width="1.0" height="1.0" fill="#555"/>
<rect x="81.3" y="286.1" width="1.0" height="1.0" fill="#777"/>
<rect x="70.6" y="297.9" width="1.0" height="1.0" fill="#333"/>
<rect x="65.8" y="295.8" width="1.0" height="1.0" fill="#555"/>
<rect x="72.6" y="298.1" width="1.0" height="1.0" fill="#555"/>
<rect x="67.8" y="302.9" width="1.0" height="1.0" fill="#333"/>
<rect x="77.0" y="308.5" width="1.0" height="1.0" fill="#555"/>
<rect x="74.9" y="295.5" width="1.0" height="1.0" fill="#999"/>
<rect x="84.9" y="306.9" width="1.0" height="1.0" fill="#777"/>
<rect x="73.9" y="304.4" width="1.0" height="1.0" fill="#777"/>
<rect x="77.6" y="307.6" width="1.0" height="1.0" fill="#999"/>
<rect x="79.0" y="300.8" width="1.0" height="1.0" fill="#333"/>
<rect x="57.4" y="289.6" width="1.0" height="1.0" fill="#333"/>
<rect x="69.2" y="306.7" width="1.0" height="1.0" fill="#777"/>
<rect x="79.8" y="311.3" width="1.0" height="1.0" fill="#999"/>
<rect x="70.0" y="294.6" width="1.0" height="1.0" fill="#333"/>
<rect x="87.4" y="294.2" width="1.0" height="1.0" fill="#999"/>
<rect x="78.2" y="301.5" width="1.0" height="1.0" fill="#999"/>
<rect x="83.4" y="309.1" width="1.0" height="1.0" fill="#555"/>
<rect x="60.8" y="286.0" width="1.0" height="1.0" fill="#333"/>
<rect x="79.3" y="284.9" width="1.0" height="1.0" fill="#333"/>
<rect x="80.8" y="304.4" width="1.0" height="1.0" fill="#333"/>
<rect x="79.4" y="319.6" width="1.0" height="1.0" fill="#777"/>
<rect x="70.7" y="308.9" width="1.0" height="1.0" fill="#777"/>
<rect x="66.4" y="306.4" width="1.0" height="1.0" fill="#555"/>
<rect x="83.4" y="298.7" width="1.0" height="1.0" fill="#333"/>
<rect x="82.0" y="307.5" width="1.0" height="1.0" fill="#999"/>
<rect x="82.6" y="290.8" width="1.0" height="1.0" fill="#555"/>
<rect x="73.8" y="293.1" width="1.0" height="1.0" fill="#333"/>
<rect x="81.3" y="305.1" width="1.0" height="1.0" fill="#555"/>
<rect x="78.4" y="299.3" width="1.0" height="1.0" fill="#777"/>
<rect x="81.3" y="303.3" width="1.0" height="1.0" fill="#777"/>
<rect x="82.7" y="288.3" width="1.0" height="1.0" fill="#999"/>
<rect x="85.7" y="297.9" width="1.0" height="1.0" fill="#555"/>
<rect x="74.9" y="304.1" width="1.0" height="1.0" fill="#777"/>
<rect x="80.8" y="305.2" width="1.0" height="1.0" fill="#555"/>
<rect x="69.5" y="289.6" width="1.0" height="1.0" fill="#555"/>
<rect x="69.7" y="297.9" width="1.0" height="1.0" fill="#555"/>
<rect x="81.7" y="301.6" width="1.0" height="1.0" fill="#333"/>
<rect x="77.8" y="286.1" width="1.0" height="1.0" fill="#777"/>
<rect x="71.6" y="297.7" width="1.0" height="1.0" fill="#999"/>
<rect x="71.3" y="296.4" width="1.0" height="1.0" fill="#333"/>
<rect x="79.6" y="290.6" width="1.0" height="1.0" fill="#555"/>
<rect x="74.8" y="282.1" width="1.0" height="1.0" fill="#777"/>
<rect x="73.8" y="299.7" width="1.0" height="1.0" fill="#777"/>
<rect x="76.0" y="293.2" width="1.0" height="1.0" fill="#555"/>
<rect x="83.4" y="299.0" width="1.0" height="1.0" fill="#777"/>
<rect x="69.9" y="288.4" width="1.0" height="1.0" fill="#777"/>
<rect x="70.8" y="295.9" width="1.0" height="1.0" fill="#999"/>
<rect x="92.8" y="305.5" width="1.0" height="1.0" fill="#777"/>
<rect x="78.1" y="293.5" width="1.0" height="1.0" fill="#777"/>
<rect x="66.3" y="300.0" width="1.0" height="1.0" fill="#555"/>
<rect x="70.3" y="298.8" width="1.0" height="1.0" fill="#777"/>
<rect x="78.0" y="297.7" width="1.0" height="1.0" fill="#555"/>
<rect x="86.5" y="290.3" width="1.0" height="1.0" fill="#999"/>
<rect x="75.6" y="303.7" width="1.0" height="1.0" fill="#555"/>
<rect x="80.6" y="298.7" width="1.0" height="1.0" fill="#555"/>
<rect x="75.1" y="301.2" width="1.0" height="1.0" fill="#555"/>
<rect x="70.3" y="312.6" width="1.0" height="1.0" fill="#333"/>
<rect x="72.7" y="300.9" width="1.0" height="1.0" fill="#777"/>
<rect x="73.3" y="298.3" width="1.0" height="1.0" fill="#777"/>
<rect x="70.4" y="301.4" width="1.0" height="1.0" fill="#777"/>
<rect x="83.0" y="299.1" width="1.0" height="1.0" fill="#555"/>
<rect x="75.8" y="299.8" width="1.0" height="1.0" fill="#777"/>
<rect x="80.8" y="304.5" width="1.0" height="1.0" fill="#555"/>
<rect x="72.6" y="287.8" width="1.0" height="1.0" fill="#555"/>
<rect x="78.8" y="310.0" width="1.0" height="1.0" fill="#555"/>
<rect x="75.3" y="304.3" width="1.0" height="1.0" fill="#555"/>
<rect x="77.4" y="310.3" width="1.0" height="1.0" fill="#777"/>
<rect x="82.6" y="307.4" width="1.0" height="1.0" fill="#333"/>
<rect x="73.2" y="298.3" width="1.0" height="1.0" fill="#555"/>
<rect x="57.4" y="306.3" width="1.0" height="1.0" fill="#777"/>
<rect x="81.2" y="300.2" width="1.0" height="1.0" fill="#777"/>
<rect x="81.3" y="299.1" width="1.0" height="1.0" fill="#999"/>
<rect x="76.8" y="310.3" width="1.0" height="1.0" fill="#999"/>
<rect x="71.2" y="290.7" width="1.0" height="1.0" fill="#777"/>
<rect x="75.1" y="313.4" width="1.0" height="1.0" fill="#999"/>
<rect x="75.4" y="299.1" width="1.0" height="1.0" fill="#999"/>
<rect x="68.0" y="300.6" width="1.0" height="1.0" fill="#555"/>
<rect x="78.7" y="283.3" width="1.0" height="1.0" fill="#999"/>
<rect x="85.2" y="318.0" width="1.0" height="1.0" fill="#777"/>
<rect x="77.1" y="285.1" width="1.0" height="1.0" fill="#333"/>
<rect x="71.6" y="314.3" width="1.0" height="1.0" fill="#333"/>
<rect x="89.4" y="308.2" width="1.0" height="1.0" fill="#555"/>
<rect x="71.8" y="305.0" width="1.0" height="1.0" fill="#999"/>
<rect x="74.0" y="311.4" width="1.0" height="1.0" fill="#777"/>
<rect x="80.4" y="298.9" width="1.0" height="1.0" fill="#999"/>
<rect x="80.6" y="304.1" width="1.0" height="1.0" fill="#555"/>
<rect x="77.7" y="307.4" width="1.0" height="1.0" fill="#777"/>
<rect x="69.8" y="291.7" width="1.0" height="1.0" fill="#777"/>
<rect x="75.9" y="302.4" width="1.0" height="1.0" fill="#777"/>
<rect x="79.9" y="292.7" width="1.0" height="1.0" fill="#777"/>
<rect x="82.8" y="309.5" width="1.0" height="1.0" fill="#333"/>
<rect x="72.9" y="306.0" width="1.0" height="1.0" fill="#777"/>
<rect x="76.6" y="299.7" width="1.0" height="1.0" fill="#555"/>
<rect x="72.9" y="290.6" width="1.0" height="1.0" fill="#999"/>
<rect x="76.3" y="304.2" width="1.0" height="1.0" fill="#999"/>
<rect x="83.9" y="316.2" width="1.0" height="1.0" fill="#333"/>
<rect x="81.0" y="300.7" width="1.0" height="1.0" fill="#777"/>
<rect x="72.5" y="286.9" width="1.0" height="1.0" fill="#999"/>
<rect x="65.3" y="293.2" width="1.0" height="1.0" fill="#555"/>
<rect x="80.2" y="301.6" width="1.0" height="1.0" fill="#555"/>
<rect x="76.0" y="311.1" width="1.0" height="1.0" fill="#555"/>
<rect x="73.2" y="284.7" width="1.0" height="1.0" fill="#777"/>
<rect x="74.5" y="308.9" width="1.0" height="1.0" fill="#999"/>
<rect x="76.2" y="294.9" width="1.0" height="1.0" fill="#777"/>
<rect x="73.0" y="310.4" width="1.0" height="1.0" fill="#555"/>
<rect x="71.4" y="286.0" width="1.0" height="1.0" fill="#777"/>
<rect x="66.6" y="291.9" width="1.0" height="1.0" fill="#777"/>
<rect x="68.3" y="298.4" width="1.0" height="1.0" fill="#555"/>
<rect x="80.6" y="288.5" width="1.0" height="1.0" fill="#333"/>
<rect x="84.5" y="305.8" width="1.0" height="1.0" fill="#555"/>
<rect x="75.1" y="315.1" width="1.0" height="1.0" fill="#555"/>
<rect x="89.7" y="289.2" width="1.0" height="1.0" fill="#333"/>
<rect x="90.1" y="302.5" width="1.0" height="1.0" fill="#999"/>
<rect x="86.9" y="308.6" width="1.0" height="1.0" fill="#999"/>
<rect x="63.8" y="293.9" width="1.0" height="1.0" fill="#555"/>
<rect x="72.9" y="309.6" width="1.0" height="1.0" fill="#333"/>
<rect x="80.7" y="305.6" width="1.0" height="1.0" fill="#333"/>
<rect x="86.8" y="302.2" width="1.0" height="1.0" fill="#333"/>
<rect x="79.4" y="305.3" width="1.0" height="1.0" fill="#777"/>
<rect x="73.2" y="311.6" width="1.0" height="1.0" fill="#333"/>
<rect x="90.0" y="282.1" width="1.0" height="1.0" fill="#999"/>
<rect x="62.7" y="283.7" width="1.0" height="1.0" fill="#333"/>
<rect x="80.4" y="286.8" width="1.0" height="1.0" fill="#555"/>
<rect x="70.9" y="317.5" width="1.0" height="1.0" fill="#999"/>
<rect x="66.7" y="286.8" width="1.0" height="1.0" fill="#555"/>
<rect x="70.5" y="305.4" width="1.0" height="1.0" fill="#999"/>
<rect x="78.1" y="290.1" width="1.0" height="1.0" fill="#555"/>
<rect x="80.8" y="297.3" width="1.0" height="1.0" fill="#777"/>
<rect x="76.1" y="283.0" width="1.0" height="1.0" fill="#555"/>
<rect x="80.2" y="304.9" width="1.0" height="1.0" fill="#333"/>
<rect x="77.2" y="304.9" width="1.0" height="1.0" fill="#777"/>
<rect x="70.7" y="300.1" width="1.0" height="1.0" fill="#999"/>
<rect x="87.2" y="302.8" width="1.0" height="1.0" fill="#777"/>
<rect x="73.4" y="301.5" width="1.0" height="1.0" fill="#999"/>
<rect x="75.4" y="286.5" width="1.0" height="1.0" fill="#999"/>
<rect x="82.6" y="311.8" width="1.0" height="1.0" fill="#999"/>
<rect x="82.9" y="295.2" width="1.0" height="1.0" fill="#555"/>
<rect x="77.5" y="293.7" width="1.0" height="1.0" fill="#555"/>
<rect x="69.3" y="310.4" width="1.0" height="1.0" fill="#333"/>
<rect x="76.0" y="306.7" width="1.0" height="1.0" fill="#333"/>
<rect x="70.2" y="299.1" width="1.0" height="1.0" fill="#555"/>
<rect x="71.8" y="312.4" width="1.0" height="1.0" fill="#777"/>
<rect x="76.2" y="314.9" width="1.0" height="1.0" fill="#555"/>
<rect x="75.3" y="293.9" width="1.0" height="1.0" fill="#333"/>
<rect x="78.7" y="286.9" width="1.0" height="1.0" fill="#999"/>
<rect x="67.5" y="302.7" width="1.0" height="1.0" fill="#999"/>
<rect x="77.6" y="302.8" width="1.0" height="1.0" fill="#999"/>
<rect x="83.0" y="315.8" width="1.0" height="1.0" fill="#777"/>
<rect x="78.8" y="316.0" width="1.0" height="1.0" fill="#999"/>
<rect x="76.0" y="302.8" width="1.0" height="1.0" fill="#555"/>
<rect x="81.1" y="309.1" width="1.0" height="1.0" fill="#555"/>
<rect x="69.4" y="301.8" width="1.0" height="1.0" fill="#333"/>
<rect x="91.4" y="303.0" width="1.0" height="1.0" fill="#555"/>
<rect x="63.7" y="303.4" width="1.0" height="1.0" fill="#333"/>
<rect x="72.1" y="297.0" width="1.0" height="1.0" fill="#777"/>
<rect x="70.5" y="289.9" width="1.0" height="1.0" fill="#555"/>
<rect x="72.8" y="292.0" width="1.0" height="1.0" fill="#999"/>
<rect x="82.9" y="277.5" width="1.0" height="1.0" fill="#555"/>
<rect x="75.1" y="294.3" width="1.0" height="1.0" fill="#333"/>
<rect x="84.4" y="304.1" width="1.0" height="1.0" fill="#333"/>
<rect x="77.9" y="304.6" width="1.0" height="1.0" fill="#777"/>
<rect x="76.5" y="302.6" width="1.0" height="1.0" fill="#999"/>
<rect x="76.6" y="299.2" width="1.0" height="1.0" fill="#999"/>
<rect x="77.3" y="305.3" width="1.0" height="1.0" fill="#999"/>
<rect x="80.0" y="303.4" width="1.0" height="1.0" fill="#333"/>
<rect x="84.6" y="309.3" width="1.0" height="1.0" fill="#999"/>
<rect x="72.8" y="284.6" width="1.0" height="1.0" fill="#555"/>
<rect x="77.0" y="301.3" width="1.0" height="1.0" fill="#999"/>
<rect x="63.7" y="307.6" width="1.0" height="1.0" fill="#999"/>
<rect x="77.6" y="307.8" width="1.0" height="1.0" fill="#999"/>
<rect x="72.7" y="288.5" width="1.0" height="1.0" fill="#999"/>
<rect x="74.6" y="314.4" width="1.0" height="1.0" fill="#999"/>
<rect x="77.0" y="301.7" width="1.0" height="1.0" fill="#555"/>
<rect x="68.2" y="300.6" width="1.0" height="1.0" fill="#555"/>
<rect x="84.2" y="299.7" width="1.0" height="1.0" fill="#333"/>
<rect x="82.0" y="303.6" width="1.0" height="1.0" fill="#999"/>
<rect x="77.6" y="298.9" width="1.0" height="1.0" fill="#999"/>
<rect x="68.1" y="285.9" width="1.0" height="1.0" fill="#999"/>
<rect x="82.0" y="284.0" width="1.0" height="1.0" fill="#999"/>
<rect x="74.1" y="285.4" width="1.0" height="1.0" fill="#555"/>
<rect x="80.6" y="306.1" width="1.0" height="1.0" fill="#333"/>
<rect x="75.8" y="297.4" width="1.0" height="1.0" fill="#999"/>
<rect x="75.0" y="288.7" width="1.0" height="1.0" fill="#555"/>
<rect x="74.7" y="302.6" width="1.0" height="1.0" fill="#333"/>
<rect x="73.9" y="313.2" width="1.0" height="1.0" fill="#777"/>
<rect x="79.3" y="287.0" width="1.0" height="1.0" fill="#555"/>
<rect x="84.4" y="309.1" width="1.0" height="1.0" fill="#333"/>
<rect x="82.0" y="299.5" width="1.0" height="1.0" fill="#777"/>
<rect x="74.8" y="289.2" width="1.0" height="1.0" fill="#666"/>
<rect x="71.8" y="297.3" width="1.0" height="1.0" fill="#222"/>
<rect x="80.2" y="303.4" width="1.0" height="1.0" fill="#444"/>
<rect x="80.8" y="297.3" width="1.0" height="1.0" fill="#444"/>
<rect x="80.4" y="295.7" width="1.0" height="1.0" fill="#222"/>
<rect x="73.7" y="306.0" width="1.0" height="1.0" fill="#444"/>
<rect x="70.6" y="303.9" width="1.0" height="1.0" fill="#444"/>
<rect x="79.5" y="291.0" width="1.0" height="1.0" fill="#666"/>
<rect x="67.8" y="300.9" width="1.0" height="1.0" fill="#222"/>
<rect x="79.1" y="303.6" width="1.0" height="1.0" fill="#666"/>
<rect x="76.1" y="301.6" width="1.0" height="1.0" fill="#666"/>
<rect x="77.7" y="301.4" width="1.0" height="1.0" fill="#444"/>
<rect x="79.2" y="295.5" width="1.0" height="1.0" fill="#666"/>
<rect x="78.3" y="298.5" width="1.0" height="1.0" fill="#666"/>
<rect x="67.1" y="301.6" width="1.0" height="1.0" fill="#444"/>
<rect x="80.6" y="294.9" width="1.0" height="1.0" fill="#222"/>
<rect x="83.0" y="305.9" width="1.0" height="1.0" fill="#444"/>
<rect x="74.2" y="307.4" width="1.0" height="1.0" fill="#222"/>
<rect x="78.1" y="292.5" width="1.0" height="1.0" fill="#444"/>
<rect x="77.4" y="298.9" width="1.0" height="1.0" fill="#666"/>
<rect x="76.8" y="300.7" width="1.0" height="1.0" fill="#222"/>
<rect x="70.7" y="294.3" width="1.0" height="1.0" fill="#222"/>
<rect x="81.9" y="307.9" width="1.0" height="1.0" fill="#444"/>
<rect x="70.9" y="300.3" width="1.0" height="1.0" fill="#444"/>
<rect x="77.2" y="296.4" width="1.0" height="1.0" fill="#666"/>
<rect x="82.1" y="297.6" width="1.0" height="1.0" fill="#666"/>
<rect x="71.4" y="302.0" width="1.0" height="1.0" fill="#222"/>
<rect x="77.8" y="299.6" width="1.0" height="1.0" fill="#666"/>
<rect x="78.4" y="310.3" width="1.0" height="1.0" fill="#444"/>
<rect x="74.9" y="293.0" width="1.0" height="1.0" fill="#666"/>
<rect x="73.1" y="299.5" width="1.0" height="1.0" fill="#666"/>
<rect x="73.9" y="304.9" width="1.0" height="1.0" fill="#666"/>
<rect x="75.3" y="295.7" width="1.0" height="1.0" fill="#666"/>
<rect x="73.3" y="297.7" width="1.0" height="1.0" fill="#222"/>
<rect x="73.0" y="308.7" width="1.0" height="1.0" fill="#444"/>
<rect x="75.7" y="291.7" width="1.0" height="1.0" fill="#444"/>
<rect x="81.1" y="294.7" width="1.0" height="1.0" fill="#666"/>
<rect x="85.9" y="297.7" width="1.0" height="1.0" fill="#444"/>
<rect x="79.8" y="296.7" width="1.0" height="1.0" fill="#666"/>
<rect x="77.3" y="294.8" width="1.0" height="1.0" fill="#666"/>
<rect x="71.6" y="287.9" width="1.0" height="1.0" fill="#666"/>
<rect x="80.0" y="299.0" width="1.0" height="1.0" fill="#666"/>
<rect x="78.1" y="302.7" width="1.0" height="1.0" fill="#666"/>
<rect x="80.6" y="295.8" width="1.0" height="1.0" fill="#222"/>
<rect x="76.0" y="295.1" width="1.0" height="1.0" fill="#666"/>
<rect x="77.4" y="294.2" width="1.0" height="1.0" fill="#666"/>
<rect x="72.4" y="289.5" width="1.0" height="1.0" fill="#222"/>
<rect x="85.5" y="289.4" width="1.0" height="1.0" fill="#444"/>
<rect x="72.8" y="301.8" width="1.0" height="1.0" fill="#444"/>
<rect x="73.6" y="290.4" width="1.0" height="1.0" fill="#666"/>
<rect x="75.0" y="307.0" width="1.0" height="1.0" fill="#444"/>
<rect x="73.6" y="297.2" width="1.0" height="1.0" fill="#222"/>
<rect x="84.1" y="296.6" width="1.0" height="1.0" fill="#666"/>
<rect x="68.1" y="299.4" width="1.0" height="1.0" fill="#222"/>
<rect x="75.8" y="295.5" width="1.0" height="1.0" fill="#666"/>
<rect x="84.4" y="294.5" width="1.0" height="1.0" fill="#444"/>
<rect x="80.4" y="294.1" width="1.0" height="1.0" fill="#444"/>
<rect x="74.8" y="303.5" width="1.0" height="1.0" fill="#222"/>
<rect x="80.3" y="290.6" width="1.0" height="1.0" fill="#222"/>
<rect x="84.6" y="306.4" width="1.0" height="1.0" fill="#666"/>
<rect x="77.5" y="303.8" width="1.0" height="1.0" fill="#222"/>
<rect x="74.0" y="297.1" width="1.0" height="1.0" fill="#666"/>
<rect x="77.9" y="310.6" width="1.0" height="1.0" fill="#444"/>
<rect x="80.1" y="297.5" width="1.0" height="1.0" fill="#222"/>
<rect x="76.0" y="304.4" width="1.0" height="1.0" fill="#222"/>
<rect x="79.5" y="297.0" width="1.0" height="1.0" fill="#444"/>
<rect x="85.4" y="300.3" width="1.0" height="1.0" fill="#444"/>
<rect x="77.0" y="295.3" width="1.0" height="1.0" fill="#222"/>
<rect x="73.8" y="300.3" width="1.0" height="1.0" fill="#666"/>
<rect x="82.2" y="304.8" width="1.0" height="1.0" fill="#666"/>
<rect x="75.5" y="295.4" width="1.0" height="1.0" fill="#444"/>
<rect x="73.8" y="314.3" width="1.0" height="1.0" fill="#444"/>
<rect x="75.5" y="297.1" width="1.0" height="1.0" fill="#222"/>
<rect x="77.1" y="289.5" width="1.0" height="1.0" fill="#666"/>
<rect x="74.5" y="286.3" width="1.0" height="1.0" fill="#666"/>
<rect x="74.0" y="298.0" width="1.0" height="1.0" fill="#444"/>
<rect x="79.7" y="305.1" width="1.0" height="1.0" fill="#444"/>
<rect x="75.0" y="300.9" width="1.0" height="1.0" fill="#222"/>
<rect x="75.0" y="289.6" width="1.0" height="1.0" fill="#666"/>
<rect x="72.3" y="291.1" width="1.0" height="1.0" fill="#222"/>
<rect x="78.7" y="290.6" width="1.0" height="1.0" fill="#444"/>
<rect x="81.6" y="301.0" width="1.0" height="1.0" fill="#666"/>
<rect x="79.7" y="302.0" width="1.0" height="1.0" fill="#666"/>
<rect x="76.1" y="282.5" width="1.0" height="1.0" fill="#444"/>
<rect x="71.0" y="284.2" width="1.0" height="1.0" fill="#666"/>
<rect x="71.8" y="299.7" width="1.0" height="1.0" fill="#666"/>
<rect x="75.6" y="300.7" width="1.0" height="1.0" fill="#666"/>
<rect x="77.5" y="301.0" width="1.0" height="1.0" fill="#666"/>
<rect x="72.7" y="285.0" width="1.0" height="1.0" fill="#222"/>
<rect x="77.3" y="302.4" width="1.0" height="1.0" fill="#666"/>
<rect x="70.9" y="310.8" width="1.0" height="1.0" fill="#666"/>
<rect x="69.0" y="300.8" width="1.0" height="1.0" fill="#666"/>
<rect x="80.8" y="288.5" width="1.0" height="1.0" fill="#222"/>
<rect x="77.3" y="300.4" width="1.0" height="1.0" fill="#444"/>
<rect x="85.7" y="301.9" width="1.0" height="1.0" fill="#666"/>
<rect x="67.0" y="305.1" width="1.0" height="1.0" fill="#444"/>
<rect x="76.8" y="301.5" width="1.0" height="1.0" fill="#222"/>
<rect x="73.7" y="295.1" width="1.0" height="1.0" fill="#444"/>
<rect x="73.3" y="292.6" width="1.0" height="1.0" fill="#222"/>
<rect x="73.2" y="291.4" width="1.0" height="1.0" fill="#444"/>
<rect x="84.2" y="301.8" width="1.0" height="1.0" fill="#444"/>
<rect x="77.7" y="303.8" width="1.0" height="1.0" fill="#222"/>
<rect x="85.0" y="301.3" width="1.0" height="1.0" fill="#444"/>
<rect x="79.8" y="292.7" width="1.0" height="1.0" fill="#444"/>
<rect x="84.9" y="296.6" width="1.0" height="1.0" fill="#666"/>
<rect x="73.7" y="301.5" width="1.0" height="1.0" fill="#444"/>
<rect x="73.3" y="292.8" width="1.0" height="1.0" fill="#222"/>
<rect x="71.0" y="297.2" width="1.0" height="1.0" fill="#222"/>
<rect x="71.9" y="297.7" width="1.0" height="1.0" fill="#222"/>
<rect x="71.7" y="297.4" width="1.0" height="1.0" fill="#666"/>
<rect x="74.7" y="295.9" width="1.0" height="1.0" fill="#666"/>
<rect x="69.0" y="299.0" width="1.0" height="1.0" fill="#444"/>
<rect x="85.4" y="303.0" width="1.0" height="1.0" fill="#666"/>
<rect x="71.0" y="291.7" width="1.0" height="1.0" fill="#222"/>
<rect x="80.9" y="286.4" width="1.0" height="1.0" fill="#222"/>
<rect x="73.5" y="303.4" width="1.0" height="1.0" fill="#222"/>
<rect x="74.3" y="308.2" width="1.0" height="1.0" fill="#666"/>
<rect x="80.1" y="300.3" width="1.0" height="1.0" fill="#222"/>
<rect x="81.7" y="295.1" width="1.0" height="1.0" fill="#666"/>
<rect x="78.5" y="289.2" width="1.0" height="1.0" fill="#444"/>
<rect x="71.0" y="299.2" width="1.0" height="1.0" fill="#666"/>
<rect x="74.3" y="295.9" width="1.0" height="1.0" fill="#666"/>
<rect x="70.2" y="298.4" width="1.0" height="1.0" fill="#666"/>
<rect x="80.1" y="300.0" width="1.0" height="1.0" fill="#666"/>
<rect x="80.4" y="299.1" width="1.0" height="1.0" fill="#666"/>
<rect x="83.9" y="303.3" width="1.0" height="1.0" fill="#222"/>
<rect x="78.8" y="296.3" width="1.0" height="1.0" fill="#444"/>
<rect x="76.8" y="304.4" width="1.0" height="1.0" fill="#222"/>
<rect x="76.3" y="287.7" width="1.0" height="1.0" fill="#666"/>
<rect x="77.3" y="289.2" width="1.0" height="1.0" fill="#222"/>
<rect x="117.0" y="251.0" width="1.0" height="1.0" fill="#444"/>
<rect x="97.3" y="272.9" width="1.0" height="1.0" fill="#aaa"/>
<rect x="103.6" y="256.9" width="1.0" height="1.0" fill="#aaa"/>
<rect x="104.0" y="271.0" width="1.0" height="1.0" fill="#888"/>
<rect x="99.1" y="258.8" width="1.0" height="1.0" fill="#888"/>
<rect x="98.1" y="256.4" width="1.0" height="1.0" fill="#444"/>
<rect x="108.9" y="275.5" width="1.0" height="1.0" fill="#aaa"/>
<rect x="106.3" y="244.3" width="1.0" height="1.0" fill="#444"/>
<rect x="94.9" y="264.1" width="1.0" height="1.0" fill="#aaa"/>
<rect x="103.8" y="265.6" width="1.0" height="1.0" fill="#444"/>
<rect x="91.6" y="258.3" width="1.0" height="1.0" fill="#aaa"/>
<rect x="90.3" y="260.9" width="1.0" height="1.0" fill="#444"/>
<rect x="102.9" y="283.9" width="1.0" height="1.0" fill="#888"/>
<rect x="97.1" y="260.5" width="1.0" height="1.0" fill="#888"/>
<rect x="113.7" y="267.5" width="1.0" height="1.0" fill="#aaa"/>
<rect x="81.9" y="247.6" width="1.0" height="1.0" fill="#888"/>
<rect x="103.3" y="258.1" width="1.0" height="1.0" fill="#666"/>
<rect x="89.9" y="276.4" width="1.0" height="1.0" fill="#666"/>
<rect x="106.0" y="247.0" width="1.0" height="1.0" fill="#888"/>
<rect x="102.6" y="245.2" width="1.0" height="1.0" fill="#666"/>
<rect x="112.7" y="273.2" width="1.0" height="1.0" fill="#666"/>
<rect x="97.9" y="276.5" width="1.0" height="1.0" fill="#444"/>
<rect x="100.1" y="268.2" width="1.0" height="1.0" fill="#444"/>
<rect x="95.1" y="264.9" width="1.0" height="1.0" fill="#888"/>
<rect x="112.8" y="249.3" width="1.0" height="1.0" fill="#666"/>
<rect x="92.0" y="262.6" width="1.0" height="1.0" fill="#aaa"/>
<rect x="102.2" y="254.7" width="1.0" height="1.0" fill="#444"/>
<rect x="98.3" y="259.3" width="1.0" height="1.0" fill="#aaa"/>
<rect x="104.8" y="262.6" width="1.0" height="1.0" fill="#444"/>
<rect x="105.6" y="250.5" width="1.0" height="1.0" fill="#aaa"/>
<rect x="106.0" y="265.6" width="1.0" height="1.0" fill="#666"/>
<rect x="98.1" y="278.8" width="1.0" height="1.0" fill="#888"/>
<rect x="100.2" y="246.5" width="1.0" height="1.0" fill="#666"/>
<rect x="100.2" y="256.6" width="1.0" height="1.0" fill="#aaa"/>
<rect x="93.0" y="278.0" width="1.0" height="1.0" fill="#666"/>
<rect x="85.0" y="266.7" width="1.0" height="1.0" fill="#666"/>
<rect x="108.2" y="246.3" width="1.0" height="1.0" fill="#aaa"/>
<rect x="91.5" y="275.2" width="1.0" height="1.0" fill="#444"/>
<rect x="109.2" y="253.4" width="1.0" height="1.0" fill="#aaa"/>
<rect x="103.0" y="252.6" width="1.0" height="1.0" fill="#888"/>
<rect x="90.1" y="266.1" width="1.0" height="1.0" fill="#666"/>
<rect x="89.2" y="260.9" width="1.0" height="1.0" fill="#444"/>
<rect x="85.3" y="263.4" width="1.0" height="1.0" fill="#888"/>
<rect x="92.6" y="264.7" width="1.0" height="1.0" fill="#444"/>
<rect x="112.6" y="249.8" width="1.0" height="1.0" fill="#888"/>
<rect x="91.7" y="264.0" width="1.0" height="1.0" fill="#888"/>
<rect x="84.3" y="266.4" width="1.0" height="1.0" fill="#aaa"/>
<rect x="84.3" y="252.6" width="1.0" height="1.0" fill="#666"/>
<rect x="112.1" y="249.9" width="1.0" height="1.0" fill="#444"/>
<rect x="65.5" y="282.9" width="1.0" height="1.0" fill="#444"/>
<rect x="94.7" y="273.6" width="1.0" height="1.0" fill="#aaa"/>
<rect x="81.1" y="277.3" width="1.0" height="1.0" fill="#666"/>
<rect x="94.8" y="261.4" width="1.0" height="1.0" fill="#aaa"/>
<rect x="94.5" y="243.9" width="1.0" height="1.0" fill="#444"/>
<rect x="125.1" y="270.6" width="1.0" height="1.0" fill="#666"/>
<rect x="94.0" y="267.3" width="1.0" height="1.0" fill="#888"/>
<rect x="74.6" y="253.6" width="1.0" height="1.0" fill="#aaa"/>
<rect x="89.3" y="253.8" width="1.0" height="1.0" fill="#444"/>
<rect x="98.6" y="268.9" width="1.0" height="1.0" fill="#444"/>
<rect x="85.7" y="256.2" width="1.0" height="1.0" fill="#aaa"/>
<rect x="88.7" y="249.6" width="1.0" height="1.0" fill="#666"/>
<rect x="98.1" y="274.9" width="1.0" height="1.0" fill="#aaa"/>
<rect x="91.3" y="270.4" width="1.0" height="1.0" fill="#aaa"/>
<rect x="96.6" y="257.1" width="1.0" height="1.0" fill="#aaa"/>
<rect x="89.5" y="258.5" width="1.0" height="1.0" fill="#444"/>
<rect x="98.6" y="256.3" width="1.0" height="1.0" fill="#888"/>
<rect x="102.1" y="236.9" width="1.0" height="1.0" fill="#666"/>
<rect x="86.9" y="261.9" width="1.0" height="1.0" fill="#aaa"/>
<rect x="93.5" y="260.0" width="1.0" height="1.0" fill="#444"/>
<rect x="100.8" y="265.8" width="1.0" height="1.0" fill="#444"/>
<rect x="77.3" y="280.1" width="1.0" height="1.0" fill="#888"/>
<rect x="92.7" y="265.3" width="1.0" height="1.0" fill="#888"/>
<rect x="92.2" y="254.6" width="1.0" height="1.0" fill="#444"/>
<rect x="106.4" y="262.8" width="1.0" height="1.0" fill="#aaa"/>
<rect x="90.2" y="255.1" width="1.0" height="1.0" fill="#aaa"/>
<rect x="106.4" y="257.5" width="1.0" height="1.0" fill="#aaa"/>
<rect x="106.2" y="276.3" width="1.0" height="1.0" fill="#aaa"/>
<rect x="121.3" y="247.8" width="1.0" height="1.0" fill="#666"/>
<rect x="82.6" y="253.7" width="1.0" height="1.0" fill="#aaa"/>
<rect x="97.3" y="256.0" width="1.0" height="1.0" fill="#888"/>
<rect x="114.7" y="254.1" width="1.0" height="1.0" fill="#666"/>
<rect x="93.5" y="256.9" width="1.0" height="1.0" fill="#888"/>
<rect x="84.6" y="272.3" width="1.0" height="1.0" fill="#888"/>
<rect x="110.0" y="258.6" width="1.0" height="1.0" fill="#aaa"/>
<rect x="100.9" y="242.5" width="1.0" height="1.0" fill="#888"/>
<rect x="81.4" y="262.9" width="1.0" height="1.0" fill="#666"/>
<rect x="91.2" y="277.5" width="1.0" height="1.0" fill="#888"/>
<rect x="84.3" y="257.7" width="1.0" height="1.0" fill="#888"/>
<rect x="71.5" y="286.5" width="1.0" height="1.0" fill="#444"/>
<rect x="79.2" y="255.1" width="1.0" height="1.0" fill="#aaa"/>
<rect x="85.2" y="250.8" width="1.0" height="1.0" fill="#aaa"/>
<rect x="102.5" y="277.2" width="1.0" height="1.0" fill="#666"/>
<rect x="93.7" y="260.8" width="1.0" height="1.0" fill="#666"/>
<rect x="87.4" y="278.3" width="1.0" height="1.0" fill="#888"/>
<rect x="92.2" y="276.8" width="1.0" height="1.0" fill="#666"/>
<rect x="88.5" y="252.7" width="1.0" height="1.0" fill="#666"/>
<rect x="93.9" y="272.8" width="1.0" height="1.0" fill="#666"/>
<rect x="95.9" y="253.1" width="1.0" height="1.0" fill="#888"/>
<rect x="94.9" y="261.7" width="1.0" height="1.0" fill="#888"/>
<rect x="85.7" y="276.3" width="1.0" height="1.0" fill="#666"/>
<rect x="106.1" y="273.8" width="1.0" height="1.0" fill="#444"/>
<rect x="85.8" y="272.3" width="1.0" height="1.0" fill="#444"/>
<rect x="90.3" y="278.4" width="1.0" height="1.0" fill="#aaa"/>
<rect x="93.9" y="282.8" width="1.0" height="1.0" fill="#888"/>
<rect x="98.7" y="243.5" width="1.0" height="1.0" fill="#888"/>
<rect x="96.1" y="286.5" width="1.0" height="1.0" fill="#444"/>
<rect x="98.5" y="267.4" width="1.0" height="1.0" fill="#666"/>
<rect x="99.8" y="251.4" width="1.0" height="1.0" fill="#888"/>
<rect x="119.6" y="258.9" width="1.0" height="1.0" fill="#888"/>
<rect x="94.1" y="273.2" width="1.0" height="1.0" fill="#888"/>
<rect x="104.4" y="266.4" width="1.0" height="1.0" fill="#888"/>
<rect x="89.2" y="272.2" width="1.0" height="1.0" fill="#aaa"/>
<rect x="97.0" y="274.2" width="1.0" height="1.0" fill="#aaa"/>
<rect x="85.5" y="262.2" width="1.0" height="1.0" fill="#444"/>
<rect x="82.1" y="282.8" width="1.0" height="1.0" fill="#888"/>
<rect x="84.4" y="257.7" width="1.0" height="1.0" fill="#888"/>
<rect x="104.6" y="254.4" width="1.0" height="1.0" fill="#888"/>
<rect x="92.8" y="257.7" width="1.0" height="1.0" fill="#666"/>
<rect x="99.4" y="257.7" width="1.0" height="1.0" fill="#666"/>
<rect x="109.4" y="269.7" width="1.0" height="1.0" fill="#aaa"/>
<rect x="88.7" y="271.7" width="1.0" height="1.0" fill="#444"/>
<rect x="103.0" y="273.0" width="1.0" height="1.0" fill="#aaa"/>
<rect x="83.4" y="261.1" width="1.0" height="1.0" fill="#444"/>
<rect x="96.2" y="257.1" width="1.0" height="1.0" fill="#888"/>
<rect x="88.9" y="271.6" width="1.0" height="1.0" fill="#666"/>
<rect x="113.2" y="252.7" width="1.0" height="1.0" fill="#666"/>
<rect x="101.0" y="255.0" width="1.0" height="1.0" fill="#666"/>
<rect x="87.6" y="256.9" width="1.0" height="1.0" fill="#444"/>
<rect x="106.9" y="254.1" width="1.0" height="1.0" fill="#aaa"/>
<rect x="102.5" y="276.9" width="1.0" height="1.0" fill="#444"/>
<rect x="121.7" y="250.7" width="1.0" height="1.0" fill="#666"/>
<rect x="101.5" y="271.3" width="1.0" height="1.0" fill="#444"/>
<rect x="92.0" y="249.8" width="1.0" height="1.0" fill="#666"/>
<rect x="92.6" y="257.9" width="1.0" height="1.0" fill="#666"/>
<rect x="113.8" y="268.2" width="1.0" height="1.0" fill="#888"/>
<rect x="93.9" y="263.9" width="1.0" height="1.0" fill="#444"/>
<rect x="97.0" y="256.8" width="1.0" height="1.0" fill="#aaa"/>
<rect x="101.6" y="247.9" width="1.0" height="1.0" fill="#888"/>
<rect x="100.9" y="250.9" width="1.0" height="1.0" fill="#444"/>
<rect x="99.9" y="265.7" width="1.0" height="1.0" fill="#666"/>
<rect x="108.4" y="245.4" width="1.0" height="1.0" fill="#aaa"/>
<rect x="104.3" y="274.7" width="1.0" height="1.0" fill="#444"/>
<rect x="101.8" y="257.9" width="1.0" height="1.0" fill="#444"/>
<rect x="95.3" y="259.1" width="1.0" height="1.0" fill="#aaa"/>
<rect x="82.1" y="268.2" width="1.0" height="1.0" fill="#888"/>
<rect x="96.5" y="262.7" width="1.0" height="1.0" fill="#888"/>
<rect x="87.6" y="260.2" width="1.0" height="1.0" fill="#aaa"/>
<rect x="116.7" y="255.8" width="1.0" height="1.0" fill="#666"/>
<rect x="97.1" y="262.5" width="1.0" height="1.0" fill="#888"/>
<rect x="105.4" y="266.6" width="1.0" height="1.0" fill="#444"/>
<rect x="80.0" y="269.8" width="1.0" height="1.0" fill="#444"/>
<rect x="81.1" y="263.1" width="1.0" height="1.0" fill="#444"/>
<rect x="91.6" y="264.3" width="1.0" height="1.0" fill="#aaa"/>
<rect x="106.5" y="274.9" width="1.0" height="1.0" fill="#aaa"/>
<rect x="99.0" y="254.2" width="1.0" height="1.0" fill="#aaa"/>
<rect x="96.1" y="264.6" width="1.0" height="1.0" fill="#444"/>
<rect x="80.2" y="267.0" width="1.0" height="1.0" fill="#444"/>
<rect x="108.1" y="249.7" width="1.0" height="1.0" fill="#666"/>
<rect x="105.3" y="257.9" width="1.0" height="1.0" fill="#444"/>
<rect x="104.3" y="262.9" width="1.0" height="1.0" fill="#666"/>
<rect x="105.9" y="266.3" width="1.0" height="1.0" fill="#444"/>
<rect x="108.4" y="264.7" width="1.0" height="1.0" fill="#666"/>
<rect x="97.5" y="250.8" width="1.0" height="1.0" fill="#666"/>
<rect x="108.3" y="270.7" width="1.0" height="1.0" fill="#aaa"/>
<rect x="98.2" y="253.3" width="1.0" height="1.0" fill="#888"/>
<rect x="89.3" y="258.9" width="1.0" height="1.0" fill="#888"/>
<rect x="103.0" y="258.2" width="1.0" height="1.0" fill="#666"/>
<rect x="91.4" y="263.0" width="1.0" height="1.0" fill="#888"/>
<rect x="84.5" y="247.3" width="1.0" height="1.0" fill="#666"/>
<rect x="112.3" y="249.8" width="1.0" height="1.0" fill="#888"/>
<rect x="85.1" y="255.5" width="1.0" height="1.0" fill="#aaa"/>
<rect x="91.3" y="258.5" width="1.0" height="1.0" fill="#aaa"/>
<rect x="93.9" y="257.7" width="1.0" height="1.0" fill="#666"/>
<rect x="86.5" y="258.1" width="1.0" height="1.0" fill="#aaa"/>
<rect x="102.6" y="265.7" width="1.0" height="1.0" fill="#888"/>
<rect x="102.1" y="258.2" width="1.0" height="1.0" fill="#444"/>
<rect x="94.4" y="265.2" width="1.0" height="1.0" fill="#aaa"/>
<rect x="81.8" y="267.3" width="1.0" height="1.0" fill="#888"/>
<rect x="112.1" y="260.4" width="1.0" height="1.0" fill="#666"/>
<rect x="116.9" y="238.2" width="1.0" height="1.0" fill="#888"/>
<rect x="109.3" y="246.0" width="1.0" height="1.0" fill="#444"/>
<rect x="104.4" y="254.4" width="1.0" height="1.0" fill="#666"/>
<rect x="75.7" y="270.3" width="1.0" height="1.0" fill="#aaa"/>
<rect x="91.4" y="262.9" width="1.0" height="1.0" fill="#666"/>
<rect x="104.2" y="238.2" width="1.0" height="1.0" fill="#888"/>
<rect x="109.1" y="267.3" width="1.0" height="1.0" fill="#aaa"/>
<rect x="124.1" y="240.6" width="1.0" height="1.0" fill="#aaa"/>
<rect x="96.5" y="256.1" width="1.0" height="1.0" fill="#aaa"/>
<rect x="90.1" y="250.7" width="1.0" height="1.0" fill="#666"/>
<rect x="110.0" y="266.0" width="1.0" height="1.0" fill="#aaa"/>
<rect x="85.1" y="269.1" width="1.0" height="1.0" fill="#444"/>
<rect x="86.0" y="256.0" width="1.0" height="1.0" fill="#666"/>
<rect x="87.5" y="257.5" width="1.0" height="1.0" fill="#aaa"/>
<rect x="79.3" y="249.8" width="1.0" height="1.0" fill="#888"/>
<rect x="115.9" y="252.9" width="1.0" height="1.0" fill="#444"/>
<rect x="89.3" y="274.4" width="1.0" height="1.0" fill="#444"/>
<rect x="96.9" y="285.3" width="1.0" height="1.0" fill="#666"/>
<rect x="89.9" y="253.8" width="1.0" height="1.0" fill="#444"/>
<rect x="87.0" y="264.9" width="1.0" height="1.0" fill="#666"/>
<rect x="101.9" y="267.2" width="1.0" height="1.0" fill="#666"/>
<rect x="108.7" y="250.3" width="1.0" height="1.0" fill="#888"/>
<rect x="112.5" y="248.6" width="1.0" height="1.0" fill="#aaa"/>
<rect x="98.4" y="253.6" width="1.0" height="1.0" fill="#888"/>
<rect x="94.5" y="253.4" width="1.0" height="1.0" fill="#666"/>
<rect x="85.9" y="255.9" width="1.0" height="1.0" fill="#666"/>
<rect x="95.8" y="253.6" width="1.0" height="1.0" fill="#888"/>
<rect x="85.8" y="269.0" width="1.0" height="1.0" fill="#aaa"/>
<rect x="103.4" y="267.3" width="1.0" height="1.0" fill="#444"/>
<rect x="72.9" y="275.4" width="1.0" height="1.0" fill="#888"/>
<rect x="108.9" y="279.3" width="1.0" height="1.0" fill="#888"/>
<rect x="92.1" y="251.3" width="1.0" height="1.0" fill="#888"/>
<rect x="99.9" y="254.4" width="1.0" height="1.0" fill="#888"/>
<rect x="119.2" y="255.8" width="1.0" height="1.0" fill="#666"/>
<rect x="108.2" y="269.7" width="1.0" height="1.0" fill="#888"/>
<rect x="115.9" y="256.8" width="1.0" height="1.0" fill="#aaa"/>
<rect x="108.9" y="283.2" width="1.0" height="1.0" fill="#444"/>
<rect x="102.3" y="278.5" width="1.0" height="1.0" fill="#aaa"/>
<rect x="92.8" y="268.0" width="1.0" height="1.0" fill="#888"/>
<rect x="106.6" y="241.3" width="1.0" height="1.0" fill="#444"/>
<rect x="89.0" y="240.2" width="1.0" height="1.0" fill="#444"/>
<rect x="94.7" y="259.4" width="1.0" height="1.0" fill="#888"/>
<rect x="100.2" y="256.2" width="1.0" height="1.0" fill="#aaa"/>
<rect x="101.9" y="270.8" width="1.0" height="1.0" fill="#888"/>
<rect x="74.6" y="270.0" width="1.0" height="1.0" fill="#888"/>
<rect x="96.1" y="281.1" width="1.0" height="1.0" fill="#444"/>
<rect x="80.3" y="274.3" width="1.0" height="1.0" fill="#888"/>
<rect x="92.0" y="243.7" width="1.0" height="1.0" fill="#888"/>
<rect x="95.1" y="268.8" width="1.0" height="1.0" fill="#444"/>
<rect x="99.1" y="278.2" width="1.0" height="1.0" fill="#444"/>
<rect x="88.5" y="255.1" width="1.0" height="1.0" fill="#666"/>
<rect x="90.8" y="253.0" width="1.0" height="1.0" fill="#888"/>
<rect x="97.1" y="266.4" width="1.0" height="1.0" fill="#888"/>
<rect x="107.5" y="277.9" width="1.0" height="1.0" fill="#444"/>
<rect x="94.2" y="259.6" width="1.0" height="1.0" fill="#888"/>
<rect x="83.4" y="261.4" width="1.0" height="1.0" fill="#aaa"/>
<rect x="107.6" y="250.6" width="1.0" height="1.0" fill="#444"/>
<rect x="93.5" y="263.9" width="1.0" height="1.0" fill="#888"/>
<rect x="98.4" y="257.6" width="1.0" height="1.0" fill="#444"/>
<rect x="98.3" y="254.2" width="1.0" height="1.0" fill="#888"/>
<rect x="107.2" y="238.5" width="1.0" height="1.0" fill="#444"/>
<rect x="90.0" y="261.0" width="1.0" height="1.0" fill="#aaa"/>
<rect x="88.1" y="250.8" width="1.0" height="1.0" fill="#888"/>
<rect x="94.3" y="265.7" width="1.0" height="1.0" fill="#666"/>
<rect x="89.9" y="263.6" width="1.0" height="1.0" fill="#888"/>
<rect x="85.6" y="271.1" width="1.0" height="1.0" fill="#666"/>
<rect x="79.3" y="274.2" width="1.0" height="1.0" fill="#444"/>
<rect x="80.9" y="260.3" width="1.0" height="1.0" fill="#aaa"/>
<rect x="114.8" y="238.5" width="1.0" height="1.0" fill="#444"/>
<rect x="82.0" y="256.7" width="1.0" height="1.0" fill="#666"/>
<rect x="104.5" y="251.9" width="1.0" height="1.0" fill="#aaa"/>
<rect x="102.4" y="259.6" width="1.0" height="1.0" fill="#666"/>
<rect x="91.1" y="242.6" width="1.0" height="1.0" fill="#888"/>
<rect x="94.2" y="266.0" width="1.0" height="1.0" fill="#888"/>
<rect x="93.0" y="251.0" width="1.0" height="1.0" fill="#888"/>
<rect x="81.2" y="243.0" width="1.0" height="1.0" fill="#aaa"/>
<rect x="75.7" y="268.7" width="1.0" height="1.0" fill="#888"/>
<rect x="90.7" y="277.1" width="1.0" height="1.0" fill="#444"/>
<rect x="96.3" y="237.8" width="1.0" height="1.0" fill="#888"/>
<rect x="93.4" y="247.8" width="1.0" height="1.0" fill="#888"/>
<rect x="98.0" y="246.1" width="1.0" height="1.0" fill="#888"/>
<rect x="90.8" y="263.0" width="1.0" height="1.0" fill="#444"/>
<rect x="100.2" y="250.7" width="1.0" height="1.0" fill="#444"/>
<rect x="90.9" y="246.3" width="1.0" height="1.0" fill="#aaa"/>
<rect x="118.2" y="260.9" width="1.0" height="1.0" fill="#888"/>
<rect x="82.9" y="258.1" width="1.0" height="1.0" fill="#aaa"/>
<rect x="109.8" y="250.7" width="1.0" height="1.0" fill="#666"/>
<rect x="101.9" y="256.7" width="1.0" height="1.0" fill="#666"/>
<rect x="109.4" y="254.4" width="1.0" height="1.0" fill="#444"/>
<rect x="100.5" y="257.9" width="1.0" height="1.0" fill="#444"/>
<rect x="93.6" y="242.8" width="1.0" height="1.0" fill="#666"/>
<rect x="79.3" y="278.7" width="1.0" height="1.0" fill="#666"/>
<rect x="105.2" y="269.5" width="1.0" height="1.0" fill="#aaa"/>
<rect x="118.4" y="252.2" width="1.0" height="1.0" fill="#444"/>
<rect x="117.3" y="251.7" width="1.0" height="1.0" fill="#888"/>
<rect x="90.5" y="277.7" width="1.0" height="1.0" fill="#aaa"/>
<rect x="99.8" y="258.2" width="1.0" height="1.0" fill="#aaa"/>
<rect x="110.4" y="246.5" width="1.0" height="1.0" fill="#aaa"/>
<rect x="108.2" y="268.5" width="1.0" height="1.0" fill="#888"/>
<rect x="98.4" y="259.4" width="1.0" height="1.0" fill="#aaa"/>
<rect x="82.6" y="258.3" width="1.0" height="1.0" fill="#444"/>
<rect x="87.1" y="276.4" width="1.0" height="1.0" fill="#aaa"/>
<rect x="70.2" y="289.7" width="1.0" height="1.0" fill="#aaa"/>
<rect x="102.9" y="260.5" width="1.0" height="1.0" fill="#444"/>
<rect x="107.3" y="263.9" width="1.0" height="1.0" fill="#666"/>
<rect x="96.1" y="271.9" width="1.0" height="1.0" fill="#444"/>
<rect x="83.0" y="267.1" width="1.0" height="1.0" fill="#aaa"/>
<rect x="84.1" y="256.0" width="1.0" height="1.0" fill="#888"/>
<rect x="73.8" y="266.0" width="1.0" height="1.0" fill="#666"/>
<rect x="99.2" y="255.8" width="1.0" height="1.0" fill="#444"/>
<rect x="78.1" y="262.4" width="1.0" height="1.0" fill="#aaa"/>
<rect x="112.5" y="249.4" width="1.0" height="1.0" fill="#666"/>
<rect x="105.2" y="256.5" width="1.0" height="1.0" fill="#666"/>
<rect x="90.4" y="270.4" width="1.0" height="1.0" fill="#888"/>
<rect x="110.8" y="262.1" width="1.0" height="1.0" fill="#888"/>
<rect x="115.5" y="247.4" width="1.0" height="1.0" fill="#aaa"/>
<rect x="88.7" y="256.3" width="1.0" height="1.0" fill="#666"/>
<rect x="83.8" y="264.6" width="1.0" height="1.0" fill="#888"/>
<rect x="92.6" y="263.6" width="1.0" height="1.0" fill="#888"/>
<rect x="106.3" y="278.0" width="1.0" height="1.0" fill="#444"/>
<rect x="106.9" y="283.8" width="1.0" height="1.0" fill="#888"/>
<rect x="101.9" y="290.3" width="1.0" height="1.0" fill="#888"/>
<rect x="98.7" y="294.5" width="1.0" height="1.0" fill="#888"/>
<rect x="104.8" y="290.5" width="1.0" height="1.0" fill="#666"/>
<rect x="113.7" y="289.2" width="1.0" height="1.0" fill="#888"/>
<rect x="104.0" y="290.6" width="1.0" height="1.0" fill="#888"/>
<rect x="106.9" y="303.6" width="1.0" height="1.0" fill="#666"/>
<rect x="85.3" y="287.0" width="1.0" height="1.0" fill="#666"/>
<rect x="75.8" y="298.8" width="1.0" height="1.0" fill="#888"/>
<rect x="116.7" y="292.3" width="1.0" height="1.0" fill="#666"/>
<rect x="103.6" y="294.1" width="1.0" height="1.0" fill="#888"/>
<rect x="78.4" y="290.2" width="1.0" height="1.0" fill="#888"/>
<rect x="94.9" y="293.4" width="1.0" height="1.0" fill="#aaa"/>
<rect x="97.1" y="302.9" width="1.0" height="1.0" fill="#888"/>
<rect x="107.1" y="297.9" width="1.0" height="1.0" fill="#aaa"/>
<rect x="113.5" y="289.3" width="1.0" height="1.0" fill="#888"/>
<rect x="109.4" y="287.7" width="1.0" height="1.0" fill="#888"/>
<rect x="81.4" y="302.4" width="1.0" height="1.0" fill="#888"/>
<rect x="100.5" y="294.2" width="1.0" height="1.0" fill="#666"/>
<rect x="99.1" y="305.0" width="1.0" height="1.0" fill="#aaa"/>
<rect x="87.6" y="296.4" width="1.0" height="1.0" fill="#888"/>
<rect x="109.1" y="298.7" width="1.0" height="1.0" fill="#888"/>
<rect x="114.4" y="304.2" width="1.0" height="1.0" fill="#aaa"/>
<rect x="112.3" y="293.8" width="1.0" height="1.0" fill="#888"/>
<rect x="92.4" y="295.6" width="1.0" height="1.0" fill="#666"/>
<rect x="106.8" y="290.1" width="1.0" height="1.0" fill="#888"/>
<rect x="104.7" y="291.5" width="1.0" height="1.0" fill="#aaa"/>
<rect x="84.3" y="296.0" width="1.0" height="1.0" fill="#888"/>
<rect x="89.4" y="298.9" width="1.0" height="1.0" fill="#666"/>
<rect x="117.2" y="303.9" width="1.0" height="1.0" fill="#aaa"/>
<rect x="87.8" y="291.9" width="1.0" height="1.0" fill="#666"/>
<rect x="93.5" y="300.0" width="1.0" height="1.0" fill="#aaa"/>
<rect x="96.5" y="298.4" width="1.0" height="1.0" fill="#aaa"/>
<rect x="108.6" y="300.1" width="1.0" height="1.0" fill="#666"/>
<rect x="104.0" y="299.5" width="1.0" height="1.0" fill="#aaa"/>
<rect x="98.4" y="294.6" width="1.0" height="1.0" fill="#666"/>
<rect x="91.8" y="290.1" width="1.0" height="1.0" fill="#666"/>
<rect x="103.8" y="296.0" width="1.0" height="1.0" fill="#666"/>
<rect x="78.9" y="283.7" width="1.0" height="1.0" fill="#666"/>
<rect x="108.4" y="289.9" width="1.0" height="1.0" fill="#666"/>
<rect x="102.4" y="297.1" width="1.0" height="1.0" fill="#888"/>
<rect x="94.6" y="292.3" width="1.0" height="1.0" fill="#888"/>
<rect x="94.3" y="301.3" width="1.0" height="1.0" fill="#666"/>
<rect x="100.5" y="286.4" width="1.0" height="1.0" fill="#666"/>
<rect x="91.6" y="305.2" width="1.0" height="1.0" fill="#666"/>
<rect x="86.2" y="291.7" width="1.0" height="1.0" fill="#666"/>
<rect x="80.9" y="298.6" width="1.0" height="1.0" fill="#666"/>
<rect x="103.3" y="296.3" width="1.0" height="1.0" fill="#888"/>
<rect x="100.0" y="291.7" width="1.0" height="1.0" fill="#aaa"/>
<rect x="98.5" y="286.1" width="1.0" height="1.0" fill="#888"/>
<rect x="94.9" y="296.6" width="1.0" height="1.0" fill="#888"/>
<rect x="79.6" y="294.4" width="1.0" height="1.0" fill="#888"/>
<rect x="81.8" y="289.4" width="1.0" height="1.0" fill="#aaa"/>
<rect x="102.1" y="299.7" width="1.0" height="1.0" fill="#aaa"/>
<rect x="89.1" y="285.6" width="1.0" height="1.0" fill="#666"/>
<rect x="84.1" y="298.3" width="1.0" height="1.0" fill="#888"/>
<rect x="88.7" y="293.8" width="1.0" height="1.0" fill="#aaa"/>
<rect x="100.1" y="300.2" width="1.0" height="1.0" fill="#888"/>
<rect x="104.3" y="296.4" width="1.0" height="1.0" fill="#888"/>
<rect x="101.8" y="301.1" width="1.0" height="1.0" fill="#aaa"/>
<rect x="90.0" y="295.4" width="1.0" height="1.0" fill="#aaa"/>
<rect x="106.3" y="295.7" width="1.0" height="1.0" fill="#666"/>
<rect x="116.9" y="292.4" width="1.0" height="1.0" fill="#666"/>
<rect x="102.7" y="307.2" width="1.0" height="1.0" fill="#888"/>
<rect x="95.5" y="298.3" width="1.0" height="1.0" fill="#aaa"/>
<rect x="90.7" y="288.0" width="1.0" height="1.0" fill="#888"/>
<rect x="103.1" y="308.4" width="1.0" height="1.0" fill="#666"/>
<rect x="110.7" y="290.8" width="1.0" height="1.0" fill="#aaa"/>
<rect x="109.1" y="297.7" width="1.0" height="1.0" fill="#666"/>
<rect x="86.8" y="285.9" width="1.0" height="1.0" fill="#666"/>
<rect x="118.2" y="296.7" width="1.0" height="1.0" fill="#aaa"/>
<rect x="104.8" y="284.0" width="1.0" height="1.0" fill="#888"/>
<rect x="115.9" y="293.1" width="1.0" height="1.0" fill="#aaa"/>
<rect x="96.9" y="283.2" width="1.0" height="1.0" fill="#666"/>
<rect x="94.0" y="291.8" width="1.0" height="1.0" fill="#aaa"/>
<rect x="96.0" y="286.4" width="1.0" height="1.0" fill="#aaa"/>
<rect x="122.5" y="232.5" width="1" height="1" fill="#888"/>
<rect x="142" y="240" width="1" height="1" fill="#888"/>
<rect x="150.5" y="238" width="1" height="1" fill="#888"/>
<rect x="146" y="243" width="1" height="1" fill="#888"/>
<rect x="138" y="241" width="1" height="1" fill="#888"/>
<rect x="118" y="236" width="1" height="1" fill="#888"/>
<rect x="126" y="238" width="1" height="1" fill="#888"/>
<rect x="254.2" y="304.9" width="1.0" height="1.0" fill="#aaa"/>
<rect x="265.1" y="292.5" width="1.0" height="1.0" fill="#888"/>
<rect x="272.7" y="293.3" width="1.0" height="1.0" fill="#444"/>
<rect x="270.8" y="285.7" width="1.0" height="1.0" fill="#444"/>
<rect x="259.1" y="285.0" width="1.0" height="1.0" fill="#444"/>
<rect x="257.7" y="288.7" width="1.0" height="1.0" fill="#444"/>
<rect x="241.5" y="299.0" width="1.0" height="1.0" fill="#666"/>
<rect x="251.2" y="294.0" width="1.0" height="1.0" fill="#888"/>
<rect x="245.2" y="285.5" width="1.0" height="1.0" fill="#aaa"/>
<rect x="251.3" y="289.9" width="1.0" height="1.0" fill="#444"/>
<rect x="270.3" y="297.0" width="1.0" height="1.0" fill="#666"/>
<rect x="241.9" y="298.6" width="1.0" height="1.0" fill="#888"/>
<rect x="251.9" y="292.7" width="1.0" height="1.0" fill="#aaa"/>
<rect x="259.0" y="296.5" width="1.0" height="1.0" fill="#444"/>
<rect x="257.4" y="286.2" width="1.0" height="1.0" fill="#aaa"/>
<rect x="259.3" y="298.0" width="1.0" height="1.0" fill="#666"/>
<rect x="249.8" y="302.2" width="1.0" height="1.0" fill="#aaa"/>
<rect x="247.8" y="288.6" width="1.0" height="1.0" fill="#aaa"/>
<rect x="260.3" y="293.0" width="1.0" height="1.0" fill="#888"/>
<rect x="245.9" y="289.5" width="1.0" height="1.0" fill="#444"/>
<rect x="255.0" y="283.3" width="1.0" height="1.0" fill="#666"/>
<rect x="261.3" y="292.5" width="1.0" height="1.0" fill="#666"/>
<rect x="249.3" y="287.1" width="1.0" height="1.0" fill="#666"/>
<rect x="255.9" y="295.0" width="1.0" height="1.0" fill="#888"/>
<rect x="241.6" y="280.8" width="1.0" height="1.0" fill="#666"/>
<rect x="238.2" y="293.5" width="1.0" height="1.0" fill="#666"/>
<rect x="246.0" y="289.6" width="1.0" height="1.0" fill="#888"/>
<rect x="247.4" y="283.4" width="1.0" height="1.0" fill="#666"/>
<rect x="283.1" y="300.8" width="1.0" height="1.0" fill="#666"/>
<rect x="259.7" y="288.8" width="1.0" height="1.0" fill="#666"/>
<rect x="263.8" y="292.0" width="1.0" height="1.0" fill="#aaa"/>
<rect x="261.1" y="285.5" width="1.0" height="1.0" fill="#888"/>
<rect x="249.1" y="280.5" width="1.0" height="1.0" fill="#666"/>
<rect x="248.8" y="294.3" width="1.0" height="1.0" fill="#888"/>
<rect x="263.3" y="297.5" width="1.0" height="1.0" fill="#888"/>
<rect x="255.7" y="284.6" width="1.0" height="1.0" fill="#444"/>
<rect x="254.2" y="289.5" width="1.0" height="1.0" fill="#aaa"/>
<rect x="250.3" y="292.5" width="1.0" height="1.0" fill="#aaa"/>
<rect x="260.3" y="289.8" width="1.0" height="1.0" fill="#aaa"/>
<rect x="252.1" y="290.3" width="1.0" height="1.0" fill="#888"/>
<rect x="261.3" y="298.6" width="1.0" height="1.0" fill="#666"/>
<rect x="247.4" y="285.3" width="1.0" height="1.0" fill="#aaa"/>
<rect x="242.8" y="289.5" width="1.0" height="1.0" fill="#666"/>
<rect x="266.4" y="281.7" width="1.0" height="1.0" fill="#888"/>
<rect x="271.0" y="296.8" width="1.0" height="1.0" fill="#666"/>
<rect x="252.1" y="292.5" width="1.0" height="1.0" fill="#aaa"/>
<rect x="255.4" y="295.5" width="1.0" height="1.0" fill="#aaa"/>
<rect x="243.8" y="287.2" width="1.0" height="1.0" fill="#666"/>
<rect x="256.3" y="297.8" width="1.0" height="1.0" fill="#aaa"/>
<rect x="258.3" y="288.0" width="1.0" height="1.0" fill="#666"/>
<rect x="260.1" y="289.1" width="1.0" height="1.0" fill="#666"/>
<rect x="238.1" y="289.2" width="1.0" height="1.0" fill="#666"/>
<rect x="258.1" y="295.3" width="1.0" height="1.0" fill="#aaa"/>
<rect x="264.3" y="294.4" width="1.0" height="1.0" fill="#888"/>
<rect x="254.2" y="289.4" width="1.0" height="1.0" fill="#666"/>
<rect x="276.6" y="297.6" width="1.0" height="1.0" fill="#444"/>
<rect x="260.7" y="292.2" width="1.0" height="1.0" fill="#444"/>
<rect x="263.7" y="295.4" width="1.0" height="1.0" fill="#aaa"/>
<rect x="248.0" y="290.3" width="1.0" height="1.0" fill="#aaa"/>
<rect x="245.3" y="288.2" width="1.0" height="1.0" fill="#666"/>
<rect x="257.9" y="284.2" width="1.0" height="1.0" fill="#444"/>
<rect x="272.3" y="290.2" width="1.0" height="1.0" fill="#666"/>
<rect x="261.4" y="296.9" width="1.0" height="1.0" fill="#666"/>
<rect x="246.8" y="294.1" width="1.0" height="1.0" fill="#444"/>
<rect x="246.5" y="291.7" width="1.0" height="1.0" fill="#888"/>
<rect x="273.5" y="292.1" width="1.0" height="1.0" fill="#888"/>
<rect x="251.8" y="279.9" width="1.0" height="1.0" fill="#444"/>
<rect x="248.1" y="293.2" width="1.0" height="1.0" fill="#444"/>
<rect x="253.3" y="288.6" width="1.0" height="1.0" fill="#888"/>
<rect x="253.2" y="298.1" width="1.0" height="1.0" fill="#444"/>
<rect x="261.8" y="293.3" width="1.0" height="1.0" fill="#aaa"/>
<rect x="267.1" y="290.7" width="1.0" height="1.0" fill="#888"/>
<rect x="247.2" y="290.2" width="1.0" height="1.0" fill="#666"/>
<rect x="243.6" y="293.4" width="1.0" height="1.0" fill="#444"/>
<rect x="264.1" y="290.9" width="1.0" height="1.0" fill="#888"/>
<rect x="258.0" y="286.5" width="1.0" height="1.0" fill="#aaa"/>
<rect x="239.6" y="291.5" width="1.0" height="1.0" fill="#444"/>
<rect x="271.1" y="304.6" width="1.0" height="1.0" fill="#888"/>
<rect x="257.8" y="296.9" width="1.0" height="1.0" fill="#666"/>
<rect x="266.5" y="290.5" width="1.0" height="1.0" fill="#444"/>
<rect x="248.5" y="285.1" width="1.0" height="1.0" fill="#666"/>
<rect x="255.2" y="293.0" width="1.0" height="1.0" fill="#666"/>
<rect x="244.2" y="289.5" width="1.0" height="1.0" fill="#444"/>
<rect x="263.1" y="288.8" width="1.0" height="1.0" fill="#aaa"/>
<rect x="251.7" y="287.6" width="1.0" height="1.0" fill="#888"/>
<rect x="259.9" y="298.6" width="1.0" height="1.0" fill="#666"/>
<rect x="257.8" y="296.3" width="1.0" height="1.0" fill="#aaa"/>
<rect x="256.0" y="284.0" width="1.0" height="1.0" fill="#666"/>
<rect x="267.8" y="291.5" width="1.0" height="1.0" fill="#888"/>
<rect x="257.8" y="288.8" width="1.0" height="1.0" fill="#444"/>
<rect x="245.6" y="299.9" width="1.0" height="1.0" fill="#aaa"/>
<rect x="273.6" y="297.9" width="1.0" height="1.0" fill="#888"/>
<rect x="256.2" y="295.0" width="1.0" height="1.0" fill="#aaa"/>
<rect x="269.0" y="300.0" width="1.0" height="1.0" fill="#666"/>
<rect x="239.6" y="285.7" width="1.0" height="1.0" fill="#666"/>
<rect x="257.7" y="296.3" width="1.0" height="1.0" fill="#444"/>
<rect x="262.3" y="294.7" width="1.0" height="1.0" fill="#666"/>
<rect x="243.5" y="290.7" width="1.0" height="1.0" fill="#444"/>
<rect x="268.7" y="289.7" width="1.0" height="1.0" fill="#444"/>
<rect x="256.5" y="300.1" width="1.0" height="1.0" fill="#666"/>
<rect x="248.4" y="284.8" width="1.0" height="1.0" fill="#aaa"/>
<rect x="257.4" y="292.2" width="1.0" height="1.0" fill="#666"/>
<rect x="254.1" y="284.2" width="1.0" height="1.0" fill="#888"/>
<rect x="251.7" y="305.0" width="1.0" height="1.0" fill="#444"/>
<rect x="280.8" y="284.2" width="1.0" height="1.0" fill="#444"/>
<rect x="257.4" y="296.2" width="1.0" height="1.0" fill="#666"/>
<rect x="255.8" y="301.5" width="1.0" height="1.0" fill="#444"/>
<rect x="263.8" y="297.3" width="1.0" height="1.0" fill="#666"/>
<rect x="264.5" y="287.6" width="1.0" height="1.0" fill="#444"/>
<rect x="253.2" y="296.4" width="1.0" height="1.0" fill="#aaa"/>
<rect x="257.9" y="287.9" width="1.0" height="1.0" fill="#888"/>
<rect x="265.8" y="290.2" width="1.0" height="1.0" fill="#aaa"/>
<rect x="269.6" y="297.6" width="1.0" height="1.0" fill="#aaa"/>
<rect x="262.1" y="291.7" width="1.0" height="1.0" fill="#444"/>
<rect x="256.9" y="293.5" width="1.0" height="1.0" fill="#444"/>
<rect x="247.1" y="282.9" width="1.0" height="1.0" fill="#888"/>
<rect x="268.5" y="297.3" width="1.0" height="1.0" fill="#666"/>
<rect x="252.3" y="290.8" width="1.0" height="1.0" fill="#aaa"/>
<rect x="258.7" y="289.4" width="1.0" height="1.0" fill="#888"/>
<rect x="254.8" y="288.7" width="1.0" height="1.0" fill="#444"/>
<rect x="252.9" y="295.2" width="1.0" height="1.0" fill="#444"/>
<rect x="275.1" y="289.9" width="1.0" height="1.0" fill="#444"/>
<rect x="244.5" y="283.5" width="1.0" height="1.0" fill="#aaa"/>
<rect x="263.3" y="290.6" width="1.0" height="1.0" fill="#aaa"/>
<rect x="261.4" y="294.6" width="1.0" height="1.0" fill="#666"/>
<rect x="261.6" y="291.9" width="1.0" height="1.0" fill="#444"/>
<rect x="260.2" y="291.1" width="1.0" height="1.0" fill="#666"/>
<rect x="255.9" y="296.3" width="1.0" height="1.0" fill="#444"/>
<rect x="263.6" y="294.8" width="1.0" height="1.0" fill="#666"/>
<rect x="244.5" y="288.1" width="1.0" height="1.0" fill="#444"/>
<rect x="259.1" y="295.3" width="1.0" height="1.0" fill="#aaa"/>
<rect x="258.0" y="284.5" width="1.0" height="1.0" fill="#444"/>
<rect x="261.3" y="294.0" width="1.0" height="1.0" fill="#444"/>
<rect x="260.5" y="293.1" width="1.0" height="1.0" fill="#888"/>
<rect x="255.5" y="285.8" width="1.0" height="1.0" fill="#aaa"/>
<rect x="241.3" y="303.2" width="1.0" height="1.0" fill="#666"/>
<rect x="265.9" y="294.7" width="1.0" height="1.0" fill="#444"/>
<rect x="249.6" y="296.1" width="1.0" height="1.0" fill="#aaa"/>
<rect x="270.0" y="291.3" width="1.0" height="1.0" fill="#666"/>
<rect x="273.7" y="295.9" width="1.0" height="1.0" fill="#aaa"/>
<rect x="261.9" y="292.0" width="1.0" height="1.0" fill="#888"/>
<rect x="251.5" y="298.9" width="1.0" height="1.0" fill="#aaa"/>
<rect x="260.1" y="290.3" width="1.0" height="1.0" fill="#444"/>
<rect x="256.1" y="298.7" width="1.0" height="1.0" fill="#666"/>
<rect x="243.4" y="298.4" width="1.0" height="1.0" fill="#666"/>
<rect x="252.0" y="295.1" width="1.0" height="1.0" fill="#888"/>
<rect x="274.8" y="284.0" width="1.0" height="1.0" fill="#666"/>
<rect x="251.9" y="298.9" width="1.0" height="1.0" fill="#444"/>
<rect x="275.9" y="294.2" width="1.0" height="1.0" fill="#888"/>
<rect x="251.2" y="297.0" width="1.0" height="1.0" fill="#888"/>
<rect x="261.3" y="296.6" width="1.0" height="1.0" fill="#444"/>
<rect x="251.2" y="284.2" width="1.0" height="1.0" fill="#444"/>
<rect x="265.0" y="296.7" width="1.0" height="1.0" fill="#444"/>
<rect x="252.1" y="299.6" width="1.0" height="1.0" fill="#aaa"/>
<rect x="267.2" y="288.4" width="1.0" height="1.0" fill="#aaa"/>
<rect x="245.2" y="292.7" width="1.0" height="1.0" fill="#888"/>
<rect x="259.6" y="292.1" width="1.0" height="1.0" fill="#aaa"/>
<rect x="249.9" y="294.7" width="1.0" height="1.0" fill="#666"/>
<rect x="258.1" y="292.3" width="1.0" height="1.0" fill="#aaa"/>
<rect x="252.0" y="295.0" width="1.0" height="1.0" fill="#666"/>
<rect x="258.5" y="292.4" width="1.0" height="1.0" fill="#aaa"/>
<rect x="245.2" y="286.3" width="1.0" height="1.0" fill="#444"/>
<rect x="266.7" y="293.4" width="1.0" height="1.0" fill="#444"/>
<rect x="254.2" y="290.5" width="1.0" height="1.0" fill="#444"/>
<rect x="254.7" y="289.2" width="1.0" height="1.0" fill="#666"/>
<rect x="262.9" y="302.5" width="1.0" height="1.0" fill="#444"/>
<rect x="244.4" y="295.9" width="1.0" height="1.0" fill="#666"/>
<rect x="266.4" y="284.9" width="1.0" height="1.0" fill="#444"/>
<rect x="272.9" y="301.6" width="1.0" height="1.0" fill="#aaa"/>
<rect x="259.7" y="289.7" width="1.0" height="1.0" fill="#888"/>
<rect x="260.1" y="296.6" width="1.0" height="1.0" fill="#666"/>
<rect x="268.6" y="286.4" width="1.0" height="1.0" fill="#666"/>
<rect x="269.9" y="286.3" width="1.0" height="1.0" fill="#444"/>
<rect x="259.3" y="284.0" width="1.0" height="1.0" fill="#aaa"/>
<rect x="266.7" y="289.2" width="1.0" height="1.0" fill="#444"/>
<rect x="247.6" y="303.1" width="1.0" height="1.0" fill="#666"/>
<rect x="248.1" y="291.6" width="1.0" height="1.0" fill="#888"/>
<rect x="253.9" y="285.1" width="1.0" height="1.0" fill="#888"/>
<rect x="263.6" y="289.3" width="1.0" height="1.0" fill="#666"/>
<rect x="260.8" y="296.0" width="1.0" height="1.0" fill="#888"/>
<rect x="254.6" y="289.7" width="1.0" height="1.0" fill="#888"/>
<rect x="253.2" y="291.8" width="1.0" height="1.0" fill="#888"/>
<rect x="259.8" y="293.4" width="1.0" height="1.0" fill="#666"/>
<rect x="267.7" y="284.4" width="1.0" height="1.0" fill="#444"/>
<rect x="279.8" y="292.3" width="1.0" height="1.0" fill="#aaa"/>
<rect x="242.5" y="292.1" width="1.0" height="1.0" fill="#666"/>
<rect x="266.1" y="294.9" width="1.0" height="1.0" fill="#888"/>
<rect x="255.3" y="294.4" width="1.0" height="1.0" fill="#aaa"/>
<rect x="247.2" y="291.6" width="1.0" height="1.0" fill="#444"/>
<rect x="252.3" y="286.2" width="1.0" height="1.0" fill="#888"/>
<rect x="277.2" y="291.9" width="1.0" height="1.0" fill="#888"/>
<rect x="266.7" y="301.8" width="1.0" height="1.0" fill="#888"/>
<rect x="252.2" y="292.6" width="1.0" height="1.0" fill="#666"/>
<rect x="244.2" y="285.2" width="1.0" height="1.0" fill="#888"/>
<rect x="251.7" y="302.0" width="1.0" height="1.0" fill="#666"/>
<rect x="256.2" y="297.8" width="1.0" height="1.0" fill="#888"/>
<rect x="241.3" y="287.7" width="1.0" height="1.0" fill="#888"/>
<rect x="244.6" y="291.7" width="1.0" height="1.0" fill="#aaa"/>
<rect x="264.6" y="294.3" width="1.0" height="1.0" fill="#666"/>
<rect x="245.6" y="289.7" width="1.0" height="1.0" fill="#888"/>
<rect x="265.8" y="282.8" width="1.0" height="1.0" fill="#444"/>
<rect x="244.4" y="303.1" width="1.0" height="1.0" fill="#888"/>
<rect x="254.6" y="298.6" width="1.0" height="1.0" fill="#444"/>
<rect x="262.9" y="294.7" width="1.0" height="1.0" fill="#444"/>
<rect x="272.0" y="289.4" width="1.0" height="1.0" fill="#888"/>
<rect x="274.4" y="288.8" width="1.0" height="1.0" fill="#444"/>
<rect x="254.1" y="283.5" width="1.0" height="1.0" fill="#666"/>
<rect x="277.7" y="298.4" width="1.0" height="1.0" fill="#666"/>
<rect x="248.8" y="295.4" width="1.0" height="1.0" fill="#888"/>
<rect x="263.2" y="288.6" width="1.0" height="1.0" fill="#444"/>
<rect x="259.3" y="284.2" width="1.0" height="1.0" fill="#444"/>
<rect x="250.4" y="291.6" width="1.0" height="1.0" fill="#888"/>
<rect x="268.9" y="292.7" width="1.0" height="1.0" fill="#666"/>
<rect x="267.8" y="294.9" width="1.0" height="1.0" fill="#666"/>
<rect x="269.5" y="300.8" width="1.0" height="1.0" fill="#888"/>
<rect x="264.2" y="282.4" width="1.0" height="1.0" fill="#888"/>
<rect x="254.0" y="284.1" width="1.0" height="1.0" fill="#666"/>
<rect x="258.9" y="290.0" width="1.0" height="1.0" fill="#aaa"/>
<rect x="267.0" y="283.8" width="1.0" height="1.0" fill="#888"/>
<rect x="244.8" y="292.1" width="1.0" height="1.0" fill="#444"/>
<rect x="264.3" y="293.9" width="1.0" height="1.0" fill="#444"/>
<rect x="251.3" y="289.7" width="1.0" height="1.0" fill="#aaa"/>
<rect x="254.1" y="293.2" width="1.0" height="1.0" fill="#666"/>
<rect x="249.5" y="286.7" width="1.0" height="1.0" fill="#aaa"/>
<rect x="261.6" y="284.9" width="1.0" height="1.0" fill="#aaa"/>
<rect x="262.9" y="291.8" width="1.0" height="1.0" fill="#444"/>
<rect x="259.5" y="285.6" width="1.0" height="1.0" fill="#444"/>
<rect x="239.2" y="298.2" width="1.0" height="1.0" fill="#444"/>
<rect x="268.4" y="290.9" width="1.0" height="1.0" fill="#888"/>
<rect x="251.9" y="291.4" width="1.0" height="1.0" fill="#aaa"/>
<rect x="247.4" y="293.8" width="1.0" height="1.0" fill="#aaa"/>
<rect x="262.4" y="280.7" width="1.0" height="1.0" fill="#444"/>
<rect x="262.4" y="290.7" width="1.0" height="1.0" fill="#666"/>
<rect x="259.6" y="296.9" width="1.0" height="1.0" fill="#888"/>
<rect x="252.5" y="286.4" width="1.0" height="1.0" fill="#888"/>
<rect x="262.3" y="289.7" width="1.0" height="1.0" fill="#444"/>
<rect x="253.8" y="300.3" width="1.0" height="1.0" fill="#aaa"/>
<rect x="250.9" y="287.4" width="1.0" height="1.0" fill="#666"/>
<rect x="244.8" y="293.3" width="1.0" height="1.0" fill="#aaa"/>
<rect x="249.5" y="293.7" width="1.0" height="1.0" fill="#aaa"/>
<rect x="260.2" y="294.8" width="1.0" height="1.0" fill="#666"/>
<rect x="268.5" y="285.4" width="1.0" height="1.0" fill="#666"/>
<rect x="262.3" y="289.4" width="1.0" height="1.0" fill="#666"/>
<rect x="261.9" y="286.0" width="1.0" height="1.0" fill="#888"/>
<rect x="259.7" y="292.9" width="1.0" height="1.0" fill="#aaa"/>
<rect x="244.8" y="294.8" width="1.0" height="1.0" fill="#aaa"/>
<rect x="255.3" y="279.9" width="1.0" height="1.0" fill="#aaa"/>
<rect x="265.2" y="289.9" width="1.0" height="1.0" fill="#444"/>
<rect x="270.4" y="297.5" width="1.0" height="1.0" fill="#888"/>
<rect x="258.4" y="291.6" width="1.0" height="1.0" fill="#666"/>
<rect x="274.6" y="297.1" width="1.0" height="1.0" fill="#666"/>
<rect x="279.9" y="288.2" width="1.0" height="1.0" fill="#aaa"/>
<rect x="273.5" y="288.2" width="1.0" height="1.0" fill="#444"/>
<rect x="260.3" y="288.6" width="1.0" height="1.0" fill="#888"/>
<rect x="265.7" y="286.0" width="1.0" height="1.0" fill="#888"/>
<rect x="247.3" y="293.8" width="1.0" height="1.0" fill="#666"/>
<rect x="251.0" y="285.4" width="1.0" height="1.0" fill="#666"/>
<rect x="270.3" y="300.4" width="1.0" height="1.0" fill="#888"/>
<rect x="262.9" y="284.1" width="1.0" height="1.0" fill="#444"/>
<rect x="259.7" y="288.1" width="1.0" height="1.0" fill="#666"/>
<rect x="248.6" y="289.6" width="1.0" height="1.0" fill="#444"/>
<rect x="268.8" y="303.6" width="1.0" height="1.0" fill="#666"/>
<rect x="248.4" y="296.4" width="1.0" height="1.0" fill="#666"/>
<rect x="258.7" y="287.5" width="1.0" height="1.0" fill="#666"/>
<rect x="260.4" y="292.2" width="1.0" height="1.0" fill="#aaa"/>
<rect x="249.3" y="297.0" width="1.0" height="1.0" fill="#888"/>
<rect x="265.3" y="289.7" width="1.0" height="1.0" fill="#444"/>
<rect x="246.6" y="294.7" width="1.0" height="1.0" fill="#444"/>
<rect x="245.2" y="297.4" width="1.0" height="1.0" fill="#888"/>
<rect x="278.1" y="296.2" width="1.0" height="1.0" fill="#aaa"/>
<rect x="259.4" y="290.8" width="1.0" height="1.0" fill="#666"/>
<rect x="251.6" y="290.6" width="1.0" height="1.0" fill="#666"/>
<rect x="267.7" y="291.5" width="1.0" height="1.0" fill="#aaa"/>
<rect x="262.1" y="292.3" width="1.0" height="1.0" fill="#444"/>
<rect x="270.4" y="291.5" width="1.0" height="1.0" fill="#666"/>
<rect x="280.3" y="293.6" width="1.0" height="1.0" fill="#aaa"/>
<rect x="274.9" y="279.8" width="1.0" height="1.0" fill="#666"/>
<rect x="262.0" y="285.9" width="1.0" height="1.0" fill="#666"/>
<rect x="268.6" y="299.4" width="1.0" height="1.0" fill="#aaa"/>
<rect x="259.4" y="300.8" width="1.0" height="1.0" fill="#666"/>
<rect x="248.1" y="295.7" width="1.0" height="1.0" fill="#444"/>
<rect x="252.5" y="300.2" width="1.0" height="1.0" fill="#aaa"/>
<rect x="248.9" y="296.5" width="1.0" height="1.0" fill="#666"/>
<rect x="255.0" y="304.6" width="1.0" height="1.0" fill="#444"/>
<rect x="264.7" y="290.2" width="1.0" height="1.0" fill="#444"/>
<rect x="248.6" y="281.0" width="1.0" height="1.0" fill="#aaa"/>
<rect x="263.7" y="289.7" width="1.0" height="1.0" fill="#aaa"/>
<rect x="249.8" y="285.2" width="1.0" height="1.0" fill="#666"/>
<rect x="258.0" y="291.8" width="1.0" height="1.0" fill="#aaa"/>
<rect x="247.3" y="286.8" width="1.0" height="1.0" fill="#666"/>
<rect x="273.2" y="298.6" width="1.0" height="1.0" fill="#666"/>
<rect x="264.2" y="295.0" width="1.0" height="1.0" fill="#aaa"/>
<rect x="257.0" y="290.3" width="1.0" height="1.0" fill="#888"/>
<rect x="267.2" y="289.7" width="1.0" height="1.0" fill="#aaa"/>
<rect x="247.0" y="292.8" width="1.0" height="1.0" fill="#444"/>
<rect x="258.4" y="285.3" width="1.0" height="1.0" fill="#444"/>
<rect x="247.9" y="289.8" width="1.0" height="1.0" fill="#444"/>
<rect x="247.6" y="286.6" width="1.0" height="1.0" fill="#666"/>
<rect x="249.6" y="296.5" width="1.0" height="1.0" fill="#666"/>
<rect x="259.8" y="296.7" width="1.0" height="1.0" fill="#666"/>
<rect x="248.9" y="293.0" width="1.0" height="1.0" fill="#aaa"/>
<rect x="248.8" y="295.3" width="1.0" height="1.0" fill="#666"/>
<rect x="263.8" y="287.4" width="1.0" height="1.0" fill="#aaa"/>
<rect x="247.5" y="298.1" width="1.0" height="1.0" fill="#aaa"/>
<rect x="257.4" y="287.5" width="1.0" height="1.0" fill="#888"/>
<rect x="253.7" y="298.8" width="1.0" height="1.0" fill="#666"/>
<rect x="257.4" y="293.7" width="1.0" height="1.0" fill="#666"/>
<rect x="243.1" y="301.9" width="1.0" height="1.0" fill="#444"/>
<rect x="253.7" y="291.3" width="1.0" height="1.0" fill="#888"/>
<rect x="263.8" y="289.2" width="1.0" height="1.0" fill="#888"/>
<rect x="239.7" y="287.0" width="1.0" height="1.0" fill="#444"/>
<rect x="265.2" y="296.6" width="1.0" height="1.0" fill="#444"/>
<rect x="259.9" y="285.6" width="1.0" height="1.0" fill="#666"/>
<rect x="267.4" y="287.5" width="1.0" height="1.0" fill="#666"/>
<rect x="253.1" y="292.8" width="1.0" height="1.0" fill="#666"/>
<rect x="265.6" y="294.3" width="1.0" height="1.0" fill="#888"/>
<rect x="272.5" y="290.8" width="1.0" height="1.0" fill="#444"/>
<rect x="257.2" y="286.8" width="1.0" height="1.0" fill="#aaa"/>
<rect x="256.2" y="293.9" width="1.0" height="1.0" fill="#666"/>
<rect x="265.4" y="301.8" width="1.0" height="1.0" fill="#666"/>
<rect x="271.8" y="292.8" width="1.0" height="1.0" fill="#888"/>
<rect x="266.9" y="287.9" width="1.0" height="1.0" fill="#666"/>
<rect x="257.3" y="293.1" width="1.0" height="1.0" fill="#444"/>
<rect x="264.9" y="300.4" width="1.0" height="1.0" fill="#444"/>
<rect x="254.3" y="287.6" width="1.0" height="1.0" fill="#888"/>
<rect x="265.7" y="295.3" width="1.0" height="1.0" fill="#888"/>
<rect x="252.2" y="292.5" width="1.0" height="1.0" fill="#444"/>
<rect x="266.6" y="303.7" width="1.0" height="1.0" fill="#666"/>
<rect x="245.8" y="288.4" width="1.0" height="1.0" fill="#666"/>
<rect x="257.5" y="294.6" width="1.0" height="1.0" fill="#666"/>
<rect x="255.4" y="292.7" width="1.0" height="1.0" fill="#444"/>
<rect x="257.9" y="283.9" width="1.0" height="1.0" fill="#888"/>
<rect x="272.2" y="298.2" width="1.0" height="1.0" fill="#888"/>
<rect x="251.8" y="288.2" width="1.0" height="1.0" fill="#aaa"/>
<rect x="256.0" y="295.8" width="1.0" height="1.0" fill="#444"/>
<rect x="266.8" y="300.8" width="1.0" height="1.0" fill="#888"/>
<rect x="254.6" y="286.3" width="1.0" height="1.0" fill="#aaa"/>
<rect x="244.4" y="290.5" width="1.0" height="1.0" fill="#444"/>
<rect x="262.0" y="291.7" width="1.0" height="1.0" fill="#888"/>
<rect x="250.9" y="291.7" width="1.0" height="1.0" fill="#aaa"/>
<rect x="263.6" y="288.3" width="1.0" height="1.0" fill="#444"/>
<rect x="255.8" y="286.9" width="1.0" height="1.0" fill="#444"/>
<rect x="271.6" y="290.3" width="1.0" height="1.0" fill="#444"/>
<rect x="240.7" y="293.0" width="1.0" height="1.0" fill="#aaa"/>
<rect x="272.3" y="297.0" width="1.0" height="1.0" fill="#666"/>
<rect x="251.5" y="300.3" width="1.0" height="1.0" fill="#aaa"/>
<rect x="259.2" y="290.1" width="1.0" height="1.0" fill="#888"/>
<rect x="256.7" y="302.4" width="1.0" height="1.0" fill="#666"/>
<rect x="268.5" y="290.0" width="1.0" height="1.0" fill="#aaa"/>
<rect x="248.0" y="286.4" width="1.0" height="1.0" fill="#666"/>
<rect x="267.1" y="289.9" width="1.0" height="1.0" fill="#666"/>
<rect x="264.8" y="284.2" width="1.0" height="1.0" fill="#444"/>
<rect x="244.1" y="290.7" width="1.0" height="1.0" fill="#444"/>
<rect x="263.4" y="289.3" width="1.0" height="1.0" fill="#aaa"/>
<rect x="259.4" y="298.2" width="1.0" height="1.0" fill="#444"/>
<rect x="254.2" y="298.0" width="1.0" height="1.0" fill="#666"/>
<rect x="273.2" y="294.3" width="1.0" height="1.0" fill="#aaa"/>
<rect x="261.5" y="288.4" width="1.0" height="1.0" fill="#aaa"/>
<rect x="249.3" y="296.1" width="1.0" height="1.0" fill="#888"/>
<rect x="254.6" y="288.9" width="1.0" height="1.0" fill="#444"/>
<rect x="255.0" y="285.4" width="1.0" height="1.0" fill="#444"/>
<rect x="259.7" y="287.6" width="1.0" height="1.0" fill="#666"/>
<rect x="256.8" y="282.2" width="1.0" height="1.0" fill="#444"/>
<rect x="256.1" y="289.9" width="1.0" height="1.0" fill="#444"/>
<rect x="243.8" y="286.7" width="1.0" height="1.0" fill="#888"/>
<rect x="259.1" y="303.5" width="1.0" height="1.0" fill="#aaa"/>
<rect x="251.8" y="290.2" width="1.0" height="1.0" fill="#666"/>
<rect x="259.8" y="290.5" width="1.0" height="1.0" fill="#444"/>
<rect x="267.0" y="297.9" width="1.0" height="1.0" fill="#888"/>
<rect x="260.3" y="289.7" width="1.0" height="1.0" fill="#888"/>
<rect x="256.7" y="283.8" width="1.0" height="1.0" fill="#444"/>
<rect x="249.5" y="287.4" width="1.0" height="1.0" fill="#888"/>
<rect x="246.2" y="281.5" width="1.0" height="1.0" fill="#444"/>
<rect x="254.6" y="284.5" width="1.0" height="1.0" fill="#444"/>
<rect x="254.3" y="297.1" width="1.0" height="1.0" fill="#888"/>
<rect x="254.9" y="289.6" width="1.0" height="1.0" fill="#aaa"/>
<rect x="265.5" y="286.5" width="1.0" height="1.0" fill="#aaa"/>
<rect x="254.2" y="294.3" width="1.0" height="1.0" fill="#aaa"/>
<rect x="255.0" y="296.3" width="1.0" height="1.0" fill="#666"/>
<rect x="248.8" y="285.7" width="1.0" height="1.0" fill="#444"/>
<rect x="260.8" y="290.2" width="1.0" height="1.0" fill="#888"/>
<rect x="274.9" y="293.4" width="1.0" height="1.0" fill="#888"/>
<rect x="264.6" y="291.6" width="1.0" height="1.0" fill="#444"/>
<rect x="260.2" y="288.2" width="1.0" height="1.0" fill="#444"/>
<rect x="241.8" y="284.4" width="1.0" height="1.0" fill="#666"/>
<rect x="261.5" y="285.4" width="1.0" height="1.0" fill="#444"/>
<rect x="266.1" y="299.0" width="1.0" height="1.0" fill="#444"/>
<rect x="247.5" y="287.3" width="1.0" height="1.0" fill="#666"/>
<rect x="251.8" y="287.3" width="1.0" height="1.0" fill="#aaa"/>
<rect x="259.1" y="292.6" width="1.0" height="1.0" fill="#888"/>
<rect x="260.3" y="304.8" width="1.0" height="1.0" fill="#444"/>
<rect x="247.9" y="288.1" width="1.0" height="1.0" fill="#666"/>
<rect x="256.5" y="286.6" width="1.0" height="1.0" fill="#aaa"/>
<rect x="257.8" y="298.4" width="1.0" height="1.0" fill="#666"/>
<rect x="246.4" y="282.2" width="1.0" height="1.0" fill="#666"/>
<rect x="274.9" y="296.8" width="1.0" height="1.0" fill="#666"/>
<rect x="247.2" y="287.5" width="1.0" height="1.0" fill="#888"/>
<rect x="254.5" y="298.7" width="1.0" height="1.0" fill="#666"/>
<rect x="247.4" y="292.9" width="1.0" height="1.0" fill="#666"/>
<rect x="259.4" y="298.6" width="1.0" height="1.0" fill="#444"/>
<rect x="245.5" y="293.0" width="1.0" height="1.0" fill="#aaa"/>
<rect x="264.9" y="287.0" width="1.0" height="1.0" fill="#444"/>
<rect x="254.5" y="288.8" width="1.0" height="1.0" fill="#888"/>
<rect x="249.9" y="294.0" width="1.0" height="1.0" fill="#666"/>
<rect x="248.6" y="291.6" width="1.0" height="1.0" fill="#666"/>
<rect x="255.6" y="285.8" width="1.0" height="1.0" fill="#888"/>
<rect x="263.7" y="298.9" width="1.0" height="1.0" fill="#aaa"/>
<rect x="252.0" y="291.1" width="1.0" height="1.0" fill="#888"/>
<rect x="252.8" y="285.1" width="1.0" height="1.0" fill="#aaa"/>
<rect x="248.2" y="293.5" width="1.0" height="1.0" fill="#aaa"/>
<rect x="273.2" y="283.9" width="1.0" height="1.0" fill="#888"/>
<rect x="260.6" y="296.9" width="1.0" height="1.0" fill="#444"/>
<rect x="264.3" y="293.7" width="1.0" height="1.0" fill="#666"/>
<rect x="250.9" y="285.4" width="1.0" height="1.0" fill="#aaa"/>
<rect x="257.8" y="296.8" width="1.0" height="1.0" fill="#444"/>
<rect x="255.5" y="292.7" width="1.0" height="1.0" fill="#666"/>
<rect x="257.0" y="279.3" width="1.0" height="1.0" fill="#888"/>
<rect x="262.3" y="289.1" width="1.0" height="1.0" fill="#aaa"/>
<rect x="271.5" y="304.5" width="1.0" height="1.0" fill="#444"/>
<rect x="253.6" y="290.9" width="1.0" height="1.0" fill="#888"/>
<rect x="265.4" y="285.5" width="1.0" height="1.0" fill="#666"/>
<rect x="246.4" y="285.4" width="1.0" height="1.0" fill="#666"/>
<rect x="256.2" y="280.6" width="1.0" height="1.0" fill="#666"/>
<rect x="259.5" y="295.7" width="1.0" height="1.0" fill="#444"/>
<rect x="265.4" y="284.1" width="1.0" height="1.0" fill="#666"/>
<rect x="258.7" y="295.1" width="1.0" height="1.0" fill="#444"/>
<rect x="259.3" y="294.5" width="1.0" height="1.0" fill="#aaa"/>
<rect x="250.7" y="287.9" width="1.0" height="1.0" fill="#444"/>
<rect x="240.1" y="288.2" width="1.0" height="1.0" fill="#888"/>
<rect x="256.5" y="289.9" width="1.0" height="1.0" fill="#666"/>
<rect x="240.4" y="290.6" width="1.0" height="1.0" fill="#666"/>
<rect x="246.1" y="297.7" width="1.0" height="1.0" fill="#444"/>
<rect x="265.1" y="299.8" width="1.0" height="1.0" fill="#444"/>
<rect x="243.6" y="285.9" width="1.0" height="1.0" fill="#666"/>
<rect x="257.9" y="282.1" width="1.0" height="1.0" fill="#444"/>
<rect x="257.4" y="293.3" width="1.0" height="1.0" fill="#888"/>
<rect x="256.1" y="290.8" width="1.0" height="1.0" fill="#888"/>
<rect x="260.1" y="289.6" width="1.0" height="1.0" fill="#aaa"/>
<rect x="268.8" y="288.1" width="1.0" height="1.0" fill="#aaa"/>
<rect x="257.8" y="284.7" width="1.0" height="1.0" fill="#444"/>
<rect x="260.7" y="298.2" width="1.0" height="1.0" fill="#666"/>
<rect x="251.7" y="296.6" width="1.0" height="1.0" fill="#666"/>
<rect x="267.2" y="283.6" width="1.0" height="1.0" fill="#666"/>
<rect x="264.4" y="287.5" width="1.0" height="1.0" fill="#666"/>
<rect x="262.2" y="293.9" width="1.0" height="1.0" fill="#444"/>
<rect x="258.3" y="285.8" width="1.0" height="1.0" fill="#666"/>
<rect x="269.4" y="287.3" width="1.0" height="1.0" fill="#aaa"/>
<rect x="260" y="261.8" width="1" height="1" fill="#888"/>
<rect x="266.4" y="262" width="1" height="1" fill="#888"/>
<rect x="244.2" y="266.3" width="1" height="1" fill="#888"/>
<rect x="244.6" y="271" width="1" height="1" fill="#888"/>
<rect x="275.3" y="274.7" width="1" height="1" fill="#888"/>
<rect x="285.8" y="283.8" width="1" height="1" fill="#888"/>
<rect x="281.8" y="289.8" width="1" height="1" fill="#888"/>
<rect x="222" y="299" width="1" height="1" fill="#888"/>
<rect x="226" y="300" width="1" height="1" fill="#888"/>
<rect x="230" y="298" width="1" height="1" fill="#888"/>
<rect x="249" y="309" width="1" height="1" fill="#888"/>
<rect x="262" y="308" width="1" height="1" fill="#888"/>
<rect x="270" y="306" width="1" height="1" fill="#888"/>
<rect x="215" y="299" width="1" height="1" fill="#888"/>
<line x1="373.0" y1="211.4" x2="373.0" y2="321.2" stroke="#444" stroke-width="1.2"/>
<line x1="371.5" y1="321.2" x2="520" y2="321.2" stroke="#444" stroke-width="1.2"/>
<line x1="370.4" y1="211.4" x2="373.0" y2="211.4" stroke="#444" stroke-width="1.0"/>
<line x1="370.4" y1="233.36" x2="373.0" y2="233.36" stroke="#444" stroke-width="1.0"/>
<line x1="370.4" y1="255.32" x2="373.0" y2="255.32" stroke="#444" stroke-width="1.0"/>
<line x1="370.4" y1="277.28" x2="373.0" y2="277.28" stroke="#444" stroke-width="1.0"/>
<line x1="370.4" y1="299.24" x2="373.0" y2="299.24" stroke="#444" stroke-width="1.0"/>
<line x1="370.4" y1="321.2" x2="373.0" y2="321.2" stroke="#444" stroke-width="1.0"/>
<text x="362.6" y="216.6" font-size="9.0" font-weight="bold" text-anchor="end" fill="#000">10</text>
<text x="362.6" y="213.7" font-size="5.8" font-weight="bold" text-anchor="start" fill="#000">9</text>
<text x="362.6" y="238.2" font-size="9.0" font-weight="bold" text-anchor="end" fill="#000">10</text>
<text x="362.6" y="235.3" font-size="5.8" font-weight="bold" text-anchor="start" fill="#000">8</text>
<text x="362.6" y="259.8" font-size="9.0" font-weight="bold" text-anchor="end" fill="#000">10</text>
<text x="362.6" y="256.9" font-size="5.8" font-weight="bold" text-anchor="start" fill="#000">7</text>
<text x="362.6" y="281.4" font-size="9.0" font-weight="bold" text-anchor="end" fill="#000">10</text>
<text x="362.6" y="278.5" font-size="5.8" font-weight="bold" text-anchor="start" fill="#000">6</text>
<text x="362.6" y="303.0" font-size="9.0" font-weight="bold" text-anchor="end" fill="#000">10</text>
<text x="362.6" y="300.1" font-size="5.8" font-weight="bold" text-anchor="start" fill="#000">5</text>
<text x="362.6" y="324.6" font-size="9.0" font-weight="bold" text-anchor="end" fill="#000">10</text>
<text x="362.6" y="321.7" font-size="5.8" font-weight="bold" text-anchor="start" fill="#000">4</text>
<line x1="373.5" y1="321.2" x2="373.5" y2="323.4" stroke="#444" stroke-width="1.0"/>
<text x="373.5" y="337.9" font-size="9.0" font-weight="bold" text-anchor="middle" fill="#000">0</text>
<line x1="423.3" y1="321.2" x2="423.3" y2="323.4" stroke="#444" stroke-width="1.0"/>
<text x="423.3" y="337.9" font-size="9.0" font-weight="bold" text-anchor="middle" fill="#000">7</text>
<line x1="469.2" y1="321.2" x2="469.2" y2="323.4" stroke="#444" stroke-width="1.0"/>
<text x="469.2" y="337.9" font-size="9.0" font-weight="bold" text-anchor="middle" fill="#000">14</text>
<line x1="517.3" y1="321.2" x2="517.3" y2="323.4" stroke="#444" stroke-width="1.0"/>
<text x="517.3" y="337.9" font-size="9.0" font-weight="bold" text-anchor="middle" fill="#000">21</text>
<text x="445.4" y="356" font-size="10.6" font-weight="bold" text-anchor="middle" fill="#000">Days in culture</text>
<text x="444.4" y="202.1" font-size="9.5" font-weight="bold" text-anchor="middle" fill="#000">SCF / IL-11</text>
<text transform="translate(345.2,264.9) rotate(-90)" font-size="10.9" font-weight="bold" text-anchor="middle" >Cellularity</text>
<polyline points="372.3,297.5 420.8,242.2 469,214.2 516.8,214.2" fill="none" stroke="#000" stroke-width="2.0" stroke-linejoin="round"/>
<polyline points="373.6,299.0 421,246.8 469,247 516.8,248.2" fill="none" stroke="#000" stroke-width="2.0" stroke-linejoin="round"/>
<circle cx="373.6" cy="299.0" r="3.1" fill="#000"/>
<circle cx="421" cy="246.8" r="3.1" fill="#000"/>
<circle cx="469" cy="247" r="3.1" fill="#000"/>
<circle cx="516.8" cy="248.2" r="3.1" fill="#000"/>
<circle cx="372.3" cy="297.5" r="2.5" fill="#fff" stroke="#000" stroke-width="1.2"/>
<circle cx="420.8" cy="242.2" r="2.5" fill="#fff" stroke="#000" stroke-width="1.2"/>
<circle cx="469" cy="214.2" r="2.5" fill="#fff" stroke="#000" stroke-width="1.2"/>
<circle cx="516.8" cy="214.2" r="2.5" fill="#fff" stroke="#000" stroke-width="1.2"/>
<circle cx="373.6" cy="299.0" r="3.1" fill="#000"/>
</svg></body></html>
